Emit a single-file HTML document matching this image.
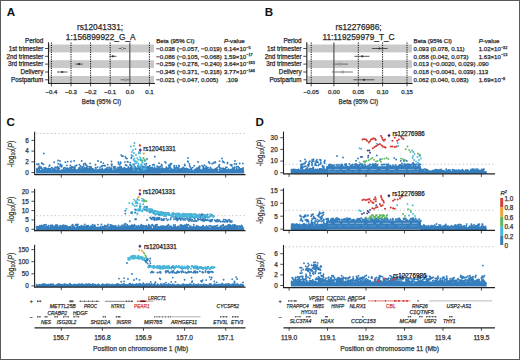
<!DOCTYPE html>
<html><head><meta charset="utf-8"><style>
html,body{margin:0;padding:0;background:#fff;}
body{width:520px;height:360px;overflow:hidden;}
svg{display:block;font-family:"Liberation Sans", sans-serif;}
</style></head><body>
<svg width="520" height="360" viewBox="0 0 520 360">
<rect x="0" y="0" width="520" height="360" fill="#fff"/>
<text x="6.80" y="15.90" font-size="11.6" text-anchor="start" fill="#111" font-weight="bold" font-style="normal" >A</text>
<text x="100.00" y="30.00" font-size="8.3" text-anchor="middle" fill="#2a2a2a" stroke="#2a2a2a" stroke-width="0.25" font-weight="normal" font-style="normal" >rs12041331;</text>
<text x="100.70" y="40.00" font-size="8.3" text-anchor="middle" fill="#2a2a2a" stroke="#2a2a2a" stroke-width="0.25" font-weight="normal" font-style="normal" >1:156899922_G_A</text>
<rect x="49.00" y="44.50" width="105.00" height="7.90" fill="#c9c9c9"/>
<rect x="49.00" y="60.20" width="105.00" height="7.80" fill="#c9c9c9"/>
<rect x="49.00" y="76.00" width="105.00" height="7.00" fill="#c9c9c9"/>
<text x="43.30" y="42.80" font-size="6.3" text-anchor="end" fill="#2a2a2a" stroke="#2a2a2a" stroke-width="0.25" font-weight="normal" font-style="normal" >Period</text>
<text x="43.30" y="50.70" font-size="6.3" text-anchor="end" fill="#2a2a2a" stroke="#2a2a2a" stroke-width="0.25" font-weight="normal" font-style="normal" >1st trimester</text>
<line x1="45.00" y1="48.50" x2="48.50" y2="48.50" stroke="#222" stroke-width="0.8" />
<text x="43.30" y="58.50" font-size="6.3" text-anchor="end" fill="#2a2a2a" stroke="#2a2a2a" stroke-width="0.25" font-weight="normal" font-style="normal" >2nd trimester</text>
<line x1="45.00" y1="56.30" x2="48.50" y2="56.30" stroke="#222" stroke-width="0.8" />
<text x="43.30" y="66.30" font-size="6.3" text-anchor="end" fill="#2a2a2a" stroke="#2a2a2a" stroke-width="0.25" font-weight="normal" font-style="normal" >3rd trimester</text>
<line x1="45.00" y1="64.10" x2="48.50" y2="64.10" stroke="#222" stroke-width="0.8" />
<text x="43.30" y="74.20" font-size="6.3" text-anchor="end" fill="#2a2a2a" stroke="#2a2a2a" stroke-width="0.25" font-weight="normal" font-style="normal" >Delivery</text>
<line x1="45.00" y1="72.00" x2="48.50" y2="72.00" stroke="#222" stroke-width="0.8" />
<text x="43.30" y="82.00" font-size="6.3" text-anchor="end" fill="#2a2a2a" stroke="#2a2a2a" stroke-width="0.25" font-weight="normal" font-style="normal" >Postpartum</text>
<line x1="45.00" y1="79.80" x2="48.50" y2="79.80" stroke="#222" stroke-width="0.8" />
<line x1="51.40" y1="42.50" x2="51.40" y2="83.30" stroke="#111" stroke-width="1.0" stroke-dasharray="1.2,1.1" />
<line x1="51.40" y1="83.30" x2="51.40" y2="86.30" stroke="#222" stroke-width="0.8" />
<text x="51.40" y="93.80" font-size="6.0" text-anchor="middle" fill="#2a2a2a" stroke="#2a2a2a" stroke-width="0.25" font-weight="normal" font-style="normal" >−0.4</text>
<line x1="71.00" y1="42.50" x2="71.00" y2="83.30" stroke="#111" stroke-width="1.0" stroke-dasharray="1.2,1.1" />
<line x1="71.00" y1="83.30" x2="71.00" y2="86.30" stroke="#222" stroke-width="0.8" />
<text x="71.00" y="93.80" font-size="6.0" text-anchor="middle" fill="#2a2a2a" stroke="#2a2a2a" stroke-width="0.25" font-weight="normal" font-style="normal" >−0.3</text>
<line x1="90.60" y1="42.50" x2="90.60" y2="83.30" stroke="#111" stroke-width="1.0" stroke-dasharray="1.2,1.1" />
<line x1="90.60" y1="83.30" x2="90.60" y2="86.30" stroke="#222" stroke-width="0.8" />
<text x="90.60" y="93.80" font-size="6.0" text-anchor="middle" fill="#2a2a2a" stroke="#2a2a2a" stroke-width="0.25" font-weight="normal" font-style="normal" >−0.2</text>
<line x1="110.20" y1="42.50" x2="110.20" y2="83.30" stroke="#111" stroke-width="1.0" stroke-dasharray="1.2,1.1" />
<line x1="110.20" y1="83.30" x2="110.20" y2="86.30" stroke="#222" stroke-width="0.8" />
<text x="110.20" y="93.80" font-size="6.0" text-anchor="middle" fill="#2a2a2a" stroke="#2a2a2a" stroke-width="0.25" font-weight="normal" font-style="normal" >−0.1</text>
<line x1="129.80" y1="42.50" x2="129.80" y2="83.30" stroke="#555" stroke-width="1.2" />
<line x1="129.80" y1="83.30" x2="129.80" y2="86.30" stroke="#222" stroke-width="0.8" />
<text x="129.80" y="93.80" font-size="6.0" text-anchor="middle" fill="#2a2a2a" stroke="#2a2a2a" stroke-width="0.25" font-weight="normal" font-style="normal" >0.0</text>
<line x1="149.40" y1="42.50" x2="149.40" y2="83.30" stroke="#111" stroke-width="1.0" stroke-dasharray="1.2,1.1" />
<line x1="149.40" y1="83.30" x2="149.40" y2="86.30" stroke="#222" stroke-width="0.8" />
<text x="149.40" y="93.80" font-size="6.0" text-anchor="middle" fill="#2a2a2a" stroke="#2a2a2a" stroke-width="0.25" font-weight="normal" font-style="normal" >0.1</text>
<line x1="48.50" y1="42.30" x2="48.50" y2="84.00" stroke="#222" stroke-width="1.1" />
<line x1="48.00" y1="83.50" x2="155.00" y2="83.50" stroke="#222" stroke-width="1.1" />
<text x="101.50" y="103.80" font-size="8.0" text-anchor="middle" fill="#2a2a2a" stroke="#2a2a2a" stroke-width="0.25" font-weight="normal" font-style="normal"  textLength="39.4" lengthAdjust="spacingAndGlyphs">Beta (95% CI)</text>
<line x1="118.63" y1="48.50" x2="126.08" y2="48.50" stroke="#666" stroke-width="0.9" />
<circle cx="122.35" cy="48.50" r="1.1" fill="#f4f4f4" stroke="#555" stroke-width="0.6"/>
<line x1="109.22" y1="56.30" x2="116.47" y2="56.30" stroke="#444" stroke-width="0.9" />
<circle cx="112.94" cy="56.30" r="1.1" fill="#333"/>
<line x1="75.31" y1="64.10" x2="82.76" y2="64.10" stroke="#444" stroke-width="0.9" />
<circle cx="79.04" cy="64.10" r="1.1" fill="#333"/>
<line x1="57.08" y1="72.00" x2="67.47" y2="72.00" stroke="#444" stroke-width="0.9" />
<circle cx="62.18" cy="72.00" r="1.1" fill="#333"/>
<line x1="120.59" y1="79.80" x2="130.78" y2="79.80" stroke="#666" stroke-width="0.9" />
<circle cx="125.68" cy="79.80" r="1.1" fill="#f4f4f4" stroke="#555" stroke-width="0.6"/>
<text x="156.20" y="42.90" font-size="6.1" text-anchor="start" fill="#2a2a2a" stroke="#2a2a2a" stroke-width="0.25" font-weight="normal" font-style="normal" >Beta (95% CI)</text>
<text x="224.00" y="42.90" font-size="6.1" text-anchor="start" fill="#2a2a2a" stroke="#2a2a2a" stroke-width="0.25" font-weight="normal" font-style="normal" ><tspan font-style="italic">P</tspan>-value</text>
<text x="156.20" y="50.70" font-size="6.1" text-anchor="start" fill="#2a2a2a" stroke="#2a2a2a" stroke-width="0.25" font-weight="normal" font-style="normal" >−0.038 (−0.057, −0.019)</text>
<text x="224.00" y="50.70" font-size="6.1" text-anchor="start" fill="#2a2a2a" stroke="#2a2a2a" stroke-width="0.25" font-weight="normal" font-style="normal" >6.14×10<tspan dy="-2.2" font-size="3.8">−5</tspan></text>
<text x="156.20" y="58.50" font-size="6.1" text-anchor="start" fill="#2a2a2a" stroke="#2a2a2a" stroke-width="0.25" font-weight="normal" font-style="normal" >−0.086 (−0.105, −0.068)</text>
<text x="224.00" y="58.50" font-size="6.1" text-anchor="start" fill="#2a2a2a" stroke="#2a2a2a" stroke-width="0.25" font-weight="normal" font-style="normal" >1.59×10<tspan dy="-2.2" font-size="3.8">−17</tspan></text>
<text x="156.20" y="66.30" font-size="6.1" text-anchor="start" fill="#2a2a2a" stroke="#2a2a2a" stroke-width="0.25" font-weight="normal" font-style="normal" >−0.259 (−0.278, −0.240)</text>
<text x="224.00" y="66.30" font-size="6.1" text-anchor="start" fill="#2a2a2a" stroke="#2a2a2a" stroke-width="0.25" font-weight="normal" font-style="normal" >3.64×10<tspan dy="-2.2" font-size="3.8">−163</tspan></text>
<text x="156.20" y="74.20" font-size="6.1" text-anchor="start" fill="#2a2a2a" stroke="#2a2a2a" stroke-width="0.25" font-weight="normal" font-style="normal" >−0.345 (−0.371, −0.318)</text>
<text x="224.00" y="74.20" font-size="6.1" text-anchor="start" fill="#2a2a2a" stroke="#2a2a2a" stroke-width="0.25" font-weight="normal" font-style="normal" >3.77×10<tspan dy="-2.2" font-size="3.8">−148</tspan></text>
<text x="156.20" y="82.00" font-size="6.1" text-anchor="start" fill="#2a2a2a" stroke="#2a2a2a" stroke-width="0.25" font-weight="normal" font-style="normal" >−0.021 (−0.047, 0.005)</text>
<text x="226.00" y="82.00" font-size="6.1" text-anchor="start" fill="#2a2a2a" stroke="#2a2a2a" stroke-width="0.25" font-weight="normal" font-style="normal" >.109</text>
<text x="264.80" y="15.90" font-size="11.6" text-anchor="start" fill="#111" font-weight="bold" font-style="normal" >B</text>
<text x="358.60" y="30.00" font-size="8.3" text-anchor="middle" fill="#2a2a2a" stroke="#2a2a2a" stroke-width="0.25" font-weight="normal" font-style="normal" >rs12276986;</text>
<text x="358.50" y="40.00" font-size="8.3" text-anchor="middle" fill="#2a2a2a" stroke="#2a2a2a" stroke-width="0.25" font-weight="normal" font-style="normal" >11:119259979_T_C</text>
<rect x="307.30" y="44.50" width="104.70" height="7.90" fill="#c9c9c9"/>
<rect x="307.30" y="60.20" width="104.70" height="7.80" fill="#c9c9c9"/>
<rect x="307.30" y="76.00" width="104.70" height="7.00" fill="#c9c9c9"/>
<text x="301.60" y="42.80" font-size="6.3" text-anchor="end" fill="#2a2a2a" stroke="#2a2a2a" stroke-width="0.25" font-weight="normal" font-style="normal" >Period</text>
<text x="301.60" y="50.70" font-size="6.3" text-anchor="end" fill="#2a2a2a" stroke="#2a2a2a" stroke-width="0.25" font-weight="normal" font-style="normal" >1st trimester</text>
<line x1="303.30" y1="48.50" x2="306.80" y2="48.50" stroke="#222" stroke-width="0.8" />
<text x="301.60" y="58.50" font-size="6.3" text-anchor="end" fill="#2a2a2a" stroke="#2a2a2a" stroke-width="0.25" font-weight="normal" font-style="normal" >2nd trimester</text>
<line x1="303.30" y1="56.30" x2="306.80" y2="56.30" stroke="#222" stroke-width="0.8" />
<text x="301.60" y="66.30" font-size="6.3" text-anchor="end" fill="#2a2a2a" stroke="#2a2a2a" stroke-width="0.25" font-weight="normal" font-style="normal" >3rd trimester</text>
<line x1="303.30" y1="64.10" x2="306.80" y2="64.10" stroke="#222" stroke-width="0.8" />
<text x="301.60" y="74.20" font-size="6.3" text-anchor="end" fill="#2a2a2a" stroke="#2a2a2a" stroke-width="0.25" font-weight="normal" font-style="normal" >Delivery</text>
<line x1="303.30" y1="72.00" x2="306.80" y2="72.00" stroke="#222" stroke-width="0.8" />
<text x="301.60" y="82.00" font-size="6.3" text-anchor="end" fill="#2a2a2a" stroke="#2a2a2a" stroke-width="0.25" font-weight="normal" font-style="normal" >Postpartum</text>
<line x1="303.30" y1="79.80" x2="306.80" y2="79.80" stroke="#222" stroke-width="0.8" />
<line x1="311.20" y1="42.50" x2="311.20" y2="83.30" stroke="#111" stroke-width="1.0" stroke-dasharray="1.2,1.1" />
<line x1="311.20" y1="83.30" x2="311.20" y2="86.30" stroke="#222" stroke-width="0.8" />
<text x="311.20" y="93.80" font-size="6.0" text-anchor="middle" fill="#2a2a2a" stroke="#2a2a2a" stroke-width="0.25" font-weight="normal" font-style="normal" >−0.05</text>
<line x1="333.90" y1="42.50" x2="333.90" y2="83.30" stroke="#555" stroke-width="1.2" />
<line x1="333.90" y1="83.30" x2="333.90" y2="86.30" stroke="#222" stroke-width="0.8" />
<text x="333.90" y="93.80" font-size="6.0" text-anchor="middle" fill="#2a2a2a" stroke="#2a2a2a" stroke-width="0.25" font-weight="normal" font-style="normal" >0.00</text>
<line x1="358.30" y1="42.50" x2="358.30" y2="83.30" stroke="#111" stroke-width="1.0" stroke-dasharray="1.2,1.1" />
<line x1="358.30" y1="83.30" x2="358.30" y2="86.30" stroke="#222" stroke-width="0.8" />
<text x="358.30" y="93.80" font-size="6.0" text-anchor="middle" fill="#2a2a2a" stroke="#2a2a2a" stroke-width="0.25" font-weight="normal" font-style="normal" >0.05</text>
<line x1="382.60" y1="42.50" x2="382.60" y2="83.30" stroke="#111" stroke-width="1.0" stroke-dasharray="1.2,1.1" />
<line x1="382.60" y1="83.30" x2="382.60" y2="86.30" stroke="#222" stroke-width="0.8" />
<text x="382.60" y="93.80" font-size="6.0" text-anchor="middle" fill="#2a2a2a" stroke="#2a2a2a" stroke-width="0.25" font-weight="normal" font-style="normal" >0.10</text>
<line x1="407.00" y1="42.50" x2="407.00" y2="83.30" stroke="#111" stroke-width="1.0" stroke-dasharray="1.2,1.1" />
<line x1="407.00" y1="83.30" x2="407.00" y2="86.30" stroke="#222" stroke-width="0.8" />
<text x="407.00" y="93.80" font-size="6.0" text-anchor="middle" fill="#2a2a2a" stroke="#2a2a2a" stroke-width="0.25" font-weight="normal" font-style="normal" >0.15</text>
<line x1="306.80" y1="42.30" x2="306.80" y2="84.00" stroke="#222" stroke-width="1.1" />
<line x1="306.30" y1="83.50" x2="412.70" y2="83.50" stroke="#222" stroke-width="1.1" />
<text x="358.30" y="103.80" font-size="8.0" text-anchor="middle" fill="#2a2a2a" stroke="#2a2a2a" stroke-width="0.25" font-weight="normal" font-style="normal"  textLength="39.4" lengthAdjust="spacingAndGlyphs">Beta (95% CI)</text>
<line x1="371.96" y1="48.50" x2="387.58" y2="48.50" stroke="#444" stroke-width="0.9" />
<circle cx="379.28" cy="48.50" r="1.1" fill="#333"/>
<line x1="354.40" y1="56.30" x2="369.52" y2="56.30" stroke="#444" stroke-width="0.9" />
<circle cx="362.20" cy="56.30" r="1.1" fill="#333"/>
<line x1="332.92" y1="64.10" x2="348.05" y2="64.10" stroke="#666" stroke-width="0.9" />
<circle cx="340.24" cy="64.10" r="1.1" fill="#f4f4f4" stroke="#555" stroke-width="0.6"/>
<line x1="331.90" y1="72.00" x2="352.93" y2="72.00" stroke="#666" stroke-width="0.9" />
<circle cx="342.68" cy="72.00" r="1.1" fill="#f4f4f4" stroke="#555" stroke-width="0.6"/>
<line x1="353.42" y1="79.80" x2="374.40" y2="79.80" stroke="#444" stroke-width="0.9" />
<circle cx="364.16" cy="79.80" r="1.1" fill="#333"/>
<text x="413.60" y="42.90" font-size="6.1" text-anchor="start" fill="#2a2a2a" stroke="#2a2a2a" stroke-width="0.25" font-weight="normal" font-style="normal" >Beta (95% CI)</text>
<text x="478.70" y="42.90" font-size="6.1" text-anchor="start" fill="#2a2a2a" stroke="#2a2a2a" stroke-width="0.25" font-weight="normal" font-style="normal" ><tspan font-style="italic">P</tspan>-value</text>
<text x="413.60" y="50.70" font-size="6.1" text-anchor="start" fill="#2a2a2a" stroke="#2a2a2a" stroke-width="0.25" font-weight="normal" font-style="normal" >0.093 (0.078, 0.11)</text>
<text x="478.70" y="50.70" font-size="6.1" text-anchor="start" fill="#2a2a2a" stroke="#2a2a2a" stroke-width="0.25" font-weight="normal" font-style="normal" >1.02×10<tspan dy="-2.2" font-size="3.8">−32</tspan></text>
<text x="413.60" y="58.50" font-size="6.1" text-anchor="start" fill="#2a2a2a" stroke="#2a2a2a" stroke-width="0.25" font-weight="normal" font-style="normal" >0.058 (0.042, 0.073)</text>
<text x="478.70" y="58.50" font-size="6.1" text-anchor="start" fill="#2a2a2a" stroke="#2a2a2a" stroke-width="0.25" font-weight="normal" font-style="normal" >1.63×10<tspan dy="-2.2" font-size="3.8">−13</tspan></text>
<text x="413.60" y="66.30" font-size="6.1" text-anchor="start" fill="#2a2a2a" stroke="#2a2a2a" stroke-width="0.25" font-weight="normal" font-style="normal" >0.013 (−0.0020, 0.029)</text>
<text x="476.80" y="66.30" font-size="6.1" text-anchor="start" fill="#2a2a2a" stroke="#2a2a2a" stroke-width="0.25" font-weight="normal" font-style="normal" >.090</text>
<text x="413.60" y="74.20" font-size="6.1" text-anchor="start" fill="#2a2a2a" stroke="#2a2a2a" stroke-width="0.25" font-weight="normal" font-style="normal" >0.018 (−0.0041, 0.039)</text>
<text x="476.80" y="74.20" font-size="6.1" text-anchor="start" fill="#2a2a2a" stroke="#2a2a2a" stroke-width="0.25" font-weight="normal" font-style="normal" >.113</text>
<text x="413.60" y="82.00" font-size="6.1" text-anchor="start" fill="#2a2a2a" stroke="#2a2a2a" stroke-width="0.25" font-weight="normal" font-style="normal" >0.062 (0.040, 0.083)</text>
<text x="478.70" y="82.00" font-size="6.1" text-anchor="start" fill="#2a2a2a" stroke="#2a2a2a" stroke-width="0.25" font-weight="normal" font-style="normal" >1.69×10<tspan dy="-2.2" font-size="3.8">−8</tspan></text>
<text x="6.40" y="125.90" font-size="11.6" text-anchor="start" fill="#111" font-weight="bold" font-style="normal" >C</text>
<text x="255.40" y="125.60" font-size="11.6" text-anchor="start" fill="#111" font-weight="bold" font-style="normal" >D</text>
<line x1="34.60" y1="131.80" x2="34.60" y2="175.10" stroke="#222" stroke-width="1.1" />
<line x1="31.40" y1="140.40" x2="34.60" y2="140.40" stroke="#222" stroke-width="0.8" />
<text x="28.80" y="142.70" font-size="6.4" text-anchor="end" fill="#333" stroke="#333" stroke-width="0.25" font-weight="normal" font-style="normal" >6</text>
<line x1="31.40" y1="151.10" x2="34.60" y2="151.10" stroke="#222" stroke-width="0.8" />
<text x="28.80" y="153.40" font-size="6.4" text-anchor="end" fill="#333" stroke="#333" stroke-width="0.25" font-weight="normal" font-style="normal" >4</text>
<line x1="31.40" y1="161.80" x2="34.60" y2="161.80" stroke="#222" stroke-width="0.8" />
<text x="28.80" y="164.10" font-size="6.4" text-anchor="end" fill="#333" stroke="#333" stroke-width="0.25" font-weight="normal" font-style="normal" >2</text>
<line x1="31.40" y1="172.50" x2="34.60" y2="172.50" stroke="#222" stroke-width="0.8" />
<text x="28.80" y="174.80" font-size="6.4" text-anchor="end" fill="#333" stroke="#333" stroke-width="0.25" font-weight="normal" font-style="normal" >0</text>
<text transform="translate(13.60,154.00) rotate(-90)" font-size="8.3" text-anchor="middle" fill="#333" stroke="#333" stroke-width="0.2" textLength="26.6" lengthAdjust="spacingAndGlyphs">-log<tspan font-size="5.6" dy="1.8">10</tspan><tspan dy="-1.8">(</tspan><tspan font-style="italic">P</tspan>)</text>
<line x1="36.00" y1="133.44" x2="247.00" y2="133.44" stroke="#b8b8b8" stroke-width="0.75" stroke-dasharray="1.5,2.2" />
<rect x="35.90" y="170.91" width="208.20" height="2.59" fill="#357ebd"/>
<rect x="119.40" y="168.17" width="41.20" height="5.33" fill="#357ebd"/>
<path d="M48.5 171.2h0M124.4 169.4h0M166.4 167.3h0M100.4 169.5h0M73.9 171.0h0M101.5 170.9h0M200.9 170.4h0M87.0 171.0h0M145.2 168.8h0M123.1 170.0h0M44.6 170.6h0M194.8 171.0h0M180.4 170.9h0M210.4 167.4h0M134.6 170.6h0M49.1 170.4h0M170.5 163.7h0M116.4 170.5h0M48.7 169.9h0M117.4 168.9h0M150.2 168.7h0M206.1 169.0h0M110.8 168.7h0M112.9 171.0h0M233.8 170.4h0M143.2 170.8h0M222.7 169.8h0M217.5 169.7h0M57.9 170.7h0M41.8 168.8h0M212.2 163.7h0M41.3 167.2h0M145.8 165.7h0M215.2 170.4h0M71.1 169.9h0M146.7 169.8h0M204.5 165.1h0M213.0 169.6h0M205.9 170.1h0M83.4 171.2h0M90.1 170.4h0M230.5 164.7h0M165.7 168.4h0M171.7 169.7h0M54.0 170.6h0M224.8 169.8h0M73.5 169.8h0M105.3 169.7h0M119.6 167.3h0M223.8 169.6h0M66.8 169.4h0M239.4 170.6h0M109.0 171.1h0M237.5 170.6h0M145.5 167.7h0M126.3 168.9h0M86.3 170.9h0M63.6 168.2h0M157.3 168.4h0M123.6 168.1h0M140.3 171.2h0M37.3 169.7h0M186.6 171.1h0M104.0 171.2h0M151.5 169.8h0M58.5 171.0h0M196.4 171.2h0M152.8 170.0h0M163.3 171.3h0M142.5 170.4h0M130.1 171.2h0M135.5 167.5h0M181.2 168.8h0M152.3 167.4h0M51.6 170.5h0M198.8 168.5h0M68.5 170.3h0M219.2 166.4h0M82.0 167.1h0M241.4 169.3h0M165.7 171.2h0M49.8 165.1h0M199.7 166.2h0M44.7 169.8h0M123.9 168.2h0M67.4 168.1h0M154.6 170.4h0M51.5 167.6h0M167.8 169.6h0M53.8 169.1h0M50.3 169.0h0M151.0 167.9h0M188.2 171.1h0M139.0 169.3h0M117.9 171.3h0M178.9 165.4h0M107.4 169.3h0M182.8 170.7h0M51.1 170.1h0M54.0 169.3h0M216.7 170.5h0M91.0 166.7h0M237.8 171.1h0M87.1 166.5h0M134.8 171.3h0M78.1 171.3h0M157.7 171.2h0M191.9 170.6h0M184.7 168.8h0M186.4 170.7h0M45.6 169.3h0M221.1 170.8h0M188.4 169.5h0M65.3 171.2h0M140.9 169.3h0M203.1 169.4h0M157.4 168.6h0M177.9 170.4h0M58.2 169.3h0M152.1 170.8h0M166.1 170.5h0M201.6 170.1h0M140.6 171.1h0M189.6 165.9h0M135.7 170.5h0M195.3 170.8h0M175.6 170.4h0M239.0 167.6h0M206.2 166.4h0M79.9 167.4h0M80.1 171.0h0M65.8 171.2h0M206.3 171.2h0M220.1 170.4h0M84.4 168.5h0M37.2 171.3h0M101.9 169.3h0M36.9 170.0h0M228.3 170.3h0M243.3 170.9h0M57.6 169.3h0M95.6 167.7h0M113.8 167.0h0M219.5 169.5h0M167.1 168.2h0M231.2 171.1h0M192.3 170.7h0M98.1 170.1h0M79.5 168.3h0M224.1 162.5h0M154.4 168.6h0M122.2 171.2h0M140.7 170.7h0M234.0 169.2h0M43.2 170.3h0M117.5 167.9h0M207.4 169.1h0M144.6 170.5h0M231.4 170.2h0M170.5 169.9h0M131.2 171.1h0M44.7 169.8h0M84.6 168.0h0M168.2 170.4h0M145.1 171.0h0M235.0 170.7h0M235.3 170.3h0M139.7 170.5h0M174.6 167.9h0M201.5 170.1h0M82.3 170.0h0M97.6 167.1h0M174.2 167.3h0M80.6 166.0h0M222.4 168.7h0M188.2 161.9h0M74.9 167.7h0M110.3 169.5h0M113.7 168.1h0M121.5 169.6h0M191.2 168.5h0M234.7 170.8h0M90.8 170.3h0M37.3 170.0h0M226.2 170.7h0M234.6 167.1h0M125.5 171.3h0M202.6 170.1h0M206.8 169.9h0M77.3 170.0h0M43.5 171.1h0M103.9 165.6h0M219.4 164.7h0M56.5 171.3h0M164.9 170.5h0M191.3 169.2h0M68.2 168.7h0M118.5 163.9h0M203.8 170.6h0M134.8 169.5h0M210.5 168.2h0M237.9 171.0h0M90.3 169.8h0M159.9 170.8h0M89.3 170.9h0M201.1 171.1h0M118.3 171.1h0M70.4 170.4h0M100.2 167.1h0M101.2 171.0h0M215.4 162.5h0M37.7 168.4h0M124.2 169.5h0M120.6 168.7h0M39.6 171.1h0M169.1 168.3h0M54.9 170.8h0M113.3 171.3h0M144.4 167.9h0M203.1 166.5h0M231.7 165.9h0M223.7 170.8h0M120.2 169.2h0M186.6 168.5h0M45.0 171.0h0M160.6 171.1h0M123.5 171.0h0M124.6 170.6h0M41.3 170.8h0M194.6 169.8h0M188.3 169.8h0M213.9 162.7h0M188.0 169.5h0M76.6 165.4h0M138.3 167.0h0M199.7 167.8h0M140.5 168.0h0M69.9 167.6h0M177.2 168.5h0M71.4 169.8h0M60.3 171.2h0M217.2 171.1h0M156.6 168.7h0M58.2 163.8h0M241.5 171.0h0M111.1 169.9h0M168.8 165.2h0M157.8 170.6h0M142.6 168.5h0M82.9 171.0h0M64.4 167.6h0M56.3 170.7h0M216.9 169.8h0M38.9 170.7h0M230.5 170.2h0M87.9 168.4h0M45.6 171.2h0M48.6 169.8h0M39.1 171.1h0M77.8 170.8h0M141.4 170.7h0M46.5 168.6h0M198.6 170.3h0M37.8 169.2h0M106.0 170.1h0M180.4 169.2h0M199.7 171.2h0M91.4 170.7h0M190.5 167.4h0M86.0 168.3h0M167.1 170.4h0M174.2 165.7h0M133.7 169.3h0M180.9 169.1h0M127.0 170.2h0M80.4 170.8h0M52.6 168.2h0M58.6 167.8h0M179.9 170.7h0M180.8 170.1h0M50.1 170.9h0M111.7 169.5h0M206.1 168.6h0M50.2 168.9h0M225.8 167.4h0M212.0 169.5h0M167.8 169.4h0M95.0 170.3h0M236.0 171.3h0M212.7 170.8h0M126.8 169.9h0M108.3 170.3h0M194.3 165.8h0M138.2 169.7h0M74.7 171.3h0M108.4 169.4h0M90.4 167.4h0M181.3 171.3h0M59.3 170.7h0M53.2 169.8h0M180.8 169.8h0M223.1 171.3h0M115.0 168.7h0M146.5 170.0h0M192.4 170.7h0M68.7 169.2h0M173.6 170.1h0M196.6 171.0h0M182.1 169.2h0M238.4 170.2h0M57.6 166.7h0M240.2 169.7h0M77.1 170.7h0M119.1 169.7h0M180.0 171.3h0M65.9 170.9h0M120.3 170.1h0M155.3 170.1h0M186.0 168.8h0M196.7 170.4h0M213.0 170.5h0M101.3 170.8h0M198.5 170.3h0M176.3 167.8h0M74.4 170.6h0M137.9 166.0h0M44.4 171.1h0M69.8 169.8h0M231.2 171.2h0M57.4 171.0h0M148.5 170.3h0M142.5 170.7h0M208.1 171.2h0M121.4 167.3h0M80.0 170.5h0M117.7 170.0h0M61.8 165.1h0M123.6 170.4h0M83.0 170.1h0M231.1 171.2h0M81.8 169.6h0M63.3 169.9h0M204.1 170.7h0M133.6 171.0h0M83.3 166.6h0M109.6 170.7h0M206.0 169.5h0M37.1 170.2h0M125.2 170.7h0M228.7 169.1h0M48.3 169.4h0M224.0 169.8h0M65.6 169.4h0M38.9 167.1h0M84.9 169.9h0M223.6 169.7h0M71.3 168.6h0M162.4 169.8h0M174.9 168.5h0M199.6 169.3h0M77.4 170.4h0M146.4 170.1h0M127.3 168.7h0M138.2 171.3h0M148.2 169.0h0M37.9 169.3h0M133.4 171.0h0M174.2 169.3h0M168.4 170.7h0M42.4 170.8h0M177.8 167.8h0M104.9 165.4h0M185.2 170.8h0M106.6 169.0h0M145.3 169.9h0M123.9 171.1h0M141.3 166.0h0M172.0 169.7h0M98.4 170.9h0M167.9 169.8h0M44.8 170.2h0M219.8 171.1h0M227.2 170.8h0M172.7 169.8h0M224.8 170.8h0M164.2 170.8h0M180.7 170.9h0M196.8 168.2h0M206.8 169.8h0M169.3 167.7h0M47.8 171.0h0M204.2 171.0h0M159.0 167.6h0M37.5 170.5h0M61.7 166.5h0M54.7 168.9h0M46.9 169.9h0M184.2 169.1h0M166.6 170.3h0M131.8 167.7h0M89.1 166.6h0M39.5 170.6h0M100.9 170.2h0M70.9 169.0h0M112.6 171.0h0M127.3 170.5h0M66.5 169.7h0M111.7 170.7h0M116.3 169.8h0M232.1 169.8h0M49.1 166.1h0M182.1 169.4h0M105.2 170.9h0M238.8 169.4h0M125.2 168.6h0M114.5 170.5h0M161.1 168.5h0M124.0 170.9h0M205.4 168.6h0M45.3 169.3h0M204.5 168.9h0M212.7 169.6h0M178.2 168.2h0M151.1 169.7h0M78.0 170.1h0M162.1 170.5h0M89.2 170.0h0M54.7 169.6h0M156.5 168.5h0M219.7 171.2h0M135.2 170.9h0M73.9 170.4h0M111.6 171.0h0M119.8 171.2h0M58.5 170.7h0M43.5 164.3h0M232.4 169.9h0M206.0 166.7h0M151.9 168.9h0M131.4 167.3h0M61.3 166.8h0M89.7 171.0h0M169.1 167.0h0M236.4 164.0h0M223.4 168.4h0M199.3 170.3h0M170.4 165.0h0M192.8 167.6h0M158.9 170.0h0M44.0 167.9h0M82.2 167.7h0M215.9 168.6h0M56.6 167.8h0M210.8 170.8h0M184.2 171.1h0M66.5 168.9h0M71.2 171.3h0M102.3 168.4h0M60.1 165.7h0M48.3 168.5h0M111.9 164.2h0M243.1 167.9h0M208.8 171.2h0M73.8 169.9h0M162.5 171.3h0M163.3 170.3h0M204.5 171.0h0M210.8 169.0h0M75.0 169.4h0M113.3 170.9h0M37.5 171.2h0M128.8 171.2h0M61.5 170.3h0M205.5 169.0h0M102.9 170.3h0M115.4 170.0h0M49.2 168.9h0M234.0 171.3h0M142.8 171.2h0M88.3 169.5h0M40.2 170.9h0M155.8 171.2h0M216.5 170.3h0M138.7 171.3h0M159.0 169.0h0M67.0 171.0h0M207.5 167.6h0M210.3 171.2h0M118.4 167.5h0M126.7 165.5h0M203.0 168.2h0M205.2 169.2h0M47.6 171.2h0M234.8 167.7h0M126.1 171.3h0M237.2 169.9h0M230.4 170.7h0M204.0 168.7h0M148.7 167.9h0M99.7 170.7h0M61.4 170.9h0M234.4 171.2h0M54.7 171.1h0M210.3 170.8h0M154.5 170.6h0M78.1 170.3h0M131.9 171.1h0M82.4 171.2h0M115.8 170.9h0M151.7 171.3h0M95.5 164.8h0M97.7 169.9h0M127.6 170.2h0M235.1 170.1h0M109.5 170.5h0M164.1 169.2h0M206.5 171.2h0M189.4 170.1h0M199.0 170.3h0M195.0 170.9h0M139.6 166.7h0M198.7 168.9h0M117.4 171.1h0M199.4 169.2h0M66.5 171.0h0M211.1 169.3h0M124.8 168.2h0M153.4 171.3h0M227.0 169.9h0M148.0 167.0h0M143.6 170.5h0M232.7 170.5h0M152.7 171.0h0M218.6 166.6h0M165.8 162.7h0M107.6 171.2h0M102.3 165.7h0M207.5 171.2h0M59.4 168.5h0M179.3 169.5h0M241.5 168.6h0M96.5 171.2h0M74.3 170.7h0M242.2 170.7h0M99.5 169.2h0M157.8 170.6h0M77.2 171.3h0M170.4 171.2h0M242.9 171.0h0M69.0 170.0h0M71.8 171.2h0M206.9 170.8h0M39.1 169.9h0M103.3 170.3h0M223.6 171.0h0M220.8 171.0h0M45.6 167.8h0M222.6 169.5h0M99.4 170.9h0M235.2 171.3h0M117.2 170.3h0M75.1 166.2h0M96.7 171.0h0M60.3 171.2h0M43.7 170.6h0M92.3 169.3h0M209.6 169.6h0M233.3 171.3h0M63.6 170.3h0M90.5 168.4h0M87.5 170.8h0M80.5 168.9h0M61.9 171.2h0M172.6 171.0h0M120.0 168.3h0M196.9 168.7h0M177.2 170.6h0M172.9 170.4h0M87.9 169.2h0M109.4 170.8h0M225.4 170.2h0M100.9 170.7h0M73.7 169.3h0M154.5 170.3h0M36.7 169.3h0M45.4 169.1h0M225.8 170.1h0M54.3 170.4h0M118.0 170.1h0M55.1 167.3h0M124.3 167.8h0M179.7 170.1h0M208.3 170.8h0M142.5 167.9h0M62.9 170.0h0M45.5 170.4h0M149.6 166.3h0M168.5 171.1h0M64.8 170.3h0M86.5 171.2h0M128.6 167.7h0M205.3 171.1h0M174.5 170.9h0M132.0 169.9h0M38.7 163.9h0M184.9 165.6h0M75.8 171.1h0M38.2 168.1h0M169.9 170.8h0M230.1 170.6h0M196.8 169.3h0M168.6 169.2h0M198.9 169.4h0M74.7 169.4h0M45.0 171.0h0M166.5 169.5h0M182.6 168.3h0M232.1 171.3h0M98.5 171.0h0M53.1 170.4h0M76.0 170.2h0M37.1 169.3h0M213.6 169.8h0M173.5 171.2h0M127.3 170.6h0M207.5 168.4h0M128.2 171.0h0M131.8 166.2h0M224.6 169.0h0M238.2 166.7h0M164.8 169.6h0M48.9 170.5h0M154.7 167.1h0M136.0 170.7h0M75.6 170.5h0M146.2 171.0h0M73.9 168.6h0M56.2 171.2h0M142.7 170.9h0M215.2 171.1h0M184.4 170.0h0M60.2 164.2h0M71.9 166.8h0M153.0 169.9h0M64.8 169.9h0M98.6 170.3h0M124.7 168.6h0M165.1 168.9h0M153.0 168.1h0M194.6 170.5h0M113.7 170.1h0M232.7 170.2h0M45.5 170.9h0M57.1 171.1h0M228.0 170.5h0M129.0 169.3h0M66.4 168.8h0M148.0 170.4h0M203.8 167.3h0M67.7 171.3h0M217.2 169.7h0M205.9 170.5h0M69.3 169.2h0M117.9 168.9h0M221.6 170.9h0M66.7 170.5h0M154.3 171.2h0M234.6 163.9h0M43.6 171.0h0M196.1 168.9h0M196.8 170.7h0M94.8 169.7h0M217.2 167.6h0M194.5 170.1h0M141.8 170.7h0M109.0 171.1h0M128.7 171.0h0M100.4 170.2h0M150.6 167.6h0M107.0 168.0h0M73.5 171.0h0M136.8 168.5h0M92.0 170.3h0M78.0 170.9h0M215.4 170.7h0M77.2 170.2h0M235.9 170.9h0M52.9 169.6h0M147.6 168.8h0M169.0 168.0h0M191.6 170.7h0M120.4 170.5h0M138.8 170.9h0M39.3 167.9h0M153.3 164.8h0M48.1 170.8h0M66.0 169.9h0M55.1 169.5h0M124.1 171.1h0M158.3 171.1h0M172.6 170.9h0M105.0 170.1h0M89.9 170.3h0M194.5 169.9h0M100.5 169.9h0M94.1 171.2h0M172.2 169.9h0M111.5 164.5h0M83.7 170.0h0M140.4 171.1h0M74.1 167.5h0M73.2 170.1h0M42.5 169.8h0M86.7 165.4h0M139.8 170.7h0M107.8 169.7h0M226.8 167.4h0M78.6 170.0h0M215.2 168.9h0M91.8 170.0h0M177.8 170.9h0M130.3 171.0h0M197.9 169.0h0M74.2 169.0h0M71.4 170.5h0M226.6 170.3h0M219.1 165.6h0M200.5 170.4h0M44.3 171.3h0M189.3 171.3h0M139.2 168.1h0M236.8 168.7h0M38.7 170.4h0M171.7 171.1h0M150.1 170.4h0M239.8 168.8h0M162.3 167.9h0M89.2 170.8h0M211.0 169.8h0M170.3 171.1h0M101.8 166.2h0M36.7 170.1h0M213.2 171.2h0M159.1 163.2h0M85.0 170.7h0M145.4 170.8h0M166.7 171.1h0M82.7 170.8h0M91.3 168.3h0M134.5 170.2h0M228.5 171.2h0M145.0 171.2h0M72.2 169.5h0M131.8 170.7h0M207.8 168.5h0M115.4 169.3h0M202.8 171.2h0M118.4 162.3h0M135.5 169.7h0M78.1 171.0h0M168.2 169.0h0M200.5 170.8h0M120.9 170.7h0M116.3 171.0h0M237.6 170.3h0M113.6 170.6h0M145.3 171.3h0M223.1 170.0h0M41.8 170.9h0M134.5 168.6h0M127.5 171.3h0M142.4 169.4h0M175.3 170.1h0M177.2 171.1h0M195.7 169.9h0M52.5 169.5h0M192.4 171.0h0M47.9 170.5h0M47.8 170.4h0M123.0 171.0h0M243.1 169.5h0M105.7 171.2h0M37.7 164.6h0M214.3 171.1h0M215.9 169.6h0M226.8 171.1h0M93.1 169.7h0M96.8 170.3h0M202.6 170.9h0M130.6 167.7h0M128.6 168.8h0M227.4 171.0h0M202.2 171.3h0M176.0 170.5h0M198.8 167.2h0M122.3 170.6h0M89.8 168.3h0M48.2 170.4h0M45.1 169.3h0M202.0 165.6h0M115.2 170.7h0M82.7 171.1h0M227.6 162.7h0M231.0 171.2h0M191.8 171.3h0M136.8 169.0h0M160.2 171.1h0M92.6 168.6h0M160.5 166.5h0M107.8 167.4h0M87.7 170.1h0M73.5 169.8h0M150.7 169.8h0M43.5 171.2h0M56.6 170.7h0M63.8 171.0h0M71.6 167.5h0M105.1 169.2h0M139.2 171.1h0M70.5 171.1h0M86.2 168.9h0M140.4 168.6h0M39.6 167.4h0M137.6 169.7h0M154.6 170.4h0M84.0 170.1h0M159.7 169.8h0M87.4 170.9h0M164.5 170.4h0M87.2 170.2h0M105.0 165.9h0M242.9 169.7h0M135.8 171.3h0M197.8 168.3h0M192.1 170.7h0M77.7 170.8h0M211.6 169.8h0M55.6 170.3h0M236.4 170.5h0M208.0 167.6h0M223.8 170.1h0M208.8 169.6h0M207.3 169.8h0M235.4 171.2h0M237.0 169.8h0M88.7 169.3h0M138.5 168.3h0M178.4 170.3h0M117.6 169.8h0M200.8 170.5h0M231.4 169.4h0M171.6 169.3h0M106.8 170.9h0M209.6 169.7h0M109.7 169.2h0M173.3 169.6h0M61.5 170.5h0M45.1 169.4h0M82.9 168.6h0M162.8 168.5h0M118.1 171.3h0M234.3 171.3h0M72.8 167.4h0M130.6 169.6h0M57.4 171.1h0M215.0 171.2h0M114.5 167.8h0M221.5 170.6h0M52.2 170.8h0M128.4 166.9h0M111.4 170.6h0M144.6 170.5h0M224.3 171.3h0M111.8 165.9h0M48.3 169.3h0M178.0 171.1h0M129.2 170.0h0M221.0 170.2h0M233.8 168.6h0M66.4 170.9h0M117.7 170.1h0M239.0 170.7h0M203.1 170.5h0M115.3 166.7h0M183.4 170.4h0M155.6 169.4h0M65.5 171.2h0M236.7 166.7h0M78.7 168.3h0M129.7 169.3h0M168.4 169.8h0M152.2 170.5h0M111.6 168.1h0M207.6 171.0h0M109.7 167.5h0M51.0 171.1h0M192.5 170.5h0M121.9 169.6h0M170.0 166.5h0M167.7 170.4h0M231.2 170.1h0M74.9 168.9h0M146.6 171.2h0M175.1 168.4h0M140.4 169.1h0M174.7 171.0h0M120.1 171.0h0M93.2 169.2h0M199.7 169.3h0M67.8 170.5h0M192.6 171.3h0M222.5 168.5h0M190.3 169.5h0M170.8 168.8h0M63.7 170.4h0M182.2 170.8h0M161.4 169.4h0M176.4 166.0h0M37.2 170.7h0M151.4 169.6h0M44.7 169.4h0M105.0 171.0h0M81.6 169.7h0M79.8 169.3h0M203.9 171.1h0M42.8 169.8h0M42.4 171.3h0M166.9 170.2h0M142.5 170.9h0M83.3 168.9h0M242.6 169.6h0M130.5 170.5h0M76.7 170.1h0M77.4 170.4h0M152.5 170.4h0M237.9 170.1h0M232.8 168.0h0M186.1 170.3h0M39.2 169.0h0M186.0 170.7h0M70.4 170.7h0M110.0 168.5h0M68.4 169.8h0M134.1 164.3h0M225.2 169.7h0M135.1 169.5h0M153.1 171.2h0M40.9 168.3h0M183.5 167.4h0M204.6 169.2h0M80.8 170.9h0M208.4 169.8h0M220.5 171.2h0M165.8 168.7h0M136.8 170.7h0M58.0 170.9h0M131.0 170.9h0M168.2 170.3h0M175.8 170.3h0M86.1 170.6h0M65.8 168.3h0M85.9 164.9h0M199.6 169.4h0M167.7 170.1h0M238.6 169.6h0M86.3 167.8h0M82.0 170.5h0M229.1 170.7h0M237.9 170.3h0M75.2 169.6h0M70.2 171.2h0M58.4 169.8h0M220.7 168.1h0M37.0 169.1h0M151.6 169.5h0M140.5 170.8h0M159.6 169.7h0M208.2 169.6h0M238.6 171.1h0M187.6 169.2h0M162.0 165.7h0M179.8 170.9h0M120.8 170.8h0M170.8 168.1h0M188.2 169.7h0M225.5 169.3h0M177.4 169.2h0M125.7 168.8h0M73.7 167.5h0M127.9 170.3h0M239.5 170.6h0M229.5 170.0h0M209.7 163.4h0M220.0 168.0h0M104.5 169.9h0M196.9 168.6h0M201.0 171.2h0M58.2 169.4h0M101.4 170.8h0M112.5 171.1h0M146.4 170.6h0M148.0 167.6h0M120.9 168.2h0M179.3 166.5h0M96.0 168.3h0M184.7 164.4h0M147.5 166.9h0M149.8 165.8h0M121.1 166.8h0M158.6 167.5h0M143.6 167.4h0M143.9 166.8h0M124.5 169.2h0M158.8 166.9h0M130.9 165.4h0M154.2 164.7h0M146.4 168.2h0M146.1 168.4h0M120.6 163.3h0M125.2 156.6h0M134.5 166.3h0M125.5 165.0h0M129.9 164.8h0M146.5 163.8h0M138.4 166.5h0M157.5 168.6h0M149.8 168.5h0M154.8 156.7h0M157.7 168.9h0M215.1 162.0h0M54.1 162.3h0M227.4 163.4h0M187.7 161.2h0M130.3 162.6h0M79.3 164.6h0M111.4 161.5h0M239.7 163.5h0M74.1 160.9h0M171.5 163.7h0M42.0 163.5h0M189.5 163.9h0M85.2 163.6h0M161.6 164.5h0M66.9 165.4h0M231.8 165.0h0M213.6 162.9h0M223.0 161.8h0M83.7 164.2h0M222.7 161.3h0M81.7 161.0h0M127.4 161.6h0M76.5 165.1h0M157.2 166.2h0M119.8 164.7h0M39.6 166.2h0M85.0 163.5h0M142.4 166.2h0M138.4 166.5h0M165.0 162.0h0M208.8 162.0h0M242.9 163.4h0M83.6 166.3h0M103.3 163.1h0M107.7 164.6h0M41.7 162.9h0M70.4 165.5h0M37.0 164.3h0M90.1 163.4h0M152.7 164.9h0M65.4 162.2h0M61.8 166.3h0M67.7 161.6h0M144.6 164.1h0M219.6 161.1h0" stroke="#357ebd" stroke-width="1.90" stroke-linecap="round" fill="none"/>
<path d="M43.8 153.4h0M58.0 160.5h0M60.0 161.0h0M71.0 161.5h0M98.0 161.0h0M101.0 162.0h0M147.0 159.0h0M198.0 162.0h0M188.0 158.0h0M235.0 161.0h0M222.0 158.5h0" stroke="#357ebd" stroke-width="1.90" stroke-linecap="round" fill="none"/>
<path d="M122.8 156.3h0M127.0 158.6h0M124.9 162.1h0M127.9 161.9h0M131.5 157.2h0M131.3 158.3h0M120.6 162.3h0M121.2 155.1h0M122.0 156.0h0M126.0 158.0h0" stroke="#357ebd" stroke-width="1.90" stroke-linecap="round" fill="none"/>
<path d="M134.5 143.0h0M134.0 146.0h0M131.0 146.5h0M133.0 150.0h0M132.0 152.0h0M134.0 153.0h0M133.0 156.0h0M135.5 149.0h0M131.5 155.0h0M134.5 158.5h0M136.0 155.0h0M136.8 161.8h0M145.6 169.3h0M138.5 164.9h0M144.0 168.5h0M141.5 164.7h0M134.5 161.2h0M141.6 165.6h0M143.4 169.7h0M145.5 160.5h0M134.0 169.7h0M140.4 160.4h0M142.0 161.3h0M136.1 162.8h0M139.8 166.8h0M134.0 167.6h0M141.1 164.1h0M141.7 168.4h0M133.1 164.2h0M141.8 167.2h0M141.4 160.3h0M145.5 168.2h0M136.0 163.6h0M145.5 160.7h0M138.3 170.5h0M144.7 161.0h0M142.6 162.7h0M141.6 168.0h0M134.7 160.9h0M135.8 161.5h0M133.5 159.8h0M138.3 163.5h0M134.0 165.6h0M145.3 165.5h0M137.6 167.2h0M138.6 153.4h0M138.9 152.1h0M140.1 153.3h0M138.2 159.7h0M140.6 158.7h0M139.9 157.1h0M140.2 159.7h0M137.2 158.1h0" stroke="#46b8da" stroke-width="1.90" stroke-linecap="round" fill="none"/>
<path d="M143.3 158.0h0M144.5 159.5h0M142.5 160.5h0" stroke="#5cb85c" stroke-width="1.90" stroke-linecap="round" fill="none"/>
<path d="M143.8 153.6h0" stroke="#eea236" stroke-width="2.20" stroke-linecap="round" fill="none"/>
<path d="M139.9 145.5h0" stroke="#d43f3a" stroke-width="2.30" stroke-linecap="round" fill="none"/>
<path d="M140.30 148.30L141.83 150.10L140.30 151.90L138.77 150.10Z" fill="#4e2a84"/>
<text x="143.30" y="151.30" font-size="6.3" text-anchor="start" fill="#222" stroke="#222" stroke-width="0.25" font-weight="normal" font-style="normal"  textLength="32.4" lengthAdjust="spacingAndGlyphs">rs12041331</text>
<line x1="34.50" y1="174.60" x2="245.50" y2="174.60" stroke="#222" stroke-width="1.3" />
<line x1="61.30" y1="174.60" x2="61.30" y2="177.60" stroke="#222" stroke-width="0.8" />
<line x1="102.40" y1="174.60" x2="102.40" y2="177.60" stroke="#222" stroke-width="0.8" />
<line x1="143.50" y1="174.60" x2="143.50" y2="177.60" stroke="#222" stroke-width="0.8" />
<line x1="184.60" y1="174.60" x2="184.60" y2="177.60" stroke="#222" stroke-width="0.8" />
<line x1="225.70" y1="174.60" x2="225.70" y2="177.60" stroke="#222" stroke-width="0.8" />
<line x1="34.60" y1="188.80" x2="34.60" y2="231.20" stroke="#222" stroke-width="1.1" />
<line x1="31.40" y1="191.90" x2="34.60" y2="191.90" stroke="#222" stroke-width="0.8" />
<text x="28.80" y="194.20" font-size="6.4" text-anchor="end" fill="#333" stroke="#333" stroke-width="0.25" font-weight="normal" font-style="normal" >20</text>
<line x1="31.40" y1="201.25" x2="34.60" y2="201.25" stroke="#222" stroke-width="0.8" />
<text x="28.80" y="203.55" font-size="6.4" text-anchor="end" fill="#333" stroke="#333" stroke-width="0.25" font-weight="normal" font-style="normal" >15</text>
<line x1="31.40" y1="210.60" x2="34.60" y2="210.60" stroke="#222" stroke-width="0.8" />
<text x="28.80" y="212.90" font-size="6.4" text-anchor="end" fill="#333" stroke="#333" stroke-width="0.25" font-weight="normal" font-style="normal" >10</text>
<line x1="31.40" y1="219.95" x2="34.60" y2="219.95" stroke="#222" stroke-width="0.8" />
<text x="28.80" y="222.25" font-size="6.4" text-anchor="end" fill="#333" stroke="#333" stroke-width="0.25" font-weight="normal" font-style="normal" >5</text>
<line x1="31.40" y1="229.30" x2="34.60" y2="229.30" stroke="#222" stroke-width="0.8" />
<text x="28.80" y="231.60" font-size="6.4" text-anchor="end" fill="#333" stroke="#333" stroke-width="0.25" font-weight="normal" font-style="normal" >0</text>
<text transform="translate(13.60,210.00) rotate(-90)" font-size="8.3" text-anchor="middle" fill="#333" stroke="#333" stroke-width="0.2" textLength="26.6" lengthAdjust="spacingAndGlyphs">-log<tspan font-size="5.6" dy="1.8">10</tspan><tspan dy="-1.8">(</tspan><tspan font-style="italic">P</tspan>)</text>
<line x1="36.00" y1="215.65" x2="247.00" y2="215.65" stroke="#b8b8b8" stroke-width="0.75" stroke-dasharray="1.5,2.2" />
<rect x="35.90" y="228.12" width="208.20" height="2.18" fill="#357ebd"/>
<path d="M206.6 228.1h0M212.4 226.6h0M39.6 228.3h0M72.4 227.7h0M91.4 227.7h0M60.1 225.7h0M105.9 228.3h0M165.7 227.7h0M90.9 227.2h0M228.8 228.2h0M201.5 227.2h0M56.0 228.1h0M76.1 227.7h0M202.9 227.2h0M173.8 228.2h0M146.9 227.6h0M42.9 227.6h0M168.9 227.8h0M163.7 226.3h0M196.2 227.0h0M184.8 225.1h0M101.8 227.6h0M48.0 228.1h0M229.4 226.6h0M61.3 228.4h0M184.8 228.3h0M184.0 227.4h0M228.5 225.7h0M130.8 228.0h0M239.6 226.2h0M50.7 227.5h0M56.0 225.0h0M70.4 228.3h0M72.5 227.4h0M90.2 227.5h0M221.1 226.2h0M134.4 225.2h0M132.8 227.7h0M76.6 225.1h0M58.6 227.1h0M72.3 227.5h0M123.1 227.0h0M215.2 228.2h0M38.7 227.4h0M162.1 226.3h0M212.1 227.1h0M83.5 226.2h0M121.5 228.0h0M220.2 227.5h0M87.1 226.0h0M203.0 225.8h0M192.8 227.1h0M88.9 227.9h0M115.3 226.9h0M64.2 228.3h0M106.1 227.1h0M108.0 226.9h0M212.0 226.5h0M65.3 225.7h0M190.6 227.8h0M216.6 228.3h0M198.6 227.3h0M41.9 227.2h0M50.5 227.5h0M119.7 227.2h0M167.4 226.4h0M133.9 226.3h0M217.4 228.2h0M58.4 228.1h0M208.1 228.3h0M218.8 227.9h0M111.7 225.1h0M55.6 228.3h0M206.3 227.3h0M190.7 227.2h0M81.8 226.5h0M115.3 227.7h0M149.7 228.4h0M234.5 226.6h0M224.9 228.3h0M193.7 226.6h0M111.4 225.9h0M140.5 226.3h0M222.9 225.2h0M142.2 225.8h0M167.1 227.2h0M124.2 228.1h0M123.5 228.4h0M184.9 227.5h0M161.3 226.2h0M78.3 228.1h0M185.7 227.5h0M183.9 227.7h0M92.9 226.9h0M201.5 227.8h0M168.7 227.7h0M121.4 228.0h0M77.5 228.1h0M51.7 227.7h0M109.4 227.8h0M215.4 228.2h0M37.8 226.8h0M166.9 226.0h0M98.2 228.2h0M173.7 227.6h0M112.2 226.8h0M200.2 228.1h0M232.1 228.3h0M60.4 226.3h0M146.6 225.8h0M162.6 227.3h0M225.5 228.3h0M91.1 227.6h0M185.6 226.1h0M232.5 228.3h0M76.4 227.5h0M55.8 226.6h0M192.5 228.1h0M41.0 227.7h0M162.6 227.8h0M84.7 224.5h0M242.4 227.7h0M146.3 227.8h0M200.2 228.2h0M130.0 226.5h0M118.5 225.5h0M214.4 226.1h0M202.5 227.3h0M175.0 228.2h0M235.2 225.2h0M228.8 228.0h0M92.2 226.2h0M200.5 227.3h0M206.5 226.0h0M102.4 227.4h0M90.8 228.1h0M69.3 226.7h0M229.1 227.4h0M67.4 227.4h0M155.2 226.2h0M187.7 227.9h0M56.7 228.4h0M113.2 226.0h0M231.7 227.2h0M154.9 227.1h0M61.1 227.5h0M66.5 227.8h0M47.6 226.7h0M88.1 227.1h0M54.5 226.8h0M185.3 227.6h0M107.5 225.8h0M75.0 228.4h0M224.1 228.1h0M237.5 227.4h0M167.1 228.3h0M56.9 226.1h0M203.3 227.8h0M132.4 227.0h0M235.6 225.9h0M69.7 227.8h0M133.8 228.4h0M151.2 227.4h0M157.0 224.8h0M116.2 228.3h0M95.3 228.0h0M153.0 225.4h0M233.0 228.0h0M148.9 226.7h0M38.5 228.2h0M79.1 228.4h0M61.0 226.9h0M175.0 227.8h0M228.3 226.0h0M122.6 226.3h0M158.5 227.0h0M73.6 227.0h0M57.5 225.8h0M91.9 226.5h0M173.5 225.3h0M242.2 226.3h0M186.8 228.3h0M110.8 226.3h0M158.3 227.2h0M69.6 228.4h0M155.4 228.2h0M121.9 228.3h0M175.2 226.9h0M130.2 228.4h0M227.7 228.1h0M54.9 227.9h0M142.5 225.7h0M224.9 227.7h0M211.9 227.9h0M68.9 228.0h0M48.6 228.4h0M190.2 227.6h0M178.8 227.7h0M91.6 227.8h0M148.9 224.8h0M57.2 228.4h0M175.2 228.4h0M229.8 227.1h0M178.4 227.7h0M184.6 227.2h0M47.6 228.2h0M186.8 226.7h0M217.0 227.6h0M217.6 227.8h0M224.6 227.3h0M215.6 228.1h0M237.2 227.9h0M232.7 228.2h0M77.2 228.3h0M113.9 228.4h0M93.9 228.4h0M195.9 227.7h0M198.2 228.3h0M88.0 225.9h0M183.2 227.1h0M136.4 227.6h0M110.9 227.5h0M84.9 227.3h0M172.0 227.8h0M168.0 227.8h0M235.6 228.3h0M175.2 224.9h0M201.2 227.6h0M183.9 226.3h0M212.2 226.7h0M101.5 224.5h0M94.7 226.0h0M212.8 226.4h0M61.2 226.2h0M113.5 227.4h0M105.4 227.8h0M40.7 227.8h0M77.9 226.8h0M157.8 228.2h0M103.8 227.9h0M161.1 228.4h0M111.7 226.3h0M60.5 228.1h0M44.4 227.2h0M165.9 227.3h0M210.8 228.3h0M116.7 227.2h0M126.0 228.4h0M96.4 227.7h0M142.2 228.4h0M113.5 226.7h0M79.9 226.6h0M163.8 228.2h0M60.2 227.9h0M104.5 226.9h0M173.6 227.9h0M84.7 227.3h0M131.2 227.0h0M114.1 227.6h0M235.3 227.8h0M176.4 228.4h0M72.3 227.9h0M136.6 228.0h0M177.0 228.3h0M164.2 227.3h0M128.1 227.0h0M153.8 227.5h0M237.2 227.0h0M229.8 224.6h0M207.9 228.3h0M39.8 226.4h0M127.6 227.0h0M179.0 228.3h0M94.2 226.0h0M223.9 226.6h0M228.3 227.1h0M55.4 225.9h0M150.8 228.1h0M77.2 225.2h0M94.7 227.5h0M142.0 228.4h0M42.0 227.5h0M190.7 226.6h0M108.4 227.6h0M141.4 227.3h0M77.5 227.6h0M109.6 227.1h0M114.5 228.2h0M36.9 227.2h0M89.1 227.0h0M150.8 228.1h0M215.1 227.3h0M176.9 227.1h0M126.9 227.8h0M82.3 226.7h0M74.4 228.2h0M140.8 226.9h0M40.0 225.8h0M195.4 228.2h0M155.1 227.9h0M50.0 228.0h0M150.5 227.6h0M57.4 226.9h0M113.4 227.3h0M180.8 227.3h0M44.1 227.4h0M121.7 225.8h0M51.5 225.4h0M127.0 227.4h0M173.3 228.2h0M132.0 228.2h0M87.2 228.2h0M112.9 226.5h0M166.3 228.0h0M184.0 227.6h0M78.8 228.0h0M172.4 227.9h0M103.8 228.1h0M149.5 227.1h0M60.4 227.6h0M50.6 225.7h0M41.7 227.6h0M118.3 228.4h0M170.3 227.0h0M117.9 227.5h0M127.7 227.4h0M230.8 226.3h0M85.8 228.2h0M128.5 226.1h0M99.2 228.1h0M98.9 227.7h0M160.2 226.7h0M180.1 228.1h0M93.4 228.0h0M54.2 227.2h0M60.3 228.4h0M140.8 227.6h0M239.6 226.4h0M241.5 225.5h0M89.7 227.1h0M243.0 227.9h0M204.1 228.2h0M53.0 226.7h0M132.2 227.7h0M56.4 227.9h0M170.9 227.8h0M180.6 227.5h0M154.4 228.4h0M75.4 225.4h0M236.2 227.3h0M190.2 227.7h0M230.8 227.0h0M201.9 226.9h0M211.3 227.9h0M68.5 227.6h0M82.8 226.8h0M104.6 226.8h0M39.1 226.7h0M57.1 227.7h0M157.0 228.4h0M241.3 226.4h0M62.3 226.8h0M40.9 227.7h0M204.1 227.7h0M150.3 227.1h0M68.5 228.3h0M76.1 227.7h0M155.1 227.3h0M166.5 228.1h0M227.3 227.1h0M182.7 225.8h0M170.2 227.9h0M230.5 227.3h0M59.2 228.0h0M178.0 226.4h0M233.0 227.1h0M200.7 228.0h0M72.4 224.6h0M212.4 227.3h0M99.6 228.4h0M118.3 227.9h0M162.1 228.3h0M124.0 226.9h0M180.9 224.9h0M209.7 228.1h0M57.7 227.6h0M202.2 228.1h0M60.5 228.1h0M216.8 225.6h0M46.0 226.5h0M227.0 227.0h0M97.8 227.4h0M148.9 225.8h0M153.8 226.1h0M131.7 228.2h0M187.0 224.8h0M167.8 228.3h0M182.4 225.5h0M170.7 227.2h0M83.4 227.7h0M146.0 228.1h0M103.9 228.1h0M234.1 227.3h0M108.1 227.2h0M72.7 228.2h0M196.7 225.7h0M138.6 225.7h0M70.3 226.9h0M118.7 228.3h0M181.6 228.2h0M61.7 227.2h0M206.3 227.0h0M81.4 225.6h0M36.7 226.7h0M195.2 227.4h0M167.7 227.0h0M209.1 226.0h0M101.4 227.8h0M178.2 226.8h0M88.6 228.3h0M64.5 226.7h0M180.8 227.8h0M61.7 227.3h0M51.7 227.5h0M55.4 227.9h0M173.9 226.6h0M86.6 227.3h0M184.3 227.3h0M146.6 227.7h0M215.4 228.0h0M227.3 225.6h0M129.6 228.2h0M140.4 227.4h0M115.7 226.9h0M62.1 228.0h0M189.8 225.9h0M225.3 226.2h0M227.2 228.0h0M212.0 227.1h0M114.0 227.0h0M80.7 227.5h0M77.2 227.2h0M155.8 226.4h0M232.1 228.0h0M50.7 228.3h0M72.1 225.6h0M158.8 228.3h0M101.8 228.4h0M128.9 226.6h0M198.5 226.4h0M85.4 227.3h0M127.9 228.3h0M50.2 227.9h0M226.7 227.1h0M151.0 227.9h0M189.0 228.0h0M74.1 227.1h0M130.3 227.7h0M108.4 227.1h0M159.8 227.9h0M117.8 228.2h0M76.0 224.5h0M175.6 228.3h0M128.5 226.6h0M198.5 227.6h0M193.9 228.2h0M205.3 227.5h0M79.6 227.3h0M150.4 227.5h0M90.1 227.9h0M194.7 228.0h0M128.2 227.6h0M147.3 228.1h0M187.5 228.2h0M72.3 227.6h0M60.7 227.5h0M88.6 228.4h0M92.4 226.5h0M191.7 227.7h0M233.1 225.2h0M125.6 226.3h0M41.4 226.9h0M99.6 228.3h0M196.7 227.6h0M107.6 226.0h0M200.3 228.2h0M64.3 226.5h0M228.1 226.4h0M43.5 227.7h0M85.8 228.3h0M139.7 227.9h0M76.3 228.0h0M124.5 228.4h0M67.3 228.3h0M72.6 227.2h0M56.4 228.0h0M81.5 227.4h0M133.8 225.8h0M236.5 226.4h0M78.0 228.3h0M212.2 227.4h0M191.6 228.1h0M57.2 225.1h0M57.7 227.3h0M214.4 227.8h0M124.5 224.5h0M232.5 225.2h0M53.6 227.7h0M187.1 228.1h0M39.8 225.9h0M127.3 228.1h0M42.5 225.9h0M64.8 225.7h0M222.3 227.9h0M122.1 225.5h0M233.9 226.9h0M180.4 228.4h0M142.5 227.2h0M63.7 226.6h0M170.5 228.2h0M220.7 228.4h0M142.6 228.3h0M218.4 227.7h0M187.6 227.4h0M98.9 227.6h0M79.2 228.2h0M159.7 227.3h0M207.1 227.2h0M186.3 227.5h0M170.7 227.3h0M143.3 228.2h0M227.2 227.9h0M172.3 228.1h0M138.7 227.4h0M126.0 228.2h0M40.0 227.6h0M217.4 225.6h0M221.3 226.9h0M181.0 227.2h0M84.8 227.2h0M215.3 226.7h0M60.2 228.1h0M240.4 227.7h0M49.0 227.6h0M50.7 227.1h0M221.1 225.8h0M88.2 225.8h0M127.5 227.1h0M74.1 227.6h0M104.9 225.5h0M121.5 228.0h0M99.9 228.0h0M223.0 228.4h0M89.2 228.1h0M93.6 227.3h0M127.3 226.2h0M196.8 226.2h0M124.6 226.0h0M88.4 226.7h0M177.6 228.3h0M37.0 227.7h0M206.8 228.3h0M108.2 227.3h0M199.7 227.7h0M219.7 227.9h0M145.9 227.0h0M86.6 225.6h0M203.3 226.2h0M70.6 228.0h0M172.5 228.4h0M73.7 226.6h0M86.5 228.4h0M135.1 228.2h0M187.0 226.4h0M161.2 227.3h0M212.7 227.8h0M59.0 227.8h0M68.6 227.9h0M150.6 228.2h0M120.1 227.2h0M229.7 226.7h0M227.1 227.4h0M147.4 227.3h0M120.9 228.3h0M57.4 227.7h0M201.2 227.2h0M66.6 227.4h0M103.0 228.4h0M190.8 226.5h0M109.6 227.8h0M120.1 226.7h0M193.8 228.2h0M219.7 227.2h0M76.9 224.9h0M44.6 227.1h0M146.0 228.2h0M65.2 227.8h0M169.1 227.1h0M179.9 225.8h0M85.5 227.3h0M68.1 228.3h0M145.7 226.3h0M235.3 227.3h0M219.0 227.8h0M129.8 228.2h0M203.1 228.3h0M222.2 227.7h0M137.8 226.8h0M184.3 227.0h0M113.7 226.1h0M52.3 228.2h0M224.6 226.9h0M100.3 228.1h0M108.3 224.4h0M234.4 227.6h0M240.6 226.9h0M176.0 228.2h0M188.6 227.8h0M214.5 226.5h0M213.2 227.1h0M92.6 227.5h0M108.8 228.1h0M59.8 226.9h0M106.5 226.2h0M72.9 224.9h0M158.5 227.0h0M49.6 228.3h0M188.2 224.7h0M243.2 228.3h0M41.8 225.5h0M91.1 228.2h0M111.1 228.2h0M229.8 225.5h0M122.7 225.5h0M183.1 227.9h0M56.2 226.0h0M51.3 227.7h0M52.6 225.4h0M131.5 227.2h0M237.2 225.9h0M143.8 225.7h0M175.1 226.9h0M121.1 228.2h0M147.7 228.2h0M66.8 226.0h0M121.7 228.1h0M55.6 227.7h0M203.7 226.7h0M37.6 227.5h0M85.6 228.1h0M52.0 227.7h0M127.4 227.7h0M57.5 228.0h0M130.3 226.0h0M58.3 227.5h0M63.1 228.1h0M134.3 227.8h0M150.3 226.3h0M242.4 228.2h0M167.0 227.5h0M87.8 227.8h0M171.5 226.7h0M190.7 228.0h0M229.0 227.9h0M42.1 228.3h0M164.8 228.3h0M90.9 227.3h0M102.9 226.5h0M98.4 228.1h0M127.2 224.8h0M226.5 227.6h0M43.8 227.0h0M175.8 228.0h0M227.1 228.3h0M239.0 226.2h0M186.7 227.1h0M199.9 227.2h0M55.7 226.9h0M208.1 228.3h0M85.1 226.8h0M36.9 227.3h0M196.1 227.2h0M156.8 225.5h0M228.4 225.0h0M53.5 227.5h0M243.0 228.4h0M181.8 228.3h0M122.1 227.5h0M181.9 226.4h0M100.5 226.8h0M189.1 228.2h0M121.0 228.2h0M46.6 227.6h0M187.9 228.0h0M79.1 227.6h0M207.4 228.0h0M83.6 228.2h0M67.3 226.7h0M167.4 225.8h0M99.1 228.3h0M136.2 226.2h0M156.0 228.0h0M157.6 227.3h0M239.5 227.2h0M82.5 227.9h0M40.5 226.9h0M189.3 228.4h0M79.0 227.1h0M140.2 228.2h0M164.5 227.8h0M166.6 228.0h0M39.8 226.9h0M215.5 226.2h0M52.2 227.4h0M78.0 226.7h0M206.0 227.0h0M115.5 225.7h0M90.3 228.2h0M169.0 228.0h0M145.1 226.8h0M220.0 227.9h0M159.0 228.3h0M153.7 228.1h0M53.1 227.4h0M86.3 228.1h0M124.1 228.3h0M210.3 225.6h0M148.0 227.6h0M168.6 225.1h0M237.4 227.4h0M81.3 228.2h0M124.9 227.7h0M186.5 224.4h0M175.0 228.4h0M133.8 228.3h0M108.6 228.4h0M152.3 224.7h0M102.6 227.5h0M138.6 227.2h0M155.6 225.0h0M169.4 228.1h0M43.9 225.2h0M147.1 228.2h0M50.3 227.5h0M113.9 228.0h0M95.2 226.0h0M80.0 227.2h0M198.6 227.7h0M70.5 226.6h0M155.3 226.7h0M91.0 226.0h0M186.3 228.4h0M162.7 226.7h0M233.9 228.1h0M46.9 226.6h0M64.9 228.4h0M185.1 228.3h0M100.5 227.0h0M230.9 226.0h0M89.6 227.5h0M141.3 224.8h0M143.6 227.3h0M143.3 228.3h0M56.8 228.2h0M208.4 227.8h0M168.3 224.8h0M237.0 226.7h0M62.2 227.2h0M242.6 228.1h0M63.3 228.1h0M165.7 226.7h0M91.2 226.7h0M59.6 227.2h0M222.1 228.2h0M162.1 228.1h0M196.1 228.3h0M201.3 228.3h0M110.4 225.0h0M153.6 226.8h0M156.0 226.2h0M74.0 228.2h0M160.5 227.1h0M133.2 228.0h0M142.1 228.3h0M82.7 227.4h0M89.0 226.9h0M223.2 225.7h0M213.8 227.8h0M112.1 227.3h0M177.4 228.1h0M169.0 228.2h0M227.8 228.2h0M132.6 225.7h0M165.6 228.4h0M135.0 225.9h0M42.8 227.7h0M160.0 227.9h0M130.0 226.9h0M62.3 226.2h0M182.8 225.9h0M215.6 227.9h0M132.4 227.1h0M215.7 227.7h0M151.8 225.3h0M164.4 226.6h0M58.3 228.2h0M46.1 227.9h0M170.3 226.2h0M216.4 228.3h0M230.3 228.4h0M53.3 227.7h0M72.4 226.7h0M223.3 228.4h0M104.1 227.9h0M92.7 224.6h0M91.8 227.4h0M137.2 226.6h0M182.1 228.0h0M136.3 227.9h0M100.6 226.8h0M154.1 228.4h0M183.5 228.4h0M116.0 228.2h0M44.7 224.9h0M203.1 227.9h0M161.7 227.5h0M91.9 226.9h0M148.8 227.4h0M52.4 226.6h0M149.4 226.5h0M178.6 228.3h0M82.7 227.8h0M107.1 225.7h0M223.2 224.7h0M93.8 228.4h0M51.9 228.4h0M234.6 227.4h0M211.4 226.8h0M50.7 225.4h0M124.5 228.1h0M145.6 226.7h0M38.3 227.3h0M170.6 227.9h0M134.4 224.6h0M76.9 228.0h0M49.2 228.2h0M193.8 224.8h0M207.5 227.3h0M232.6 227.6h0M149.8 227.0h0M203.4 228.0h0M214.3 227.3h0M52.5 225.4h0M213.5 228.3h0M131.8 225.2h0M93.9 228.3h0M66.8 228.4h0M48.7 225.7h0M65.0 226.5h0M45.9 227.9h0M123.8 227.5h0M119.8 228.3h0M94.6 225.3h0M131.0 228.2h0M185.2 227.9h0M66.4 227.8h0M204.2 227.8h0M125.2 228.1h0M196.7 226.7h0M178.7 228.4h0M234.4 225.0h0M217.5 225.5h0M63.3 225.1h0M164.0 228.0h0M66.7 228.3h0M216.7 228.2h0M170.6 228.2h0M137.2 228.3h0M53.5 227.7h0M134.4 225.6h0" stroke="#357ebd" stroke-width="1.90" stroke-linecap="round" fill="none"/>
<path d="M46.0 224.8h0M78.0 224.5h0M98.0 224.6h0M125.0 224.4h0" stroke="#357ebd" stroke-width="1.90" stroke-linecap="round" fill="none"/>
<path d="M173.4 215.1h0M147.0 210.8h0M184.6 215.1h0M163.9 213.0h0M170.5 215.3h0M182.7 214.4h0M146.3 209.8h0M186.9 217.6h0M144.9 209.8h0M172.4 213.4h0M184.7 214.6h0M192.3 216.3h0M164.7 215.0h0M171.8 216.5h0M186.0 214.8h0M175.8 214.9h0M181.8 217.0h0M176.5 213.8h0M203.0 214.5h0M205.7 215.0h0M153.4 212.9h0M185.7 215.9h0M181.8 215.4h0M181.7 217.0h0M196.4 217.1h0M175.4 214.5h0M204.7 215.6h0M178.5 213.5h0M158.5 211.6h0M179.8 214.2h0M165.4 215.9h0M175.1 214.2h0M185.8 214.2h0M180.4 216.0h0M150.2 211.0h0M165.7 215.3h0M186.5 214.5h0M197.5 215.1h0M187.3 215.2h0M190.7 214.5h0M165.9 215.8h0M210.6 214.4h0M210.9 215.0h0M169.0 213.2h0M206.6 216.3h0M166.5 213.4h0M160.7 214.4h0M172.4 215.9h0M184.9 214.3h0M165.0 215.3h0M182.2 216.4h0M167.0 214.5h0M177.4 216.3h0M149.1 210.4h0M162.2 212.8h0M160.2 215.1h0M182.8 213.7h0M178.7 216.0h0M164.3 215.8h0M187.6 214.1h0M201.3 217.5h0M204.2 217.5h0M161.4 214.9h0M184.1 216.5h0M190.9 215.4h0M159.1 212.5h0M203.1 217.3h0M192.8 216.6h0M179.7 215.7h0M190.7 213.9h0M149.4 209.5h0M201.7 214.2h0M199.9 217.1h0M175.5 216.9h0M151.7 209.5h0M162.5 212.5h0M201.7 215.1h0M157.4 213.8h0M166.3 214.6h0M199.1 216.3h0M152.9 211.1h0M195.8 216.2h0M153.4 211.0h0M147.1 209.2h0M187.2 215.3h0M212.3 215.2h0M210.9 215.4h0M173.5 214.4h0M189.6 217.2h0M179.4 216.8h0M151.5 211.7h0M199.0 217.0h0M186.6 215.3h0M163.8 213.3h0M156.9 211.4h0M203.5 217.6h0M145.1 207.3h0M167.1 213.0h0M152.6 210.2h0M200.0 217.4h0M203.0 216.6h0M160.2 213.5h0M158.8 214.7h0M187.5 214.1h0M158.6 213.3h0M184.8 215.9h0M192.2 217.3h0M180.1 216.5h0M162.1 213.2h0M168.8 214.7h0M211.1 215.7h0M205.4 217.2h0M166.4 213.1h0M200.4 215.7h0M208.2 217.1h0M144.5 206.7h0M167.8 213.4h0M161.3 214.5h0M205.5 215.3h0M189.7 216.0h0M173.6 216.9h0M154.1 212.5h0M149.4 212.3h0M160.9 212.0h0M182.6 214.0h0M155.2 211.1h0M150.9 212.2h0M182.1 216.7h0M167.6 212.9h0M157.9 212.3h0M193.2 214.5h0M194.8 214.1h0M191.9 214.7h0M173.0 214.4h0M165.8 215.4h0M155.8 214.4h0M183.9 215.2h0M213.7 216.5h0M194.8 216.5h0M207.7 214.5h0M187.8 215.9h0M190.8 217.2h0M149.4 210.5h0M199.7 214.5h0M168.0 213.5h0M210.7 215.9h0M190.0 213.9h0M173.3 213.3h0M152.0 210.7h0" stroke="#357ebd" stroke-width="1.90" stroke-linecap="round" fill="none"/>
<path d="M171.4 215.2h0M173.4 215.1h0M147.0 210.8h0M184.6 215.1h0M209.4 217.4h0M170.5 215.3h0M182.7 214.4h0M190.2 215.9h0M178.2 216.7h0M172.4 213.4h0M193.1 214.6h0M193.8 217.6h0M171.8 216.5h0M201.8 217.0h0M186.0 214.8h0M207.6 217.9h0M210.5 215.5h0M175.8 214.9h0M199.7 216.6h0M146.2 207.0h0M176.5 213.8h0M205.7 215.0h0M185.7 215.9h0M210.4 216.2h0M181.8 215.4h0M172.8 215.8h0M151.8 212.1h0M150.8 209.5h0M181.7 217.0h0M204.6 214.9h0M196.4 217.1h0M177.6 216.7h0M157.1 212.3h0M180.0 216.3h0M177.8 216.1h0M178.5 213.5h0M158.4 211.9h0M203.6 216.1h0M175.1 214.2h0M180.4 216.0h0M187.1 217.3h0M186.5 214.5h0M176.7 216.7h0M183.2 216.5h0M177.2 215.4h0M190.7 214.5h0M165.9 215.8h0M213.0 215.7h0M210.6 214.4h0M155.3 213.5h0M169.0 213.2h0M177.0 214.7h0M184.1 216.9h0M150.1 212.1h0M160.7 214.4h0M172.4 215.9h0M165.0 215.3h0M182.2 216.4h0M167.0 214.5h0M162.2 212.8h0M160.2 215.1h0M182.8 213.7h0M178.7 216.0h0M164.3 215.8h0M187.6 214.1h0M204.2 217.5h0M161.4 214.9h0M207.1 217.2h0M178.9 215.4h0M159.1 212.5h0M203.1 217.3h0M179.7 215.7h0M158.4 213.1h0M182.1 216.2h0M151.7 209.5h0M157.4 213.8h0M166.3 214.6h0M199.1 216.3h0M192.3 215.2h0M152.9 211.1h0M153.4 213.4h0M199.6 215.3h0M210.9 215.4h0M189.6 217.2h0M213.3 217.0h0M199.0 217.0h0M191.1 214.2h0M156.9 211.4h0M152.8 211.2h0M165.3 212.7h0M161.5 213.8h0M145.1 207.3h0M177.1 216.0h0M154.8 210.9h0M152.6 210.2h0M149.7 208.9h0M147.3 207.9h0M189.2 214.4h0M190.6 216.5h0M160.2 213.5h0M187.5 214.1h0M180.0 215.8h0M178.5 216.4h0M181.3 214.7h0M144.3 207.8h0M158.6 213.3h0M184.8 215.9h0M192.2 217.3h0M162.1 213.2h0M168.8 214.7h0M166.4 213.1h0M195.0 217.4h0M167.8 213.4h0M189.7 215.4h0M202.7 217.0h0M162.5 214.7h0M154.2 214.0h0M189.7 216.0h0M147.6 208.8h0M173.6 216.9h0M196.3 217.1h0M196.4 214.7h0M160.9 212.0h0M157.2 211.7h0M164.0 216.0h0M155.2 211.1h0M182.1 216.7h0M167.6 212.9h0M179.5 216.4h0M193.2 214.5h0M194.8 214.1h0M176.7 214.4h0M197.5 216.8h0M191.9 214.7h0M146.3 209.1h0M173.0 214.4h0M165.8 215.4h0M206.0 215.9h0M198.7 215.5h0M155.8 214.4h0M186.6 216.3h0M168.2 213.2h0M183.9 215.2h0M196.9 216.2h0M196.7 214.5h0M213.7 216.5h0M194.8 216.5h0M161.8 213.8h0M197.8 216.5h0M187.8 215.9h0M149.2 210.1h0M190.8 217.2h0M149.4 210.5h0M154.2 211.1h0M173.3 215.9h0M209.6 216.3h0M210.7 215.9h0M173.3 213.3h0M153.3 213.1h0M152.0 210.7h0M146.1 207.3h0" stroke="#46b8da" stroke-width="1.90" stroke-linecap="round" fill="none"/>
<path d="M190.0 218.5h0M206.6 220.3h0M215.7 221.2h0M211.0 219.8h0M170.6 219.5h0M154.0 219.9h0M209.1 220.4h0M179.6 218.3h0M195.5 220.7h0M159.6 217.8h0M206.2 220.2h0M214.9 220.3h0M230.5 222.1h0M176.4 219.5h0M198.1 219.9h0M217.1 221.2h0M217.1 219.9h0M191.4 220.0h0M197.8 218.7h0M216.6 220.5h0M163.0 220.0h0M195.6 220.6h0M210.7 220.8h0M225.0 219.6h0M177.3 218.5h0M202.2 219.4h0M152.3 217.7h0M164.3 219.1h0M187.3 219.6h0M151.0 218.7h0M170.8 218.1h0M154.6 217.8h0M182.9 218.7h0M188.0 218.8h0M210.3 221.5h0M176.5 218.2h0M229.1 219.8h0M203.3 220.9h0M189.6 220.9h0M162.1 219.6h0M224.4 221.9h0M219.6 220.5h0M192.0 220.8h0M181.1 218.8h0M152.6 217.8h0M161.5 220.1h0M175.3 218.9h0M229.9 221.5h0M185.6 218.6h0M180.0 218.9h0M227.8 220.7h0M229.8 220.3h0M153.9 219.8h0M156.2 219.6h0M198.8 219.5h0M218.4 220.5h0M230.7 221.2h0M227.4 222.1h0M180.8 220.1h0M209.7 220.8h0M151.9 219.2h0M212.5 219.6h0M157.8 217.6h0M194.6 218.8h0M219.5 220.4h0M231.6 221.7h0M185.1 218.8h0M185.0 219.9h0M220.6 221.8h0M176.6 218.1h0M204.5 220.8h0M203.1 221.0h0M216.6 220.9h0M217.4 219.6h0M227.6 221.4h0M157.7 217.9h0M202.6 219.6h0M226.8 220.3h0M189.8 219.8h0M227.1 220.4h0M223.2 221.4h0M196.7 221.2h0M222.5 221.5h0M194.7 218.7h0M168.1 219.6h0M159.6 219.3h0M178.5 219.1h0M217.5 221.6h0M211.3 220.3h0M194.0 221.3h0M225.9 221.2h0M156.5 219.9h0M153.7 217.6h0M204.0 219.4h0M211.8 221.0h0M163.6 220.2h0M231.9 221.5h0M230.5 221.9h0M188.8 220.7h0M226.9 221.5h0M156.9 218.4h0M207.7 220.0h0M163.7 218.9h0M161.6 218.9h0M158.1 219.5h0M167.5 220.3h0M158.8 219.2h0M202.8 219.3h0M201.4 220.3h0M200.5 219.2h0M189.1 220.7h0M200.7 219.4h0M177.4 220.5h0M154.4 218.7h0M192.1 219.7h0M150.2 217.5h0M219.1 220.5h0M173.9 219.2h0M154.3 217.6h0M218.0 221.4h0M166.2 218.6h0M156.3 218.3h0M192.7 220.6h0M191.5 220.8h0M231.9 221.2h0M153.6 217.7h0M205.2 219.2h0M223.7 219.6h0M154.5 220.1h0M183.3 219.8h0" stroke="#357ebd" stroke-width="1.90" stroke-linecap="round" fill="none"/>
<path d="M137.3 199.0h0M132.4 203.3h0M140.0 210.3h0M139.2 200.1h0M134.8 212.6h0M129.3 202.9h0M137.7 213.9h0M126.5 208.7h0M134.8 206.0h0M142.0 198.6h0M137.4 202.4h0M140.4 209.1h0M133.9 199.6h0M140.5 208.9h0M136.7 209.7h0M144.0 201.2h0M139.1 210.7h0M131.1 212.4h0M132.0 213.3h0M137.1 213.5h0M142.8 210.3h0M133.0 204.8h0M140.0 209.5h0M138.5 210.7h0M136.8 205.8h0M136.2 201.2h0M137.5 199.6h0M139.8 207.1h0M138.4 209.4h0M139.6 207.9h0M135.7 203.3h0M135.2 201.1h0M142.2 200.8h0M140.1 203.9h0M140.7 210.3h0M142.1 211.5h0M143.2 204.2h0M143.4 208.9h0M137.4 203.3h0M139.5 210.0h0M135.8 210.6h0M140.7 206.7h0" stroke="#46b8da" stroke-width="1.90" stroke-linecap="round" fill="none"/>
<path d="M135.2 212.6h0M135.1 219.3h0M136.1 219.3h0M146.9 206.7h0M125.5 223.8h0M129.8 221.3h0M135.1 209.5h0M125.3 213.6h0M140.0 206.1h0M125.3 210.7h0M147.0 220.0h0M131.4 213.1h0M135.4 219.2h0M132.1 212.1h0" stroke="#357ebd" stroke-width="1.90" stroke-linecap="round" fill="none"/>
<path d="M143.5 199.5h0M145.0 200.5h0M146.5 201.2h0M144.0 201.5h0" stroke="#5cb85c" stroke-width="1.90" stroke-linecap="round" fill="none"/>
<path d="M138.5 197.2h0" stroke="#eea236" stroke-width="2.20" stroke-linecap="round" fill="none"/>
<path d="M139.9 190.3h0" stroke="#d43f3a" stroke-width="2.30" stroke-linecap="round" fill="none"/>
<path d="M139.90 192.20L141.43 194.00L139.90 195.80L138.37 194.00Z" fill="#4e2a84"/>
<text x="143.00" y="193.60" font-size="6.3" text-anchor="start" fill="#222" stroke="#222" stroke-width="0.25" font-weight="normal" font-style="normal"  textLength="32.3" lengthAdjust="spacingAndGlyphs">rs12041331</text>
<line x1="34.50" y1="230.60" x2="245.50" y2="230.60" stroke="#222" stroke-width="1.3" />
<line x1="61.30" y1="230.60" x2="61.30" y2="233.60" stroke="#222" stroke-width="0.8" />
<line x1="102.40" y1="230.60" x2="102.40" y2="233.60" stroke="#222" stroke-width="0.8" />
<line x1="143.50" y1="230.60" x2="143.50" y2="233.60" stroke="#222" stroke-width="0.8" />
<line x1="184.60" y1="230.60" x2="184.60" y2="233.60" stroke="#222" stroke-width="0.8" />
<line x1="225.70" y1="230.60" x2="225.70" y2="233.60" stroke="#222" stroke-width="0.8" />
<line x1="34.60" y1="244.80" x2="34.60" y2="287.80" stroke="#222" stroke-width="1.1" />
<line x1="31.40" y1="249.60" x2="34.60" y2="249.60" stroke="#222" stroke-width="0.8" />
<text x="28.80" y="251.90" font-size="6.4" text-anchor="end" fill="#333" stroke="#333" stroke-width="0.25" font-weight="normal" font-style="normal" >150</text>
<line x1="31.40" y1="261.70" x2="34.60" y2="261.70" stroke="#222" stroke-width="0.8" />
<text x="28.80" y="264.00" font-size="6.4" text-anchor="end" fill="#333" stroke="#333" stroke-width="0.25" font-weight="normal" font-style="normal" >100</text>
<line x1="31.40" y1="273.80" x2="34.60" y2="273.80" stroke="#222" stroke-width="0.8" />
<text x="28.80" y="276.10" font-size="6.4" text-anchor="end" fill="#333" stroke="#333" stroke-width="0.25" font-weight="normal" font-style="normal" >50</text>
<line x1="31.40" y1="285.90" x2="34.60" y2="285.90" stroke="#222" stroke-width="0.8" />
<text x="28.80" y="288.20" font-size="6.4" text-anchor="end" fill="#333" stroke="#333" stroke-width="0.25" font-weight="normal" font-style="normal" >0</text>
<text transform="translate(13.60,266.00) rotate(-90)" font-size="8.3" text-anchor="middle" fill="#333" stroke="#333" stroke-width="0.2" textLength="26.6" lengthAdjust="spacingAndGlyphs">-log<tspan font-size="5.6" dy="1.8">10</tspan><tspan dy="-1.8">(</tspan><tspan font-style="italic">P</tspan>)</text>
<rect x="35.90" y="285.46" width="208.20" height="1.44" fill="#357ebd"/>
<path d="M125.3 285.2h0M108.7 285.5h0M74.3 284.9h0M50.1 284.8h0M56.2 285.5h0M166.1 284.9h0M77.9 284.9h0M160.5 285.2h0M179.4 285.5h0M107.5 285.3h0M186.3 285.3h0M50.0 285.1h0M89.6 285.3h0M219.0 285.1h0M147.0 283.9h0M174.6 285.4h0M53.2 284.2h0M138.0 284.8h0M57.4 285.5h0M220.1 285.2h0M110.6 285.1h0M170.6 285.3h0M107.7 284.6h0M179.9 285.2h0M233.7 285.5h0M107.1 285.5h0M229.2 285.3h0M207.1 285.5h0M208.7 285.4h0M194.4 285.5h0M102.8 284.2h0M177.0 285.0h0M234.3 284.8h0M220.5 285.0h0M162.2 284.8h0M39.2 285.0h0M36.6 284.8h0M134.5 285.5h0M82.5 285.4h0M168.8 283.9h0M190.7 285.1h0M157.9 285.0h0M167.4 285.5h0M124.6 285.1h0M75.2 285.4h0M209.2 285.4h0M141.1 285.3h0M40.0 285.3h0M70.9 285.5h0M145.0 285.3h0M59.7 284.1h0M191.3 284.9h0M74.7 285.3h0M114.8 285.3h0M133.2 285.3h0M67.8 284.8h0M105.3 284.8h0M186.4 285.3h0M46.3 285.5h0M53.4 285.3h0M149.8 284.6h0M205.9 285.4h0M207.8 285.6h0M182.1 285.4h0M167.4 285.6h0M130.7 284.7h0M233.4 285.2h0M222.0 283.8h0M116.7 285.2h0M88.3 284.2h0M87.5 285.1h0M231.3 284.6h0M127.6 285.2h0M149.7 284.3h0M240.9 285.3h0M74.8 285.5h0M222.0 285.4h0M83.9 285.1h0M129.4 284.0h0M100.0 285.5h0M208.5 285.5h0M186.9 285.5h0M195.7 285.5h0M135.9 285.3h0M216.4 285.6h0M236.7 285.0h0M126.3 285.2h0M132.1 285.3h0M241.7 285.2h0M142.8 285.2h0M138.8 285.5h0M123.5 284.6h0M240.8 285.5h0M153.6 284.6h0M86.7 285.2h0M89.2 285.3h0M94.9 285.5h0M210.4 285.5h0M151.3 285.2h0M84.4 285.4h0M119.9 285.2h0M162.6 285.4h0M85.4 285.4h0M65.2 284.2h0M149.9 284.7h0M188.1 285.4h0M114.8 285.3h0M193.9 285.3h0M81.7 284.3h0M228.3 285.1h0M85.6 285.3h0M40.4 285.4h0M120.9 285.3h0M97.6 284.6h0M113.1 285.5h0M217.7 285.1h0M205.8 284.7h0M63.4 285.4h0M65.4 285.2h0M74.7 285.1h0M65.4 285.3h0M113.3 285.5h0M70.2 285.2h0M152.3 285.2h0M42.9 284.6h0M181.9 285.0h0M223.0 285.0h0M124.0 285.0h0M40.8 285.5h0M90.1 285.4h0M72.3 285.2h0M63.5 285.5h0M183.3 285.5h0M186.3 284.7h0M109.3 285.5h0M161.7 285.5h0M149.6 285.5h0M165.9 284.9h0M162.4 285.2h0M60.4 284.9h0M228.9 285.5h0M207.8 285.5h0M136.0 285.3h0M200.9 284.8h0M143.8 284.5h0M124.7 285.5h0M41.7 285.3h0M76.1 285.0h0M144.3 285.2h0M82.8 284.4h0M159.6 285.4h0M161.2 284.7h0M179.8 285.5h0M95.3 284.7h0M76.4 285.3h0M60.9 285.5h0M106.3 285.5h0M46.0 285.1h0M161.1 284.2h0M185.9 284.7h0M109.2 284.4h0M196.2 284.7h0M196.0 285.5h0M93.3 284.9h0M90.6 284.8h0M202.7 285.5h0M60.9 285.0h0M234.9 284.3h0M94.5 284.6h0M224.6 285.1h0M81.1 284.9h0M38.4 285.5h0M42.6 285.5h0M164.6 285.5h0M81.2 285.0h0M237.8 285.1h0M229.4 284.2h0M112.6 285.5h0M122.2 285.2h0M129.9 285.5h0M143.9 285.5h0M162.2 284.4h0M237.8 285.5h0M106.6 285.4h0M187.7 285.3h0M238.3 285.5h0M149.9 285.1h0M144.7 285.6h0M122.5 285.5h0M60.2 285.2h0M130.0 285.4h0M125.6 285.1h0M88.5 284.6h0M126.1 285.3h0M198.5 284.1h0M92.2 285.4h0M92.0 284.8h0M81.5 285.4h0M48.5 285.6h0M162.7 285.3h0M106.5 285.4h0M131.7 284.6h0M146.0 285.5h0M138.4 285.4h0M160.6 285.2h0M138.8 284.1h0M205.1 285.5h0M136.0 285.5h0M57.6 285.4h0M134.1 285.4h0M121.7 285.5h0M47.6 285.6h0M227.9 285.3h0M63.8 285.4h0M182.9 285.2h0M119.4 284.8h0M78.9 284.8h0M227.3 285.5h0M154.7 284.6h0M185.3 285.0h0M217.3 285.4h0M215.7 285.4h0M223.8 285.1h0M109.2 284.4h0M237.2 283.9h0M137.8 285.4h0M226.7 285.1h0M58.6 284.7h0M243.0 285.1h0M140.8 285.2h0M110.4 285.4h0M217.5 285.2h0M229.5 285.2h0M209.1 285.1h0M86.9 285.2h0M154.7 285.5h0M190.1 285.2h0M126.5 285.2h0M207.8 285.3h0M203.8 284.3h0M44.8 284.5h0M130.1 285.2h0M204.1 285.4h0M98.3 285.2h0M74.9 285.1h0M161.6 285.2h0M164.1 283.8h0M158.7 285.5h0M201.9 285.1h0M236.3 285.3h0M182.5 285.4h0M231.8 285.2h0M45.8 285.2h0M47.4 285.6h0M190.4 285.2h0M173.2 285.5h0M88.1 285.4h0M157.5 284.3h0M224.1 285.4h0M107.2 285.4h0M202.6 285.5h0M130.2 283.8h0M237.7 285.3h0M134.3 285.4h0M72.4 285.5h0M107.8 285.4h0M80.3 285.4h0M238.6 284.7h0M112.2 285.5h0M112.3 285.3h0M71.1 285.5h0M181.9 285.5h0M139.8 285.4h0M123.8 284.0h0M154.2 285.3h0M200.4 284.9h0M94.3 285.5h0M188.3 285.5h0M241.6 284.7h0M59.2 285.1h0M58.9 285.3h0M72.8 285.3h0M216.2 285.5h0M129.8 284.2h0M152.5 285.1h0M233.8 284.6h0M208.4 285.4h0M181.0 285.5h0M232.7 285.1h0M209.6 284.0h0M107.5 284.7h0M37.0 285.1h0M54.7 285.6h0M168.3 285.2h0M196.1 285.5h0M220.0 285.1h0M116.2 285.4h0M113.5 285.4h0M156.3 285.4h0M95.7 285.5h0M105.3 285.5h0M59.1 285.4h0M36.6 284.7h0M79.8 285.5h0M91.3 285.4h0M197.8 285.0h0M96.2 285.6h0M185.3 285.6h0M118.8 285.4h0M44.0 284.6h0M79.3 284.3h0M126.3 285.5h0M141.3 285.2h0M199.9 285.3h0M121.2 285.6h0M44.9 285.2h0M57.6 285.5h0M233.7 285.4h0M188.2 285.4h0M153.3 284.9h0M81.8 285.5h0M118.1 284.7h0M226.4 285.3h0M225.7 284.9h0M225.8 285.1h0M96.9 285.1h0M65.9 285.0h0M124.9 285.3h0M145.5 284.4h0M136.5 283.9h0M140.0 283.8h0M112.5 284.8h0M222.8 285.6h0M137.6 285.2h0M151.6 284.0h0M147.1 284.8h0M64.2 285.3h0M160.7 284.9h0M113.4 285.0h0M39.7 285.2h0M210.5 285.1h0M236.4 285.4h0M110.0 285.6h0M53.9 285.6h0M210.5 285.5h0M63.2 285.4h0M38.5 285.5h0M61.4 284.8h0M66.6 285.4h0M206.0 285.3h0M52.6 285.3h0M172.1 285.3h0M129.7 284.7h0M150.8 285.4h0M195.0 285.4h0M232.9 284.4h0M189.4 285.1h0M183.7 285.5h0M215.0 285.2h0M119.5 285.4h0M167.7 285.4h0M49.0 284.8h0M182.4 284.8h0M163.3 285.4h0M220.4 285.2h0M41.5 285.3h0M210.6 285.2h0M79.5 285.2h0M88.4 284.8h0M241.2 285.0h0M123.6 284.9h0M224.5 285.0h0M186.8 285.5h0M142.4 285.3h0M161.0 284.1h0M73.8 284.8h0M117.5 285.5h0M211.9 285.4h0M173.9 284.8h0M219.5 285.3h0M210.3 285.4h0M143.8 284.1h0M106.9 284.2h0M62.4 285.5h0M93.4 285.2h0M50.4 285.4h0M89.8 284.4h0M104.6 285.4h0M42.4 284.5h0M167.7 284.7h0M78.0 284.8h0M51.4 285.4h0M201.9 285.3h0M169.7 285.5h0M65.5 285.0h0M227.5 285.5h0M89.5 284.2h0M199.9 285.2h0M222.8 285.1h0M234.0 285.4h0M43.1 284.0h0M220.8 285.5h0M80.7 285.1h0M50.9 285.5h0M65.0 285.2h0M130.0 285.2h0M225.6 284.2h0M123.9 285.3h0M195.3 285.4h0M184.9 285.1h0M84.9 285.6h0M128.0 285.3h0M82.4 285.4h0M58.3 285.4h0M206.8 285.3h0M215.1 285.4h0M197.7 285.0h0M159.7 285.5h0M153.0 285.0h0M92.2 284.8h0M41.8 285.1h0M215.6 284.9h0M108.0 285.3h0M183.9 284.8h0M137.8 285.6h0M123.2 285.1h0M65.1 285.5h0M204.3 285.5h0M108.3 284.6h0M198.2 285.2h0M210.5 285.4h0M150.4 285.6h0M238.6 285.5h0M120.5 285.2h0M216.3 284.9h0M124.3 285.1h0M89.8 285.2h0M108.8 285.4h0M198.2 285.2h0M182.4 285.4h0M72.6 285.6h0M208.9 285.2h0M158.8 285.4h0M181.4 285.3h0M215.9 284.6h0M57.8 284.3h0M155.5 285.6h0M48.4 284.7h0M87.2 285.2h0M64.9 285.5h0M95.3 285.5h0M63.7 285.5h0M61.9 285.3h0M167.8 285.3h0M168.7 285.6h0M77.2 284.7h0M118.6 285.4h0M120.8 284.9h0M68.6 285.0h0M126.9 285.1h0M221.7 285.4h0M186.0 285.5h0M183.6 284.4h0M189.8 284.2h0M219.3 285.0h0M122.1 284.5h0M107.3 285.6h0M223.9 285.4h0M232.3 284.9h0M48.8 285.5h0M63.7 285.2h0M62.9 285.5h0M155.3 285.3h0M64.8 284.8h0M149.1 284.0h0M148.8 284.4h0M200.5 285.4h0M169.0 284.6h0M87.9 284.7h0M183.8 284.6h0M85.7 285.4h0M37.5 285.4h0M220.5 285.4h0M142.2 285.3h0M139.4 285.2h0M73.8 284.8h0M134.2 285.0h0M83.3 284.8h0M85.5 285.5h0M124.4 284.4h0M215.1 284.6h0M227.6 285.5h0M219.3 284.4h0M85.6 284.2h0M92.8 283.9h0M207.0 285.1h0M84.6 285.6h0M229.8 285.4h0M141.5 284.7h0M154.6 285.1h0M179.2 285.3h0M127.5 285.5h0M204.2 284.9h0M176.5 285.5h0M202.8 285.3h0M65.8 285.5h0M52.9 285.5h0M84.6 285.1h0M115.5 285.3h0M94.4 285.4h0M215.2 284.7h0M116.5 285.3h0M226.1 285.5h0M155.4 285.6h0M222.0 285.4h0M98.4 285.2h0M39.6 285.4h0M234.4 285.4h0M123.9 285.4h0M177.7 284.7h0M178.4 284.9h0M178.7 284.6h0M198.3 284.4h0M88.3 285.4h0M107.2 284.5h0M228.3 284.0h0M233.4 284.2h0M128.0 285.0h0M189.7 285.3h0M182.0 285.1h0M239.3 285.1h0M148.8 285.0h0M51.4 285.5h0M237.1 285.4h0M174.9 285.4h0M78.2 285.3h0M78.2 285.4h0M77.3 285.6h0M78.9 285.6h0M71.0 285.5h0M152.1 285.3h0M214.3 284.3h0M226.2 285.5h0M172.6 284.6h0M125.4 285.5h0M89.4 285.3h0M201.9 285.3h0M243.0 285.5h0M120.1 285.5h0M222.5 284.8h0M82.5 284.4h0M67.9 285.6h0M146.6 285.3h0M39.5 285.6h0M168.4 284.8h0M179.4 285.0h0M204.9 285.2h0M137.3 284.6h0M46.6 284.7h0M110.5 285.5h0M44.0 284.4h0M61.4 284.6h0M141.4 285.0h0M87.6 285.5h0M182.9 285.5h0M71.0 285.4h0M237.9 285.0h0M87.5 284.5h0M131.0 285.5h0M170.5 285.4h0M218.6 284.8h0M101.9 284.8h0M101.9 285.3h0M69.2 285.4h0M98.7 284.5h0M116.7 284.3h0M60.4 285.2h0M168.1 285.5h0M62.4 284.6h0M155.3 285.4h0M78.2 285.6h0M117.3 285.2h0M144.8 285.3h0M115.0 285.1h0M44.5 284.2h0M80.0 285.2h0M219.7 285.3h0M119.2 285.0h0M240.6 285.1h0M121.3 285.2h0M131.1 285.0h0M80.4 285.5h0M141.9 284.8h0M102.9 285.5h0M188.7 285.4h0M145.3 285.5h0M107.8 285.3h0M118.6 285.5h0M83.8 285.4h0M192.7 285.1h0M240.8 284.5h0M91.5 285.3h0M60.7 285.4h0M183.6 285.2h0M220.0 284.6h0M152.9 285.2h0M107.9 285.4h0M161.0 284.7h0M197.2 285.4h0M149.3 284.8h0M161.2 285.3h0M76.2 285.5h0M103.2 284.6h0M59.6 285.6h0M206.2 285.3h0M90.0 285.0h0M42.4 284.4h0M147.4 285.0h0M181.6 285.1h0M116.1 284.8h0M195.2 285.6h0M52.3 285.5h0M99.0 285.4h0M67.8 285.5h0M64.2 284.9h0M80.3 284.6h0M226.6 284.3h0M94.9 285.3h0M51.0 284.2h0M108.5 284.6h0M52.1 284.7h0M172.6 284.5h0M135.1 284.8h0M152.1 285.4h0M47.7 285.2h0M242.6 285.3h0M98.4 285.5h0M186.9 285.1h0M240.0 285.4h0M157.8 285.5h0M226.4 285.5h0M219.5 284.7h0M60.2 285.5h0M98.1 285.5h0M124.5 285.5h0M50.2 285.4h0M153.9 284.6h0M221.0 285.4h0M144.3 285.2h0M130.4 285.3h0M113.7 285.5h0M188.4 285.5h0M109.0 285.4h0M166.1 284.9h0M76.8 285.4h0M146.5 285.4h0M144.4 285.4h0M228.3 285.4h0M130.4 285.3h0M49.7 285.5h0M243.1 285.5h0M64.4 284.1h0M59.0 284.1h0M216.4 285.5h0M203.5 285.3h0M229.7 285.5h0M140.4 285.6h0M69.3 285.3h0M79.4 285.2h0M71.6 284.9h0M118.0 285.2h0M190.4 284.1h0M119.0 285.3h0M88.3 285.1h0M236.0 285.4h0M78.6 285.0h0M52.4 285.5h0M56.2 285.0h0M66.5 285.6h0M53.3 285.5h0M98.5 284.7h0M223.6 285.3h0M142.4 285.4h0M128.5 285.0h0M241.2 285.3h0M140.0 285.2h0M188.4 284.7h0M104.8 284.9h0M224.0 285.5h0M196.7 285.3h0M233.8 285.1h0M154.7 283.8h0M67.3 285.2h0M62.8 285.5h0M222.5 283.8h0M76.7 285.5h0M231.4 285.0h0M233.4 285.6h0M124.8 285.5h0M180.1 285.4h0M183.0 284.2h0M189.5 285.3h0M61.9 285.3h0M39.6 284.9h0M49.9 285.0h0M76.2 285.5h0M183.8 284.5h0M181.2 285.5h0M88.1 285.0h0M58.9 285.3h0M71.2 285.0h0M69.0 284.7h0M67.0 284.6h0M47.4 285.4h0M147.1 285.5h0M242.1 285.5h0M242.9 285.3h0M218.4 285.5h0M241.3 284.9h0M191.5 285.3h0M71.3 285.0h0M81.8 285.2h0M195.4 285.3h0M112.8 284.6h0M188.8 285.0h0M150.1 285.5h0M68.1 285.0h0M204.7 285.2h0M191.6 285.1h0M164.3 284.6h0M115.3 285.2h0M103.4 285.3h0M142.2 284.9h0M170.5 285.0h0M174.1 285.4h0M40.0 285.4h0M170.1 285.4h0M80.7 285.3h0M220.2 284.6h0M232.5 284.3h0M154.3 285.5h0M147.3 284.5h0M78.2 285.5h0M124.1 285.1h0M227.4 285.4h0M53.5 285.5h0M63.1 285.5h0M206.0 285.4h0M229.3 284.9h0M171.1 285.5h0M125.7 285.2h0M92.0 285.5h0M174.4 285.4h0M195.2 285.5h0M166.1 285.0h0M233.3 285.1h0M206.8 285.5h0M136.7 285.5h0M77.9 285.1h0M70.1 283.8h0M70.8 285.1h0M157.9 284.9h0M195.8 285.3h0M45.1 284.5h0M145.1 285.5h0M213.2 285.5h0M56.9 285.6h0M185.4 285.2h0M237.0 285.4h0M74.9 285.4h0M65.6 285.4h0M40.7 285.3h0M76.3 285.1h0M58.1 285.4h0M66.2 285.4h0M129.9 285.4h0M243.3 285.5h0M60.6 285.4h0M178.0 285.5h0M116.2 285.1h0M49.6 285.5h0M149.1 284.7h0M115.8 285.5h0M39.6 284.7h0M65.4 285.5h0M232.1 285.2h0M176.0 285.1h0M121.7 285.5h0M220.7 285.5h0M91.8 285.3h0M38.5 285.5h0M80.0 285.5h0M120.0 285.6h0M112.9 285.2h0M149.6 284.8h0M164.3 285.4h0M124.9 285.0h0M82.9 285.1h0M166.3 285.3h0M132.9 285.4h0M123.4 285.5h0M238.1 285.5h0M107.0 285.4h0M122.7 285.1h0M109.7 285.1h0M111.6 284.7h0M137.2 284.9h0M43.5 285.0h0M132.7 284.2h0M65.0 284.7h0M202.6 285.5h0M187.5 285.0h0M170.8 284.9h0M83.1 285.3h0M174.1 285.6h0M99.7 285.3h0M164.9 285.2h0M242.6 285.0h0M76.1 285.5h0M162.0 285.5h0M85.8 285.4h0M217.3 285.3h0M172.7 284.4h0M89.0 285.5h0M207.7 285.4h0M36.8 285.6h0M118.0 283.9h0M130.5 285.5h0M160.2 285.0h0M130.8 284.8h0M211.0 284.2h0M65.8 285.1h0M69.1 285.5h0M92.8 285.4h0M60.6 285.6h0M209.6 285.4h0M86.6 284.8h0M187.6 285.5h0M74.6 284.5h0" stroke="#357ebd" stroke-width="1.90" stroke-linecap="round" fill="none"/>
<path d="M232.2 279.1h0M124.1 281.4h0M143.2 283.2h0M234.7 282.5h0M216.7 282.4h0M223.6 279.7h0M209.7 277.1h0M206.2 280.1h0M243.0 282.5h0M175.5 281.9h0M192.3 281.3h0M119.0 278.6h0M150.7 281.9h0M234.4 281.4h0M214.3 281.5h0M136.5 278.8h0M191.9 282.3h0M171.2 281.9h0M160.4 279.2h0M139.5 279.9h0M191.6 277.8h0M236.1 277.1h0M210.9 279.4h0M237.1 279.0h0M121.3 281.8h0M166.0 282.7h0M202.7 280.1h0M201.9 281.8h0M159.7 278.4h0M201.0 281.0h0M124.0 278.1h0M172.7 277.6h0M184.6 279.8h0M155.5 282.3h0M211.7 277.5h0M193.8 283.9h0" stroke="#357ebd" stroke-width="1.90" stroke-linecap="round" fill="none"/>
<path d="M139.5 258.9h0M132.4 256.6h0M134.2 256.3h0M131.0 257.1h0M137.5 258.0h0M142.7 257.2h0M142.6 258.9h0M133.1 255.8h0M144.3 258.3h0M132.8 256.8h0M143.1 260.1h0M145.4 261.1h0M144.1 259.2h0M129.1 257.9h0M130.7 256.8h0M130.6 257.5h0M129.0 258.1h0M144.3 258.6h0M137.7 258.2h0M128.3 259.8h0M138.3 255.8h0M144.9 260.7h0M129.9 259.7h0M139.0 257.7h0M132.0 256.1h0M141.4 258.7h0M131.4 256.3h0M138.9 256.7h0M134.5 258.2h0M138.7 256.1h0M141.3 258.6h0M138.8 258.6h0M137.0 257.5h0M129.1 258.1h0M133.7 257.0h0M137.7 255.9h0M141.1 256.6h0M132.8 257.6h0M128.5 258.5h0M143.4 259.6h0M135.1 256.0h0M142.3 259.5h0M129.5 258.2h0M138.4 257.8h0M131.9 258.6h0M139.6 258.3h0M146.0 261.1h0M140.7 257.2h0M133.2 256.9h0M143.4 259.2h0M133.3 258.5h0M137.8 258.6h0M140.4 258.4h0M134.6 258.5h0M137.1 257.6h0M135.7 257.1h0M131.4 257.4h0M135.9 257.7h0M131.0 257.0h0M140.2 257.5h0M144.8 258.2h0M136.4 258.0h0M142.3 258.0h0M137.8 256.8h0M128.1 257.9h0M132.3 258.6h0M131.6 257.0h0M138.6 257.8h0M140.3 257.1h0M134.5 255.6h0" stroke="#46b8da" stroke-width="1.90" stroke-linecap="round" fill="none"/>
<path d="M149.8 261.0h0M146.8 259.7h0M148.0 259.2h0M147.0 258.8h0M146.1 262.2h0M147.0 258.9h0M150.2 258.5h0M147.5 260.3h0M145.3 260.4h0M147.6 263.5h0M146.6 261.0h0M150.4 263.1h0M147.7 259.7h0M149.7 265.4h0" stroke="#357ebd" stroke-width="1.90" stroke-linecap="round" fill="none"/>
<path d="M164.1 268.1h0M173.1 267.2h0M149.7 266.4h0M203.3 268.8h0M168.2 267.5h0M161.0 268.2h0M201.2 267.7h0M180.8 267.9h0M163.0 268.4h0M187.6 266.2h0M182.3 268.7h0M198.0 268.8h0M173.5 267.6h0M193.9 268.3h0M188.0 268.7h0M169.7 267.6h0M205.7 268.4h0M158.4 266.7h0M192.2 266.5h0M161.0 266.6h0M184.8 268.0h0M153.7 268.0h0M212.5 267.5h0M206.6 268.9h0M197.2 267.2h0M154.0 266.2h0M201.3 267.1h0M153.8 267.5h0M188.2 266.5h0M168.0 267.5h0M162.1 268.4h0M201.3 266.9h0M172.7 266.1h0M200.0 267.8h0M157.4 266.9h0M161.5 267.4h0M159.6 266.2h0M162.8 268.3h0M212.2 267.2h0M171.3 268.4h0M157.3 266.2h0M179.7 266.9h0M211.7 267.5h0M150.9 266.7h0M205.1 267.5h0M169.3 267.7h0M196.2 266.4h0M206.7 268.5h0M159.9 267.6h0M204.5 267.6h0M189.3 267.1h0M193.8 266.6h0M178.7 266.3h0M211.6 267.2h0M184.1 267.4h0M160.4 268.4h0M168.1 268.3h0M153.6 266.0h0M195.0 266.4h0M179.1 267.0h0M196.8 266.4h0M162.9 267.1h0M157.8 267.3h0M174.4 268.5h0M202.3 268.5h0M209.7 269.0h0M159.6 267.1h0M175.1 267.6h0M187.8 266.9h0M187.5 268.2h0M163.4 266.0h0M202.5 268.2h0M185.1 267.9h0M195.3 267.8h0M165.6 267.8h0M208.4 267.4h0M150.5 265.7h0M167.2 267.0h0M175.4 267.0h0M186.9 267.2h0M213.8 267.6h0M167.7 268.0h0M176.4 266.3h0M186.5 266.9h0M161.5 268.4h0M168.3 266.3h0M186.9 266.7h0M212.8 267.7h0M149.2 266.9h0M183.0 268.6h0M149.0 265.8h0M194.7 266.6h0M210.2 268.7h0M156.3 267.5h0M171.8 266.9h0M202.3 268.3h0M148.6 267.0h0M159.2 268.3h0M165.6 268.3h0" stroke="#357ebd" stroke-width="1.90" stroke-linecap="round" fill="none"/>
<path d="M164.1 268.1h0M203.3 268.8h0M161.0 268.2h0M182.5 267.6h0M179.8 267.6h0M163.0 268.4h0M187.6 266.2h0M208.5 266.6h0M198.0 268.8h0M193.9 268.3h0M196.0 268.4h0M169.7 267.6h0M194.7 266.6h0M158.4 266.7h0M191.7 266.3h0M192.2 266.5h0M161.0 266.6h0M184.8 268.0h0M211.4 267.1h0M153.7 268.0h0M187.5 268.6h0M195.9 266.6h0M205.7 268.7h0M160.7 268.5h0M212.5 267.5h0M154.0 266.2h0M201.3 267.1h0M195.1 267.4h0M195.6 267.0h0M165.2 266.4h0M179.0 267.4h0M207.7 268.2h0M177.2 267.2h0M162.1 268.4h0M201.3 266.9h0M172.7 266.1h0M199.1 266.9h0M203.4 268.2h0M200.0 267.8h0M164.3 266.0h0M187.8 266.2h0M182.8 268.1h0M184.3 266.5h0M161.5 267.4h0M159.6 266.2h0M150.1 266.4h0M191.6 266.3h0M212.2 267.2h0M171.3 268.4h0M157.3 266.2h0M179.7 266.9h0M169.4 267.5h0M152.1 266.4h0M169.3 267.7h0M196.2 266.4h0M157.8 268.0h0M206.7 268.5h0M153.0 267.5h0M162.8 268.1h0M204.5 267.6h0M196.6 268.7h0M207.8 268.1h0M189.3 267.1h0M178.7 266.3h0M211.6 267.2h0M198.8 268.6h0M168.1 268.3h0M159.9 266.2h0M153.6 266.0h0M195.0 266.4h0M179.1 267.0h0M167.9 267.0h0M157.8 267.3h0M174.4 268.5h0M155.6 266.7h0M209.7 269.0h0M175.1 267.6h0M187.8 266.9h0M213.7 267.8h0M187.5 268.2h0M163.4 266.0h0M161.4 268.1h0M190.9 268.7h0M185.3 268.4h0M185.1 267.9h0M173.9 266.2h0M207.6 267.0h0M195.3 267.8h0M163.8 266.7h0M166.6 267.3h0M166.9 266.2h0M165.6 267.8h0M208.4 267.4h0M214.6 267.3h0M184.4 267.8h0M167.2 267.0h0M175.4 267.0h0M192.6 266.3h0M207.0 267.1h0M179.8 266.6h0M182.0 266.3h0M213.8 267.6h0M170.2 268.2h0M167.7 268.0h0M176.4 266.3h0M210.8 267.7h0M168.3 266.3h0M186.9 266.7h0M198.6 267.9h0M212.8 267.7h0M213.0 267.6h0M149.2 266.9h0M195.6 266.4h0M162.9 267.0h0M148.3 267.5h0M210.2 268.7h0M210.7 268.6h0M184.6 268.0h0M156.3 267.5h0M169.0 266.2h0M202.3 268.3h0M148.6 267.0h0M149.5 267.1h0M159.2 268.3h0M165.6 268.3h0" stroke="#46b8da" stroke-width="1.90" stroke-linecap="round" fill="none"/>
<path d="M202.4 271.6h0M212.0 271.7h0M159.4 272.3h0M165.8 272.6h0M181.1 271.5h0M188.4 271.4h0M167.2 271.2h0M165.5 271.4h0M160.3 271.8h0M179.2 272.2h0M185.8 272.4h0M189.9 271.9h0M205.5 271.3h0M167.9 271.0h0M209.1 272.8h0M176.5 272.7h0M186.5 272.9h0M208.6 271.7h0M168.1 271.8h0M212.1 271.9h0M173.5 271.0h0M175.0 272.9h0M177.2 272.6h0M208.3 272.9h0M197.6 272.0h0M169.5 272.9h0M202.3 272.5h0M153.6 272.3h0M194.8 271.3h0M171.2 271.9h0M166.5 271.2h0M159.9 271.9h0M150.9 272.6h0M177.1 271.6h0M166.3 271.6h0M188.9 272.4h0M178.0 272.4h0M187.2 272.6h0M197.4 272.5h0M151.6 271.7h0M157.5 272.7h0M160.7 272.8h0M172.3 271.3h0M195.3 271.4h0M173.6 271.9h0M191.2 272.0h0M193.1 272.6h0M212.9 272.2h0M177.7 272.0h0M172.6 272.7h0M185.5 272.4h0M203.2 272.4h0M207.6 271.9h0M195.3 272.8h0M181.7 272.6h0M168.2 271.3h0M205.4 272.1h0M212.5 272.2h0M166.8 271.2h0M208.4 271.5h0M160.7 272.1h0M196.6 272.1h0M153.1 272.6h0M193.9 271.6h0M210.0 272.0h0M199.9 271.2h0M170.0 272.5h0M194.5 272.4h0M195.1 271.1h0M205.6 271.1h0M165.8 271.6h0M182.5 271.2h0M177.8 271.3h0M171.8 271.7h0M157.4 272.6h0M152.0 271.4h0M208.0 271.8h0M211.5 271.6h0M183.7 272.1h0M176.3 273.0h0" stroke="#357ebd" stroke-width="1.90" stroke-linecap="round" fill="none"/>
<path d="M127.0 263.0h0M132.0 274.0h0M128.0 279.0h0M134.0 280.0h0" stroke="#357ebd" stroke-width="1.90" stroke-linecap="round" fill="none"/>
<path d="M144.3 253.5h0M145.5 255.5h0M146.2 257.0h0" stroke="#5cb85c" stroke-width="1.90" stroke-linecap="round" fill="none"/>
<path d="M139.2 250.2h0M141.8 250.5h0M143.3 252.0h0" stroke="#eea236" stroke-width="1.90" stroke-linecap="round" fill="none"/>
<path d="M139.90 244.50L141.43 246.30L139.90 248.10L138.37 246.30Z" fill="#4e2a84"/>
<text x="144.00" y="248.60" font-size="6.3" text-anchor="start" fill="#222" stroke="#222" stroke-width="0.25" font-weight="normal" font-style="normal"  textLength="32.7" lengthAdjust="spacingAndGlyphs">rs12041331</text>
<line x1="34.50" y1="287.20" x2="245.50" y2="287.20" stroke="#222" stroke-width="1.3" />
<line x1="61.30" y1="287.20" x2="61.30" y2="290.20" stroke="#222" stroke-width="0.8" />
<line x1="102.40" y1="287.20" x2="102.40" y2="290.20" stroke="#222" stroke-width="0.8" />
<line x1="143.50" y1="287.20" x2="143.50" y2="290.20" stroke="#222" stroke-width="0.8" />
<line x1="184.60" y1="287.20" x2="184.60" y2="290.20" stroke="#222" stroke-width="0.8" />
<line x1="225.70" y1="287.20" x2="225.70" y2="290.20" stroke="#222" stroke-width="0.8" />
<line x1="283.50" y1="131.60" x2="283.50" y2="174.30" stroke="#222" stroke-width="1.1" />
<line x1="280.30" y1="137.70" x2="283.50" y2="137.70" stroke="#222" stroke-width="0.8" />
<text x="277.70" y="140.00" font-size="6.4" text-anchor="end" fill="#333" stroke="#333" stroke-width="0.25" font-weight="normal" font-style="normal" >30</text>
<line x1="280.30" y1="149.40" x2="283.50" y2="149.40" stroke="#222" stroke-width="0.8" />
<text x="277.70" y="151.70" font-size="6.4" text-anchor="end" fill="#333" stroke="#333" stroke-width="0.25" font-weight="normal" font-style="normal" >20</text>
<line x1="280.30" y1="161.10" x2="283.50" y2="161.10" stroke="#222" stroke-width="0.8" />
<text x="277.70" y="163.40" font-size="6.4" text-anchor="end" fill="#333" stroke="#333" stroke-width="0.25" font-weight="normal" font-style="normal" >10</text>
<line x1="280.30" y1="172.80" x2="283.50" y2="172.80" stroke="#222" stroke-width="0.8" />
<text x="277.70" y="175.10" font-size="6.4" text-anchor="end" fill="#333" stroke="#333" stroke-width="0.25" font-weight="normal" font-style="normal" >0</text>
<text transform="translate(262.50,153.00) rotate(-90)" font-size="8.3" text-anchor="middle" fill="#333" stroke="#333" stroke-width="0.2" textLength="26.6" lengthAdjust="spacingAndGlyphs">-log<tspan font-size="5.6" dy="1.8">10</tspan><tspan dy="-1.8">(</tspan><tspan font-style="italic">P</tspan>)</text>
<line x1="285.00" y1="164.26" x2="495.00" y2="164.26" stroke="#b8b8b8" stroke-width="0.75" stroke-dasharray="1.5,2.2" />
<rect x="290.90" y="171.75" width="9.70" height="2.05" fill="#357ebd"/>
<rect x="299.40" y="171.43" width="27.20" height="2.37" fill="#357ebd"/>
<rect x="326.00" y="166.20" width="95.00" height="7.40" fill="#357ebd"/>
<rect x="420.40" y="171.90" width="66.20" height="1.90" fill="#357ebd"/>
<path d="M294.9 170.9h0M298.7 169.8h0M291.6 171.7h0M297.9 172.0h0M294.9 171.3h0M293.2 170.5h0M298.2 171.9h0M298.1 171.6h0M294.9 171.0h0M293.7 171.1h0M298.1 171.6h0M294.8 171.5h0M298.9 171.9h0M296.9 170.5h0M294.8 171.9h0M295.3 172.0h0M295.3 171.7h0M298.4 169.6h0M295.1 171.9h0M299.7 171.5h0M297.0 169.9h0M296.5 171.2h0M295.5 170.9h0M292.7 170.6h0M293.6 170.1h0M294.8 171.8h0M295.3 171.1h0M294.5 172.0h0M293.9 171.4h0M299.8 171.6h0M292.2 170.5h0M298.0 171.7h0M299.7 171.9h0M296.2 170.7h0M299.5 171.0h0M291.9 171.8h0M294.4 171.8h0M296.3 171.3h0M299.5 171.7h0M296.1 171.4h0M298.8 171.1h0M299.4 170.4h0M292.2 171.6h0M291.9 171.9h0M296.4 170.5h0M296.9 170.8h0M293.1 169.8h0M294.2 169.8h0M295.8 171.8h0M296.2 170.5h0M291.8 171.4h0M298.7 171.9h0M293.5 170.9h0M298.1 171.1h0M298.5 172.0h0M295.9 170.6h0M293.9 171.8h0M294.6 171.7h0M292.1 170.0h0M298.1 171.2h0M297.3 170.5h0M293.2 169.8h0M295.5 170.7h0M293.6 171.7h0M299.9 171.4h0M293.3 170.6h0M298.3 171.6h0M296.2 170.1h0M297.2 171.6h0M298.9 172.0h0M293.2 171.8h0M297.3 171.1h0M298.6 171.9h0M297.9 170.9h0M296.4 170.8h0M291.6 171.7h0M299.6 171.2h0M297.0 170.9h0M293.1 171.9h0M293.4 171.0h0M299.0 171.9h0M295.7 171.6h0M294.1 171.8h0M292.1 171.8h0M299.7 171.3h0M298.0 170.6h0M295.2 171.8h0M291.7 170.6h0M293.4 172.0h0M296.1 170.9h0M293.5 171.6h0M297.7 171.8h0M294.5 172.0h0M297.8 171.2h0M294.0 171.8h0M292.8 171.9h0M293.2 170.8h0M297.8 170.7h0M294.8 169.9h0M293.1 171.4h0M292.0 171.6h0M298.1 171.7h0M292.6 171.7h0M291.8 171.6h0M297.4 170.7h0M292.3 171.4h0M295.1 169.6h0M292.1 170.7h0M298.2 171.8h0M295.0 171.8h0M295.8 171.8h0M294.2 170.8h0M296.5 171.0h0M296.1 171.4h0M293.1 170.3h0M295.9 171.1h0M299.1 171.7h0M293.9 171.6h0M295.2 171.4h0M295.3 170.8h0M295.2 171.9h0M298.0 170.4h0M296.5 171.9h0M293.1 171.1h0M296.4 170.4h0M294.6 171.9h0M295.1 170.0h0M293.7 171.7h0M298.5 170.9h0M292.7 170.9h0M297.2 170.2h0M297.8 171.7h0M294.3 171.4h0M292.6 171.5h0M297.3 171.7h0M298.5 171.2h0M293.1 170.8h0M298.2 171.4h0M291.5 170.4h0M294.3 170.8h0M298.8 170.5h0M297.7 171.3h0M298.5 169.8h0M293.1 170.4h0M296.1 171.7h0M299.0 170.9h0M295.1 171.6h0M291.8 169.6h0M295.6 171.3h0M293.1 170.9h0M299.1 171.2h0M297.7 171.0h0M295.9 170.6h0M293.0 171.4h0M295.5 170.5h0M293.3 171.6h0M296.3 171.2h0M297.9 171.1h0M296.7 171.9h0M296.2 171.5h0M299.9 171.8h0M296.7 171.8h0M297.1 171.8h0M291.7 171.6h0M291.5 171.9h0M293.9 171.2h0M297.0 171.4h0M298.6 171.0h0M291.9 171.5h0M294.5 171.7h0M293.6 171.5h0M295.8 171.6h0M293.8 171.6h0M294.1 172.0h0M296.8 171.9h0M299.1 170.5h0M293.5 171.0h0M298.2 170.5h0M298.5 171.1h0M296.0 171.9h0M294.0 171.8h0M291.9 171.3h0M295.4 171.8h0M294.7 169.7h0M297.4 171.2h0M299.0 170.8h0M295.8 170.2h0M298.1 171.5h0M297.2 171.4h0M294.6 170.5h0M296.1 171.2h0M297.6 171.4h0M292.3 169.9h0M292.0 170.8h0M296.3 171.7h0M293.4 171.0h0M292.8 171.9h0M299.3 171.6h0M295.0 170.0h0M295.1 172.0h0M299.0 170.2h0M298.2 172.0h0M292.4 171.9h0M299.1 171.3h0M291.5 169.7h0M297.6 171.7h0M297.3 171.1h0M293.5 171.7h0M296.9 171.5h0M293.5 169.8h0M298.6 170.1h0M294.4 171.6h0M292.6 171.6h0M295.2 170.6h0M296.5 171.5h0M299.1 171.8h0M298.9 171.5h0M294.4 171.4h0M293.8 172.0h0M296.8 171.0h0M293.6 171.2h0M296.1 171.6h0M292.3 171.9h0M292.3 171.6h0M295.2 171.7h0M296.3 170.0h0M292.0 171.5h0M293.4 171.4h0M297.0 170.5h0M293.7 170.7h0M295.4 171.9h0M292.5 171.8h0M297.9 170.1h0M293.6 169.9h0M297.0 172.0h0M295.4 170.9h0M292.5 171.5h0M293.5 170.3h0M295.4 171.9h0M294.2 170.8h0M292.9 171.5h0M291.5 170.4h0M299.2 171.1h0M298.2 171.8h0M293.2 171.6h0M292.0 171.9h0M299.0 170.2h0M294.1 171.3h0M321.5 170.8h0M306.0 171.2h0M313.3 171.5h0M310.8 171.5h0M316.4 170.2h0M305.9 171.4h0M307.3 171.7h0M305.1 171.5h0M317.6 171.2h0M320.2 171.3h0M307.2 170.9h0M303.3 170.7h0M304.3 170.7h0M320.2 168.9h0M313.5 170.7h0M320.6 170.2h0M315.7 169.4h0M309.6 170.0h0M324.0 170.4h0M304.4 171.6h0M305.3 169.8h0M314.4 171.8h0M314.7 170.5h0M322.0 169.1h0M325.9 170.2h0M312.3 169.9h0M321.9 169.4h0M315.2 170.6h0M319.9 169.0h0M303.4 170.6h0M325.8 170.7h0M325.0 169.6h0M309.0 171.6h0M307.1 170.5h0M324.2 169.6h0M310.0 171.1h0M321.1 170.1h0M303.1 171.1h0M301.4 171.7h0M303.3 171.2h0M310.6 170.3h0M302.1 171.7h0M313.1 170.0h0M321.3 171.1h0M319.9 171.6h0M308.8 169.8h0M311.3 168.7h0M303.4 171.6h0M321.0 171.4h0M310.1 171.7h0M314.7 171.8h0M300.6 170.6h0M302.7 169.3h0M300.2 171.5h0M306.6 171.0h0M316.3 170.7h0M305.4 171.7h0M301.0 169.1h0M325.5 171.4h0M308.5 170.0h0M314.5 171.5h0M301.8 170.6h0M318.9 170.2h0M309.7 170.2h0M302.6 170.9h0M318.0 171.5h0M315.8 169.9h0M308.7 171.6h0M304.4 170.7h0M312.7 168.7h0M302.5 170.8h0M320.9 170.4h0M310.3 171.1h0M324.5 169.9h0M324.6 171.6h0M310.3 168.8h0M310.7 169.0h0M324.1 170.2h0M310.6 171.1h0M317.6 169.5h0M306.6 170.0h0M320.6 171.1h0M307.2 170.6h0M305.4 170.6h0M324.4 171.7h0M303.2 171.6h0M306.0 171.2h0M316.3 170.1h0M323.9 169.8h0M317.5 170.8h0M322.6 170.0h0M312.9 168.9h0M316.0 171.6h0M311.0 171.8h0M315.4 170.7h0M307.9 169.9h0M305.1 170.0h0M312.2 171.6h0M315.2 170.7h0M325.6 171.6h0M305.7 169.1h0M320.5 170.8h0M316.5 169.9h0M319.2 170.9h0M307.6 171.6h0M317.4 171.4h0M305.8 171.8h0M325.0 171.1h0M323.3 169.5h0M319.6 169.0h0M305.0 171.3h0M307.1 171.2h0M322.0 170.2h0M300.1 171.6h0M318.9 171.4h0M325.4 170.5h0M321.1 170.5h0M309.9 168.8h0M316.4 171.7h0M309.0 169.9h0M306.5 170.0h0M322.8 171.1h0M302.9 169.7h0M316.9 169.9h0M311.9 171.2h0M311.5 171.7h0M309.1 169.9h0M306.1 170.8h0M325.2 169.5h0M314.3 171.1h0M316.1 170.3h0M309.6 171.2h0M307.7 171.4h0M315.7 170.4h0M324.0 171.1h0M321.9 170.6h0M303.5 171.5h0M323.6 170.9h0M309.1 169.3h0M314.3 171.2h0M316.4 170.5h0M321.6 168.9h0M308.9 171.8h0M303.0 171.2h0M301.2 169.6h0M325.4 170.3h0M306.7 171.7h0M316.7 171.8h0M323.5 170.5h0M310.8 171.5h0M301.5 171.8h0M302.2 169.0h0M305.5 171.1h0M315.4 169.9h0M321.3 171.6h0M319.8 171.3h0M303.4 171.0h0M304.0 171.7h0M322.6 170.6h0M305.2 170.4h0M320.6 171.2h0M309.1 171.5h0M311.3 171.4h0M317.8 170.5h0M308.6 170.7h0M309.3 170.5h0M313.2 171.5h0M301.6 170.5h0M303.5 170.5h0M307.5 171.5h0M318.2 171.3h0M312.1 171.3h0M318.1 171.5h0M320.5 171.8h0M314.1 170.6h0M312.3 170.5h0M314.6 171.5h0M305.8 171.6h0M300.5 170.7h0M325.1 171.4h0M324.3 170.6h0M313.7 169.2h0M301.9 169.9h0M300.3 171.7h0M325.6 171.5h0M319.5 171.1h0M310.4 171.5h0M318.1 171.4h0M307.5 170.8h0M318.3 169.8h0M320.3 169.2h0M388.4 164.2h0M408.3 165.3h0M395.2 166.6h0M346.2 163.9h0M415.0 166.5h0M334.1 165.2h0M407.5 165.6h0M375.6 166.8h0M328.8 164.9h0M340.9 166.7h0M381.5 164.6h0M408.5 166.5h0M371.8 166.7h0M346.5 165.9h0M420.4 164.5h0M392.8 166.3h0M408.1 164.6h0M362.5 164.1h0M374.1 166.4h0M354.2 166.4h0M351.2 165.2h0M388.9 166.2h0M415.5 164.9h0M363.2 166.1h0M401.6 166.2h0M351.4 166.4h0M398.6 165.6h0M357.8 166.0h0M332.6 166.0h0M365.7 166.1h0M381.9 164.9h0M356.1 165.3h0M338.9 164.6h0M386.6 164.4h0M413.3 165.4h0M356.5 164.3h0M352.3 165.0h0M338.9 164.7h0M417.5 166.6h0M412.7 166.6h0M392.7 166.7h0M386.8 165.0h0M342.0 165.8h0M417.6 166.6h0M418.5 165.1h0M391.0 166.8h0M394.6 166.4h0M408.6 165.5h0M409.0 164.9h0M404.4 165.1h0M346.4 166.3h0M401.3 165.7h0M370.7 164.6h0M406.0 165.8h0M389.6 166.3h0M328.5 166.2h0M407.1 164.2h0M330.5 166.4h0M350.9 165.4h0M414.3 164.4h0M373.0 164.0h0M408.9 166.4h0M367.5 166.2h0M340.3 166.2h0M402.8 166.0h0M329.2 164.7h0M388.9 166.3h0M372.8 165.9h0M369.3 165.5h0M353.0 164.4h0M408.7 165.5h0M356.5 164.7h0M358.0 165.4h0M341.0 165.2h0M359.3 165.0h0M360.8 163.9h0M410.1 164.7h0M397.0 166.6h0M362.2 164.8h0M390.3 166.6h0M376.7 165.7h0M336.3 164.7h0M369.2 165.8h0M362.2 166.0h0M405.6 164.5h0M376.0 164.1h0M356.5 165.5h0M404.7 164.4h0M402.0 165.8h0M404.2 164.0h0M375.1 164.2h0M399.6 165.8h0M347.9 166.8h0M411.2 165.0h0M346.6 166.1h0M358.2 166.4h0M352.4 166.4h0M359.6 165.6h0M355.9 165.7h0M331.6 164.9h0M359.6 165.6h0M402.2 165.3h0M416.4 164.3h0M395.6 165.0h0M346.2 164.8h0M361.6 165.3h0M372.5 166.2h0M401.3 165.0h0M399.1 165.6h0M329.3 166.3h0M410.0 165.7h0M374.1 166.5h0M419.1 165.5h0M331.2 165.3h0M345.3 165.2h0M383.2 164.5h0M332.2 165.3h0M390.6 165.4h0M403.5 166.8h0M418.4 164.8h0M368.7 165.5h0M346.7 166.6h0M399.0 166.7h0M362.7 165.3h0M375.5 164.1h0M350.5 165.8h0M414.0 164.0h0M357.9 165.3h0M364.9 164.6h0M342.3 164.7h0M331.4 164.6h0M332.0 166.4h0M387.3 165.3h0M356.6 165.8h0M358.5 166.3h0M406.4 164.5h0M375.1 164.9h0M419.4 164.5h0M329.7 164.5h0M415.5 165.7h0M395.7 165.3h0M393.0 165.1h0M375.9 165.8h0M401.4 166.6h0M386.7 166.3h0M341.4 164.4h0M412.7 164.0h0M369.6 164.5h0M377.8 164.7h0M412.0 164.1h0M404.4 166.7h0M364.5 166.2h0M384.6 164.5h0M375.4 164.2h0M355.4 164.0h0M343.1 166.5h0M374.4 166.4h0M369.7 164.7h0M372.4 164.9h0M418.6 163.9h0M344.8 164.5h0M374.3 165.0h0M337.5 165.6h0M409.8 165.4h0M358.1 165.3h0M349.4 163.9h0M354.9 164.9h0M399.7 165.0h0M409.0 164.2h0M355.8 164.3h0M457.6 172.1h0M468.7 172.1h0M439.7 169.9h0M456.4 172.1h0M453.3 171.5h0M444.4 171.8h0M437.8 171.5h0M472.7 172.0h0M445.5 171.4h0M449.9 171.9h0M424.5 172.1h0M426.1 172.1h0M448.1 170.1h0M480.0 171.8h0M472.7 169.1h0M421.8 171.0h0M477.6 171.7h0M469.0 171.8h0M446.2 169.2h0M450.3 170.1h0M440.7 171.2h0M464.8 171.7h0M473.0 172.0h0M422.6 171.7h0M436.7 170.9h0M459.0 171.6h0M465.6 170.9h0M474.1 170.3h0M469.9 172.0h0M427.4 170.8h0M450.6 172.0h0M428.4 171.5h0M442.4 171.8h0M454.7 171.1h0M447.3 171.4h0M459.3 170.7h0M434.0 170.6h0M484.9 171.9h0M468.1 170.5h0M475.0 171.9h0M467.9 172.1h0M481.1 170.7h0M429.4 171.7h0M482.8 171.1h0M471.6 172.1h0M444.9 171.6h0M441.7 170.4h0M435.3 169.7h0M435.8 171.9h0M435.6 172.1h0M479.6 170.6h0M437.7 170.2h0M425.0 171.1h0M481.5 170.6h0M454.1 169.9h0M468.2 170.5h0M425.9 171.0h0M478.7 170.4h0M441.5 171.4h0M471.6 171.7h0M479.1 170.8h0M463.5 170.6h0M446.5 171.4h0M439.9 171.5h0M422.8 171.1h0M439.6 171.1h0M440.5 171.2h0M443.7 172.1h0M463.5 170.8h0M465.9 172.0h0M455.3 171.9h0M463.5 171.2h0M465.2 171.5h0M475.5 170.3h0M455.5 171.5h0M426.3 172.1h0M463.1 171.3h0M433.6 171.8h0M458.7 170.2h0M473.9 171.1h0M433.1 171.2h0M438.9 171.7h0M432.6 171.1h0M468.4 171.3h0M448.9 171.2h0M470.6 170.8h0M421.5 171.6h0M465.6 171.7h0M435.1 171.1h0M467.2 171.3h0M465.9 170.0h0M483.1 172.0h0M457.7 171.9h0M453.7 171.3h0M447.0 171.1h0M436.0 171.2h0M425.9 171.9h0M482.1 171.9h0M427.5 171.5h0M469.0 171.7h0M452.9 170.4h0M443.8 171.8h0M452.4 172.0h0M444.8 171.7h0M436.2 169.8h0M468.2 171.7h0M473.4 170.4h0M430.8 171.7h0M436.2 172.0h0M479.2 171.8h0M439.5 172.0h0M444.4 172.1h0M438.8 170.9h0M442.3 172.1h0M439.3 171.5h0M426.5 171.3h0M425.6 172.0h0M463.0 170.9h0M438.0 171.2h0M477.6 171.4h0M431.5 171.8h0M448.9 169.9h0M438.7 172.1h0M447.4 171.2h0M433.5 170.8h0M471.1 169.5h0M479.0 171.1h0M471.3 171.0h0M480.8 171.3h0M440.8 171.3h0M421.7 172.0h0M460.9 171.7h0M423.9 172.0h0M433.7 170.4h0M481.6 169.5h0M466.3 170.5h0M473.4 172.0h0M459.5 171.6h0M454.9 171.1h0M457.2 171.5h0M466.0 172.0h0M477.6 169.1h0M437.0 171.9h0M423.6 169.4h0M427.0 170.8h0M447.0 171.8h0M435.2 171.4h0M456.1 171.7h0M468.4 172.0h0M471.6 171.1h0M429.4 171.2h0M458.9 171.6h0M474.5 171.6h0M458.4 171.6h0M423.9 171.8h0M423.8 171.4h0M461.2 170.8h0M463.9 171.4h0M439.3 170.0h0M459.1 172.0h0M446.0 171.0h0M462.1 172.0h0M460.8 171.3h0M449.3 171.5h0M441.0 172.0h0M480.4 171.8h0M427.8 171.4h0M454.5 171.7h0M459.3 172.1h0M424.5 172.0h0M475.9 171.9h0M475.0 171.3h0M466.6 170.3h0M440.8 171.3h0M432.4 171.6h0M435.7 171.8h0M435.2 171.8h0M472.2 170.0h0M440.5 171.3h0M441.0 170.5h0M483.1 171.6h0M433.0 170.7h0M481.6 171.6h0M485.9 171.9h0M475.4 171.8h0M483.4 170.3h0M460.8 171.6h0M442.1 171.8h0M447.3 171.5h0M436.7 169.9h0M473.3 171.1h0M458.9 171.8h0M482.9 171.4h0M432.4 170.6h0M423.6 171.5h0M483.5 171.4h0M480.7 171.6h0M468.4 170.4h0M427.8 170.5h0M450.7 171.9h0M445.1 171.6h0M478.7 172.0h0M442.2 171.3h0M453.1 170.9h0M461.7 170.1h0M436.9 171.7h0M421.1 169.2h0M475.8 171.8h0M484.0 169.3h0M463.1 171.7h0M453.1 172.0h0M442.1 171.9h0M458.9 170.2h0M478.1 170.8h0M456.0 172.1h0M481.3 171.9h0M468.2 171.1h0M442.2 170.6h0M473.0 169.9h0M478.4 171.8h0M467.6 172.0h0M435.0 172.0h0M426.2 169.9h0M476.0 171.5h0M452.5 169.7h0M479.7 171.8h0M428.2 172.1h0M456.9 172.0h0M457.2 171.7h0M477.4 170.3h0M421.9 171.2h0M435.3 171.9h0M456.2 170.1h0M447.6 171.8h0M428.0 171.6h0M422.4 170.2h0M452.3 172.0h0M430.3 172.0h0M449.6 171.7h0M456.2 171.3h0M462.4 169.7h0M454.0 172.1h0M429.7 171.9h0M461.1 172.0h0M434.8 170.9h0M429.9 171.3h0M425.8 170.6h0M438.7 171.6h0M464.2 171.7h0M449.6 171.9h0M444.0 171.8h0M427.0 172.0h0M447.0 171.7h0M482.7 172.1h0M424.0 172.0h0M454.0 171.9h0M477.3 172.1h0M476.2 169.1h0M470.5 171.4h0M445.7 171.5h0M464.7 171.9h0M421.1 172.1h0M462.8 170.9h0M471.5 172.0h0M424.7 169.1h0M453.1 170.9h0M480.7 171.9h0M449.5 171.7h0M421.1 171.4h0M480.6 171.6h0M455.6 171.0h0M472.0 170.7h0M457.3 172.1h0M459.2 171.2h0M443.9 171.6h0M468.6 171.6h0M460.2 170.7h0M433.5 171.2h0M431.2 172.0h0M440.7 171.6h0M455.5 170.6h0M477.1 172.0h0M467.5 170.2h0M467.1 171.8h0M439.6 172.1h0M473.9 169.1h0M461.4 171.1h0M441.0 171.7h0M435.1 171.6h0M454.7 170.6h0M469.1 171.7h0M456.3 171.1h0M473.7 171.7h0M427.5 170.0h0M473.5 171.6h0M458.1 172.0h0M444.1 171.3h0M438.2 171.3h0M465.8 171.3h0M453.5 171.4h0M426.9 170.0h0M427.1 171.6h0M449.0 171.0h0M435.3 172.1h0M437.2 171.5h0M476.7 171.7h0M461.0 170.9h0M434.3 171.0h0M464.2 172.0h0M482.8 170.6h0M462.8 172.0h0M445.4 172.1h0M443.5 172.0h0M461.6 171.5h0M444.1 171.8h0M467.3 170.4h0M468.5 171.9h0M483.2 169.4h0M440.9 172.1h0M425.4 171.0h0M438.4 170.9h0M436.2 172.1h0M465.9 171.9h0M479.9 171.5h0M440.7 171.6h0M428.1 171.2h0M443.9 170.7h0M436.4 171.3h0M457.7 171.3h0M482.2 172.0h0M479.1 170.6h0M450.7 171.9h0M458.4 170.3h0M441.0 170.4h0M439.5 172.0h0M431.7 172.1h0M452.4 171.7h0M457.4 172.1h0M461.2 171.7h0M425.9 169.3h0M432.0 171.2h0M426.5 171.8h0M441.1 169.5h0M429.7 172.1h0M467.6 171.3h0M437.5 171.9h0M421.8 171.2h0M474.0 169.7h0M481.6 171.9h0M307.2 167.9h0M307.5 169.7h0M301.8 164.3h0M304.7 166.5h0M305.0 163.3h0M303.2 167.1h0M300.8 168.4h0M300.9 164.8h0M308.7 162.7h0M305.2 162.9h0M301.1 166.5h0M309.0 164.7h0M309.2 163.9h0M306.8 168.8h0M301.8 167.6h0M302.8 164.6h0M301.4 169.1h0M302.9 164.6h0M308.5 164.7h0M305.8 166.3h0M307.9 165.0h0M308.8 163.1h0M309.9 161.1h0M308.1 165.7h0M308.8 162.4h0M300.9 167.9h0M304.1 163.5h0M308.5 166.4h0M302.1 166.2h0M306.0 161.4h0M318.3 165.6h0M313.6 168.9h0M316.3 165.2h0M315.4 163.8h0M324.7 163.2h0M317.5 161.8h0M316.7 162.1h0M324.5 169.3h0M313.0 167.5h0M323.5 166.4h0M324.2 162.0h0M323.8 167.6h0M320.5 164.1h0M321.1 169.4h0M313.5 159.3h0M319.9 159.7h0M323.6 168.4h0M324.9 160.5h0M317.0 159.7h0M320.8 160.3h0M312.5 161.3h0M313.3 168.6h0M323.9 166.7h0M320.8 163.8h0M313.8 161.1h0M312.1 160.0h0M315.0 165.1h0M312.0 165.2h0M318.0 162.4h0M312.1 163.4h0M322.9 167.1h0M320.9 162.3h0M313.4 167.5h0M312.2 164.1h0M316.0 161.1h0M311.7 162.3h0M319.0 164.5h0M322.4 166.0h0M324.5 161.5h0M315.3 162.9h0" stroke="#357ebd" stroke-width="1.90" stroke-linecap="round" fill="none"/>
<rect x="328.0" y="169.0" width="3.9" height="0.9" fill="#fff" fill-opacity="0.4"/>
<rect x="333.7" y="169.0" width="6.0" height="0.9" fill="#fff" fill-opacity="0.4"/>
<rect x="341.9" y="169.0" width="4.8" height="0.9" fill="#fff" fill-opacity="0.4"/>
<rect x="350.0" y="169.0" width="7.4" height="0.9" fill="#fff" fill-opacity="0.4"/>
<rect x="361.1" y="169.0" width="6.3" height="0.9" fill="#fff" fill-opacity="0.4"/>
<rect x="370.1" y="169.0" width="6.6" height="0.9" fill="#fff" fill-opacity="0.4"/>
<rect x="380.5" y="169.0" width="5.0" height="0.9" fill="#fff" fill-opacity="0.4"/>
<rect x="389.0" y="169.0" width="6.0" height="0.9" fill="#fff" fill-opacity="0.4"/>
<rect x="398.3" y="169.0" width="7.7" height="0.9" fill="#fff" fill-opacity="0.4"/>
<rect x="407.9" y="169.0" width="6.6" height="0.9" fill="#fff" fill-opacity="0.4"/>
<rect x="416.8" y="169.0" width="2.2" height="0.9" fill="#fff" fill-opacity="0.4"/>
<rect x="328.0" y="171.3" width="8.7" height="0.9" fill="#fff" fill-opacity="0.2"/>
<rect x="338.7" y="171.3" width="3.8" height="0.9" fill="#fff" fill-opacity="0.2"/>
<rect x="345.6" y="171.3" width="5.8" height="0.9" fill="#fff" fill-opacity="0.2"/>
<rect x="354.2" y="171.3" width="3.8" height="0.9" fill="#fff" fill-opacity="0.2"/>
<rect x="360.6" y="171.3" width="5.7" height="0.9" fill="#fff" fill-opacity="0.2"/>
<rect x="369.0" y="171.3" width="5.8" height="0.9" fill="#fff" fill-opacity="0.2"/>
<rect x="377.5" y="171.3" width="8.9" height="0.9" fill="#fff" fill-opacity="0.2"/>
<rect x="387.8" y="171.3" width="3.3" height="0.9" fill="#fff" fill-opacity="0.2"/>
<rect x="393.1" y="171.3" width="3.7" height="0.9" fill="#fff" fill-opacity="0.2"/>
<rect x="398.0" y="171.3" width="7.5" height="0.9" fill="#fff" fill-opacity="0.2"/>
<rect x="409.0" y="171.3" width="3.0" height="0.9" fill="#fff" fill-opacity="0.2"/>
<rect x="413.6" y="171.3" width="4.3" height="0.9" fill="#fff" fill-opacity="0.2"/>
<path d="M419.4 154.8h0M380.3 159.3h0M368.1 157.4h0M400.8 160.8h0M406.7 161.0h0M376.8 155.4h0M356.1 160.7h0M406.8 161.0h0M394.2 158.1h0M358.1 158.5h0M362.3 156.9h0M404.8 159.9h0M413.1 162.6h0M401.9 163.4h0M364.9 161.4h0M396.1 159.5h0M300.5 161.0h0M305.0 159.5h0M337.0 156.0h0M343.0 157.5h0" stroke="#357ebd" stroke-width="1.90" stroke-linecap="round" fill="none"/>
<path d="M367.7 150.5h0M369.4 150.5h0M370.0 152.8h0M368.3 155.7h0M361.0 157.0h0M404.0 161.0h0" stroke="#3a4a8a" stroke-width="1.90" stroke-linecap="round" fill="none"/>
<path d="M359.6 162.6h0M363.7 161.4h0M366.5 160.9h0M368.8 160.3h0M370.6 159.1h0M372.3 158.0h0M374.0 159.7h0M377.5 160.9h0M379.8 160.3h0M382.1 159.1h0M384.4 158.6h0M386.7 158.0h0M388.4 159.1h0M376.0 161.5h0M381.0 161.8h0M365.0 162.5h0M405.7 149.3h0M407.5 146.5h0M409.2 149.9h0M401.1 158.6h0M402.9 159.1h0M404.5 160.5h0M410.5 152.0h0M418.0 153.5h0M420.0 155.0h0" stroke="#5cb85c" stroke-width="1.90" stroke-linecap="round" fill="none"/>
<path d="M359.6 148.2h0M361.3 148.8h0M376.9 143.6h0M397.7 143.0h0M398.3 145.9h0M412.0 150.5h0M413.5 152.0h0M414.5 154.0h0M413.0 156.0h0M412.5 158.0h0M414.0 160.0h0M416.0 161.5h0M418.0 162.5h0M419.0 160.0h0M417.5 157.0h0M420.0 156.0h0M421.0 158.5h0" stroke="#46b8da" stroke-width="1.90" stroke-linecap="round" fill="none"/>
<path d="M362.5 139.5h0M364.2 139.0h0M366.0 139.5h0M367.1 140.7h0M368.8 142.4h0M370.0 141.3h0M371.1 139.5h0M372.3 139.0h0M373.5 138.4h0M375.2 139.0h0M375.8 140.1h0M381.0 136.0h0M382.1 137.8h0M382.7 139.5h0M383.8 140.7h0M385.0 139.5h0M372.9 148.2h0M374.6 147.0h0M376.3 145.9h0M378.0 144.7h0M379.8 144.1h0M381.5 145.3h0M382.7 146.5h0M384.4 147.0h0M385.6 147.6h0M390.8 146.5h0M392.5 146.5h0M394.8 147.0h0M396.5 146.5h0M392.5 140.7h0M394.8 137.8h0M397.1 140.7h0M398.8 139.5h0M401.1 136.7h0M402.3 138.4h0M403.4 139.0h0" stroke="#d43f3a" stroke-width="2.10" stroke-linecap="round" fill="none"/>
<path d="M389.00 133.70L390.53 135.50L389.00 137.30L387.47 135.50Z" fill="#2e2860"/>
<text x="392.40" y="135.80" font-size="6.3" text-anchor="start" fill="#222" stroke="#222" stroke-width="0.25" font-weight="normal" font-style="normal"  textLength="32.3" lengthAdjust="spacingAndGlyphs">rs12276986</text>
<line x1="283.50" y1="173.90" x2="495.00" y2="173.90" stroke="#222" stroke-width="1.3" />
<line x1="289.10" y1="173.90" x2="289.10" y2="176.90" stroke="#222" stroke-width="0.8" />
<line x1="327.56" y1="173.90" x2="327.56" y2="176.90" stroke="#222" stroke-width="0.8" />
<line x1="366.02" y1="173.90" x2="366.02" y2="176.90" stroke="#222" stroke-width="0.8" />
<line x1="404.48" y1="173.90" x2="404.48" y2="176.90" stroke="#222" stroke-width="0.8" />
<line x1="442.94" y1="173.90" x2="442.94" y2="176.90" stroke="#222" stroke-width="0.8" />
<line x1="481.40" y1="173.90" x2="481.40" y2="176.90" stroke="#222" stroke-width="0.8" />
<line x1="283.50" y1="188.30" x2="283.50" y2="230.90" stroke="#222" stroke-width="1.1" />
<line x1="280.30" y1="190.20" x2="283.50" y2="190.20" stroke="#222" stroke-width="0.8" />
<text x="277.70" y="192.50" font-size="6.4" text-anchor="end" fill="#333" stroke="#333" stroke-width="0.25" font-weight="normal" font-style="normal" >15</text>
<line x1="280.30" y1="203.20" x2="283.50" y2="203.20" stroke="#222" stroke-width="0.8" />
<text x="277.70" y="205.50" font-size="6.4" text-anchor="end" fill="#333" stroke="#333" stroke-width="0.25" font-weight="normal" font-style="normal" >10</text>
<line x1="280.30" y1="216.20" x2="283.50" y2="216.20" stroke="#222" stroke-width="0.8" />
<text x="277.70" y="218.50" font-size="6.4" text-anchor="end" fill="#333" stroke="#333" stroke-width="0.25" font-weight="normal" font-style="normal" >5</text>
<line x1="280.30" y1="229.20" x2="283.50" y2="229.20" stroke="#222" stroke-width="0.8" />
<text x="277.70" y="231.50" font-size="6.4" text-anchor="end" fill="#333" stroke="#333" stroke-width="0.25" font-weight="normal" font-style="normal" >0</text>
<text transform="translate(262.50,210.80) rotate(-90)" font-size="8.3" text-anchor="middle" fill="#333" stroke="#333" stroke-width="0.2" textLength="26.6" lengthAdjust="spacingAndGlyphs">-log<tspan font-size="5.6" dy="1.8">10</tspan><tspan dy="-1.8">(</tspan><tspan font-style="italic">P</tspan>)</text>
<line x1="285.00" y1="210.22" x2="495.00" y2="210.22" stroke="#b8b8b8" stroke-width="0.75" stroke-dasharray="1.5,2.2" />
<rect x="290.90" y="227.80" width="9.70" height="2.40" fill="#357ebd"/>
<rect x="299.40" y="227.56" width="27.20" height="2.64" fill="#357ebd"/>
<rect x="326.00" y="220.40" width="95.00" height="9.20" fill="#357ebd"/>
<rect x="420.40" y="228.15" width="66.20" height="2.05" fill="#357ebd"/>
<path d="M292.5 228.1h0M299.2 227.2h0M299.4 226.8h0M298.7 227.2h0M292.9 227.6h0M296.7 226.9h0M299.2 225.0h0M297.7 224.9h0M295.8 227.7h0M292.6 227.2h0M293.8 227.9h0M293.5 228.1h0M294.9 225.9h0M295.9 226.9h0M293.7 228.1h0M297.3 227.8h0M293.4 225.1h0M298.9 226.2h0M295.6 227.0h0M298.4 225.1h0M291.6 227.3h0M297.4 226.8h0M291.8 227.6h0M295.4 227.4h0M297.4 227.6h0M292.7 227.4h0M298.1 227.0h0M296.9 227.8h0M293.6 224.1h0M293.7 227.5h0M292.8 226.7h0M295.9 228.1h0M299.8 227.6h0M292.1 228.1h0M292.5 227.6h0M293.5 225.2h0M298.8 227.4h0M297.2 225.7h0M294.9 226.6h0M299.5 224.4h0M296.8 226.5h0M292.1 227.3h0M296.2 227.7h0M296.9 224.1h0M299.1 227.3h0M295.9 227.9h0M295.5 225.5h0M291.8 227.3h0M292.1 228.0h0M298.6 226.7h0M295.4 227.4h0M297.9 226.5h0M296.7 227.1h0M292.1 228.0h0M298.5 227.5h0M294.7 226.5h0M293.6 226.5h0M299.9 226.1h0M293.4 226.1h0M292.4 225.0h0M299.2 227.0h0M297.3 227.4h0M293.8 227.9h0M294.2 226.8h0M296.9 227.5h0M297.7 227.0h0M292.1 226.6h0M297.4 225.0h0M293.7 227.3h0M294.3 226.3h0M293.9 225.7h0M299.4 228.0h0M291.8 226.8h0M292.8 227.6h0M299.9 228.1h0M294.5 226.0h0M293.2 227.7h0M295.7 227.4h0M298.4 227.4h0M293.0 227.2h0M298.6 226.6h0M296.6 227.5h0M292.2 225.5h0M299.7 225.2h0M296.5 226.0h0M294.4 226.4h0M298.9 227.9h0M296.7 227.6h0M291.5 227.8h0M295.9 226.8h0M299.9 226.0h0M299.8 227.0h0M292.8 227.6h0M292.2 228.1h0M295.3 226.7h0M298.7 228.0h0M296.4 228.0h0M297.2 225.8h0M295.7 227.5h0M298.4 227.8h0M298.2 227.3h0M297.4 226.9h0M293.2 226.4h0M293.8 226.6h0M299.9 226.3h0M294.3 226.1h0M299.2 227.7h0M299.5 227.9h0M296.8 227.1h0M292.0 227.8h0M299.4 228.1h0M291.6 227.1h0M293.8 228.1h0M294.0 227.3h0M295.0 226.9h0M292.3 227.3h0M294.4 227.2h0M297.6 227.9h0M297.3 226.0h0M298.4 226.2h0M292.2 226.6h0M296.4 226.4h0M295.5 227.9h0M291.7 225.0h0M294.2 227.6h0M294.4 227.0h0M298.3 225.4h0M295.8 227.8h0M297.2 226.4h0M298.1 226.9h0M294.9 226.2h0M291.8 227.3h0M295.4 227.1h0M297.2 227.7h0M294.5 225.0h0M296.4 224.8h0M291.6 227.4h0M291.8 224.1h0M299.6 227.1h0M296.8 227.9h0M297.6 226.8h0M294.8 224.4h0M297.6 228.1h0M295.5 227.3h0M299.7 226.2h0M293.4 225.7h0M294.8 227.4h0M299.2 227.4h0M299.7 224.7h0M291.9 227.8h0M297.3 227.2h0M295.6 226.9h0M298.4 224.9h0M296.5 227.8h0M292.3 227.9h0M293.2 226.1h0M296.0 225.9h0M293.0 225.6h0M295.1 225.8h0M295.6 225.2h0M296.1 228.1h0M298.9 228.0h0M297.2 227.5h0M299.7 227.4h0M292.5 226.3h0M297.3 226.8h0M292.5 227.0h0M299.5 227.9h0M294.2 227.8h0M294.4 226.8h0M296.6 224.2h0M292.7 227.3h0M292.2 226.1h0M294.3 227.6h0M297.2 227.5h0M293.4 226.1h0M298.9 227.7h0M292.5 224.6h0M293.8 224.4h0M294.2 226.1h0M298.8 227.7h0M294.4 224.8h0M294.2 224.7h0M292.4 224.6h0M293.3 227.2h0M293.3 228.0h0M292.7 227.3h0M293.0 227.8h0M297.3 228.1h0M293.4 225.5h0M296.1 226.8h0M295.8 227.1h0M291.6 226.7h0M299.4 227.8h0M294.8 225.1h0M299.7 224.4h0M300.0 226.6h0M298.8 226.9h0M297.3 226.9h0M294.3 226.6h0M299.3 227.6h0M294.9 227.3h0M296.5 228.0h0M295.6 226.5h0M298.3 227.9h0M292.6 225.5h0M292.0 227.7h0M299.6 227.6h0M296.4 227.3h0M294.4 227.6h0M299.5 228.0h0M299.1 226.2h0M296.9 228.1h0M292.4 224.3h0M295.3 225.7h0M291.7 227.8h0M299.4 227.5h0M299.7 227.9h0M296.2 227.9h0M295.5 228.0h0M299.1 227.3h0M294.4 226.0h0M292.1 228.1h0M296.7 226.3h0M297.6 224.6h0M296.5 225.9h0M299.4 225.2h0M299.4 226.3h0M291.8 226.1h0M298.2 226.9h0M296.0 224.4h0M299.6 226.8h0M298.3 226.8h0M294.7 225.9h0M295.1 227.5h0M296.3 226.6h0M297.1 227.1h0M295.8 225.3h0M292.7 227.5h0M292.2 227.8h0M319.0 227.7h0M313.7 227.9h0M311.2 227.3h0M321.7 225.3h0M308.7 227.0h0M317.1 226.0h0M320.3 225.0h0M324.1 227.8h0M300.5 226.9h0M322.9 224.8h0M321.9 224.5h0M315.3 225.3h0M305.0 226.1h0M322.4 227.6h0M301.0 227.4h0M302.5 227.9h0M306.4 226.5h0M319.7 224.9h0M310.8 227.0h0M304.0 223.7h0M302.0 227.3h0M303.9 227.8h0M325.8 226.6h0M307.4 227.4h0M313.2 225.4h0M300.7 226.5h0M316.6 227.1h0M303.4 227.8h0M301.6 225.6h0M324.5 227.4h0M306.3 227.0h0M302.6 225.4h0M321.1 225.3h0M311.2 224.7h0M322.5 227.8h0M320.7 226.5h0M304.9 227.7h0M310.8 227.7h0M301.7 225.0h0M325.5 224.0h0M324.1 223.6h0M309.0 226.3h0M323.4 226.4h0M322.5 227.9h0M323.4 225.5h0M324.2 224.5h0M317.8 227.6h0M318.9 226.5h0M308.7 226.3h0M325.3 225.2h0M320.3 227.4h0M302.4 227.9h0M316.0 224.8h0M312.3 224.7h0M318.7 227.6h0M304.6 227.2h0M313.0 227.1h0M313.2 226.4h0M312.6 227.7h0M301.3 227.6h0M314.6 227.3h0M317.5 226.6h0M307.1 227.4h0M306.5 227.8h0M323.3 226.8h0M323.2 227.7h0M318.3 227.1h0M325.1 227.6h0M301.3 226.0h0M321.0 227.0h0M308.7 227.1h0M320.5 227.9h0M320.7 224.6h0M302.8 224.7h0M314.1 227.6h0M324.3 227.7h0M314.8 223.7h0M318.2 226.9h0M312.8 226.6h0M313.2 226.1h0M308.0 227.7h0M319.0 224.6h0M300.9 227.7h0M318.1 226.7h0M302.8 227.3h0M303.9 227.5h0M312.4 226.4h0M308.4 227.8h0M323.7 226.2h0M302.6 227.9h0M318.9 227.7h0M311.0 225.4h0M305.4 227.8h0M301.8 226.4h0M305.2 227.7h0M302.3 227.9h0M308.8 224.0h0M320.8 227.9h0M319.0 226.6h0M304.2 224.1h0M323.2 224.1h0M311.6 226.7h0M317.4 227.5h0M312.5 227.5h0M324.4 224.7h0M320.3 227.8h0M308.8 225.0h0M311.0 225.3h0M312.7 226.8h0M313.2 224.9h0M326.0 225.7h0M320.7 227.1h0M316.3 225.4h0M309.9 227.0h0M315.5 225.0h0M302.2 227.6h0M322.8 225.9h0M313.0 225.7h0M315.3 225.4h0M314.9 226.7h0M311.7 227.9h0M300.9 227.8h0M302.2 224.6h0M307.3 225.4h0M309.0 227.9h0M320.8 225.4h0M302.4 227.9h0M323.8 228.0h0M304.9 224.6h0M302.9 227.6h0M312.4 225.5h0M305.5 224.7h0M306.0 225.8h0M309.5 225.7h0M324.9 227.1h0M322.2 227.9h0M309.2 227.4h0M312.1 225.6h0M321.0 225.6h0M312.2 223.6h0M301.5 225.8h0M316.9 227.2h0M320.7 224.7h0M308.5 227.7h0M322.0 226.2h0M310.1 225.5h0M306.6 224.5h0M311.0 224.1h0M325.0 225.1h0M324.6 227.8h0M304.0 227.2h0M321.2 226.2h0M303.8 226.6h0M321.5 226.9h0M310.0 225.7h0M314.7 227.1h0M317.7 227.9h0M317.4 224.0h0M308.3 226.6h0M301.5 226.4h0M305.8 226.0h0M315.6 226.1h0M319.1 226.2h0M311.3 226.4h0M309.5 224.5h0M322.3 226.7h0M320.0 226.3h0M319.6 227.2h0M321.2 227.5h0M315.8 227.4h0M322.4 226.1h0M319.9 227.6h0M301.3 225.1h0M316.9 227.5h0M302.9 224.9h0M312.9 227.5h0M319.6 226.9h0M303.2 227.6h0M322.0 224.6h0M313.3 227.7h0M307.1 227.6h0M325.6 227.6h0M306.6 225.8h0M324.7 227.3h0M303.6 225.4h0M317.1 225.2h0M308.9 227.5h0M314.8 227.3h0M312.1 227.4h0M301.2 225.3h0M314.4 227.4h0M319.2 227.9h0M331.0 219.3h0M332.0 220.7h0M333.3 219.4h0M395.7 219.4h0M328.2 218.8h0M365.2 218.9h0M404.6 218.8h0M416.3 220.1h0M347.9 219.4h0M381.3 218.7h0M411.9 218.6h0M390.7 219.6h0M405.8 218.4h0M339.2 219.8h0M350.1 218.9h0M356.1 220.3h0M376.6 218.6h0M387.2 218.7h0M326.1 219.0h0M362.8 219.6h0M348.7 218.6h0M404.2 218.5h0M375.8 220.5h0M359.4 220.1h0M352.0 220.0h0M333.0 220.9h0M415.6 220.9h0M390.3 219.5h0M384.8 220.5h0M410.4 219.6h0M357.6 218.7h0M353.7 220.2h0M334.1 219.9h0M330.6 220.4h0M347.1 219.5h0M407.5 220.3h0M337.1 220.1h0M362.5 221.0h0M347.9 219.9h0M370.7 219.6h0M386.4 219.4h0M400.3 219.9h0M350.2 218.8h0M387.8 219.7h0M341.3 219.4h0M413.5 219.4h0M354.1 219.9h0M331.5 219.2h0M413.2 218.3h0M338.9 219.2h0M347.0 218.3h0M374.7 219.9h0M328.2 220.2h0M378.1 220.0h0M348.7 220.0h0M420.9 220.7h0M361.3 218.3h0M360.3 220.3h0M365.1 219.9h0M390.7 219.4h0M346.7 220.3h0M370.6 219.7h0M358.4 219.7h0M383.9 220.5h0M392.7 219.7h0M406.4 220.3h0M399.5 218.5h0M414.1 219.5h0M351.4 220.3h0M342.5 219.9h0M331.2 220.1h0M400.2 220.2h0M376.7 220.4h0M345.8 219.5h0M378.9 219.0h0M413.9 220.8h0M379.3 218.3h0M356.4 220.2h0M375.9 220.2h0M379.1 220.4h0M407.6 220.9h0M373.2 220.3h0M404.7 218.9h0M415.7 218.5h0M369.0 218.4h0M409.9 220.3h0M331.1 219.1h0M392.8 218.8h0M343.7 219.1h0M363.3 219.6h0M349.1 219.0h0M412.9 218.3h0M345.0 218.8h0M373.1 220.0h0M372.1 220.8h0M371.9 218.5h0M337.3 219.9h0M334.7 220.3h0M393.1 218.9h0M417.4 220.9h0M360.0 218.6h0M370.3 219.0h0M403.4 218.6h0M372.7 219.3h0M403.8 219.3h0M337.3 218.2h0M366.6 219.3h0M364.6 220.2h0M358.9 219.7h0M336.3 218.2h0M365.7 220.1h0M356.8 220.8h0M333.1 218.5h0M349.1 218.8h0M337.0 218.7h0M419.0 219.1h0M410.0 220.7h0M368.3 220.4h0M397.0 220.0h0M381.1 219.9h0M333.2 220.0h0M383.4 220.7h0M399.0 219.6h0M384.4 219.0h0M348.4 218.6h0M382.5 219.0h0M347.2 220.2h0M411.0 218.6h0M419.3 219.2h0M366.7 220.1h0M412.4 220.6h0M406.1 219.9h0M385.7 218.2h0M377.0 218.4h0M412.0 219.0h0M386.7 218.4h0M403.8 218.7h0M331.8 219.0h0M390.4 219.9h0M353.6 219.4h0M326.8 218.7h0M335.8 220.9h0M344.2 220.0h0M387.4 218.4h0M399.2 220.4h0M398.4 218.5h0M332.0 220.0h0M417.1 220.2h0M327.7 220.1h0M336.0 218.8h0M364.1 220.1h0M358.9 218.9h0M396.6 219.2h0M361.6 218.4h0M352.4 220.3h0M327.4 219.7h0M353.5 220.0h0M349.1 219.5h0M387.9 220.8h0M339.1 219.6h0M384.7 218.3h0M338.8 218.8h0M365.2 218.2h0M346.4 219.4h0M401.5 220.9h0M411.2 218.5h0M334.9 219.8h0M375.3 218.6h0M374.2 220.8h0M371.6 219.4h0M442.7 228.1h0M483.5 228.2h0M443.5 227.8h0M455.9 228.1h0M435.1 227.7h0M422.5 227.1h0M459.3 224.4h0M464.2 228.4h0M469.6 227.6h0M471.5 227.6h0M461.8 226.5h0M423.4 227.2h0M445.7 224.4h0M472.4 225.7h0M423.5 227.6h0M474.3 226.6h0M472.1 228.3h0M445.7 228.4h0M430.7 228.3h0M460.0 228.3h0M422.2 228.3h0M438.5 227.1h0M475.7 227.3h0M428.6 228.0h0M430.8 227.9h0M463.1 228.0h0M441.3 228.2h0M479.3 227.5h0M422.8 227.9h0M464.4 226.0h0M446.7 228.4h0M439.4 226.7h0M442.2 227.6h0M469.3 226.9h0M421.2 228.3h0M479.8 228.0h0M481.8 227.8h0M437.1 227.0h0M425.8 227.9h0M457.8 228.3h0M448.2 226.4h0M456.5 226.8h0M429.9 228.4h0M444.5 227.9h0M439.1 225.0h0M457.5 227.6h0M433.4 227.1h0M450.5 226.4h0M459.2 227.3h0M428.3 228.0h0M425.6 226.2h0M425.2 227.0h0M471.7 227.6h0M466.7 228.2h0M421.0 228.3h0M440.9 228.4h0M481.0 227.0h0M429.3 228.1h0M443.8 226.2h0M460.7 227.8h0M476.1 228.4h0M447.3 228.0h0M427.5 227.5h0M471.7 228.1h0M485.7 227.6h0M472.0 227.7h0M469.4 228.3h0M483.2 227.6h0M454.3 228.1h0M464.4 227.1h0M448.2 228.2h0M423.7 225.7h0M450.2 227.7h0M436.0 228.3h0M469.1 227.3h0M475.6 225.6h0M426.7 227.2h0M431.4 227.9h0M473.9 224.6h0M431.9 225.8h0M477.2 227.9h0M458.4 225.5h0M468.6 228.2h0M451.7 225.8h0M469.2 228.2h0M460.1 227.4h0M440.0 226.5h0M438.7 227.4h0M422.3 226.6h0M472.3 227.6h0M473.3 228.3h0M481.2 227.5h0M456.4 228.0h0M469.5 226.2h0M454.3 225.9h0M479.1 227.3h0M431.2 227.6h0M447.8 228.4h0M442.8 228.4h0M438.6 228.3h0M446.0 227.9h0M474.8 226.4h0M472.4 228.0h0M458.7 227.1h0M460.6 227.9h0M441.1 227.0h0M461.0 228.1h0M439.4 228.2h0M435.8 227.8h0M434.8 227.8h0M458.8 224.8h0M462.2 226.4h0M428.4 228.3h0M455.9 228.1h0M481.9 225.9h0M484.7 228.2h0M483.2 227.4h0M458.4 228.1h0M421.1 226.0h0M434.7 225.2h0M448.2 226.3h0M435.3 227.1h0M446.4 228.4h0M441.8 228.1h0M470.2 226.7h0M448.2 228.2h0M430.6 228.3h0M485.0 228.2h0M437.0 228.3h0M421.3 227.8h0M441.7 227.7h0M454.4 227.0h0M434.2 225.9h0M471.6 227.6h0M466.8 224.1h0M460.8 226.4h0M441.7 227.4h0M466.4 227.6h0M464.2 227.0h0M424.8 227.1h0M424.4 228.2h0M444.3 228.3h0M453.7 227.6h0M455.8 228.2h0M460.8 224.9h0M432.6 227.5h0M465.6 227.7h0M469.6 227.6h0M485.4 227.0h0M442.7 226.4h0M484.0 227.9h0M480.3 227.6h0M422.0 227.2h0M440.7 225.3h0M480.1 228.2h0M459.8 227.7h0M425.0 226.1h0M457.4 227.8h0M459.0 227.2h0M456.5 228.1h0M466.0 228.2h0M425.2 227.8h0M471.8 227.6h0M444.7 227.1h0M435.2 227.9h0M443.8 226.5h0M421.9 228.1h0M439.7 227.7h0M463.1 228.0h0M441.5 228.2h0M482.5 224.3h0M448.9 228.1h0M438.7 228.2h0M473.7 228.2h0M475.0 226.1h0M423.9 227.4h0M454.6 226.8h0M456.0 226.8h0M479.8 228.3h0M477.1 227.9h0M470.9 227.4h0M422.2 227.5h0M460.8 227.3h0M424.3 227.2h0M443.7 227.0h0M426.9 228.1h0M446.6 228.1h0M422.9 227.7h0M472.6 226.8h0M461.3 228.2h0M460.8 224.7h0M428.6 225.7h0M442.7 228.4h0M450.0 228.0h0M481.7 227.8h0M434.5 226.6h0M423.6 227.8h0M483.2 227.5h0M430.0 227.2h0M466.6 228.1h0M423.9 225.0h0M431.5 228.0h0M442.0 227.9h0M476.4 227.2h0M462.1 228.3h0M481.4 227.5h0M477.3 225.7h0M472.6 227.7h0M435.8 227.8h0M437.2 227.4h0M425.0 226.7h0M448.2 226.6h0M471.0 227.7h0M456.7 228.2h0M456.2 227.8h0M483.2 226.2h0M454.9 226.8h0M478.4 226.9h0M421.9 226.8h0M469.4 227.9h0M456.0 227.8h0M444.8 227.2h0M478.0 224.4h0M453.4 227.2h0M426.1 228.3h0M432.2 228.4h0M478.8 225.2h0M466.5 227.8h0M448.4 228.0h0M421.7 227.6h0M468.5 227.6h0M452.0 228.3h0M471.0 226.8h0M426.7 226.1h0M461.1 227.7h0M435.1 227.5h0M474.9 227.7h0M468.0 227.9h0M442.9 228.2h0M435.5 226.4h0M446.1 228.1h0M468.7 227.7h0M439.6 228.3h0M428.1 227.2h0M460.3 226.5h0M439.5 228.3h0M452.8 227.1h0M447.5 228.0h0M426.1 227.8h0M438.3 228.0h0M485.6 226.5h0M439.1 228.4h0M438.1 228.2h0M435.5 227.4h0M479.3 227.1h0M425.7 228.4h0M431.0 226.9h0M433.9 227.7h0M457.9 228.2h0M432.0 225.9h0M482.3 226.6h0M478.8 228.0h0M430.7 226.3h0M447.5 226.8h0M421.6 226.0h0M437.4 226.8h0M480.8 227.8h0M485.5 227.7h0M459.9 227.0h0M469.1 228.2h0M473.1 227.6h0M480.5 227.7h0M434.7 228.3h0M429.0 227.7h0M423.8 225.5h0M446.0 228.4h0M460.1 227.3h0M454.8 227.4h0M435.0 226.2h0M457.4 227.5h0M482.2 224.3h0M436.5 224.0h0M424.2 228.4h0M455.9 227.0h0M456.2 226.1h0M436.5 227.7h0M431.9 228.4h0M444.9 226.8h0M485.6 228.4h0M424.8 227.9h0M461.4 227.8h0M455.7 228.3h0M472.1 228.4h0M445.1 227.7h0M472.2 228.1h0M485.0 227.8h0M482.6 228.3h0M455.7 228.4h0M460.2 227.9h0M471.3 227.8h0M434.9 228.2h0M421.2 228.0h0M483.6 227.9h0M423.4 227.9h0M478.3 227.0h0M446.5 226.1h0M431.9 227.8h0M469.6 227.4h0M471.3 224.3h0M443.9 227.2h0M465.5 228.2h0M478.5 227.5h0M471.0 226.5h0M481.9 228.1h0M461.9 228.0h0M434.1 226.2h0M460.4 228.2h0M447.8 227.0h0M484.4 227.2h0M477.9 228.3h0M459.8 226.7h0M458.2 225.3h0M483.4 228.3h0M436.0 226.8h0M475.1 225.9h0M456.6 227.5h0M454.3 226.8h0M444.6 228.4h0M451.9 227.1h0M445.0 225.5h0M479.4 224.3h0M436.7 228.4h0M467.1 228.2h0M448.8 227.0h0M476.7 228.4h0M426.3 227.9h0M425.2 227.3h0M448.7 228.2h0M470.7 228.0h0M434.7 227.5h0M482.9 228.1h0M430.8 228.2h0M484.3 228.0h0M448.0 226.6h0M463.6 226.4h0M471.3 226.3h0M457.2 225.2h0M455.2 224.9h0M471.1 228.2h0M442.4 228.0h0M476.8 228.0h0M477.4 228.1h0M442.2 228.4h0M431.8 225.7h0M476.6 226.4h0M433.0 226.7h0M479.4 228.3h0M463.7 228.3h0M479.4 227.9h0M477.9 227.8h0M466.3 225.7h0M446.9 226.2h0M437.3 227.1h0M470.7 227.6h0M429.6 228.3h0M480.4 228.0h0M448.0 227.8h0M434.0 227.5h0M429.4 228.2h0M308.7 221.9h0M305.7 215.6h0M302.1 220.5h0M303.3 217.1h0M304.7 216.7h0M301.1 216.5h0M303.4 216.7h0M300.4 220.4h0M308.0 215.2h0M306.6 219.6h0M306.9 220.5h0M303.4 216.7h0M307.4 219.9h0M304.0 217.6h0M305.5 215.1h0M301.2 218.7h0M305.4 219.9h0M300.7 220.3h0M300.5 216.3h0M300.2 215.4h0M305.9 220.0h0M307.9 221.0h0M308.0 215.7h0M304.8 215.4h0M306.0 216.0h0M308.2 220.4h0M307.0 221.5h0M302.5 221.3h0M318.5 221.1h0M320.2 217.7h0M311.6 221.8h0M319.3 213.4h0M317.5 215.6h0M323.3 214.7h0M311.3 222.9h0M322.2 213.0h0M319.6 212.3h0M322.0 215.9h0M314.0 218.3h0M321.9 218.5h0M312.2 218.8h0M315.8 221.8h0M322.8 220.8h0M319.0 220.7h0M315.5 218.7h0M323.6 212.5h0M321.1 218.1h0M311.7 220.4h0M320.4 213.6h0M323.9 219.5h0M321.1 217.0h0M313.0 214.3h0M321.4 221.6h0M315.1 220.9h0M312.6 214.9h0M321.1 219.5h0M313.2 222.6h0M319.6 220.7h0M323.8 221.1h0M318.7 214.8h0M316.0 221.2h0M323.8 222.6h0M319.1 214.8h0M317.4 219.6h0M313.1 218.5h0M311.7 214.8h0M317.8 222.0h0M321.9 217.4h0M313.7 216.8h0M314.4 222.9h0M311.2 216.3h0M314.6 217.6h0M318.8 216.5h0" stroke="#357ebd" stroke-width="1.90" stroke-linecap="round" fill="none"/>
<rect x="328.0" y="222.8" width="3.1" height="0.9" fill="#fff" fill-opacity="0.45"/>
<rect x="335.0" y="222.8" width="4.9" height="0.9" fill="#fff" fill-opacity="0.45"/>
<rect x="342.2" y="222.8" width="5.7" height="0.9" fill="#fff" fill-opacity="0.45"/>
<rect x="349.7" y="222.8" width="4.6" height="0.9" fill="#fff" fill-opacity="0.45"/>
<rect x="355.7" y="222.8" width="8.5" height="0.9" fill="#fff" fill-opacity="0.45"/>
<rect x="367.5" y="222.8" width="5.4" height="0.9" fill="#fff" fill-opacity="0.45"/>
<rect x="376.5" y="222.8" width="3.3" height="0.9" fill="#fff" fill-opacity="0.45"/>
<rect x="382.8" y="222.8" width="7.7" height="0.9" fill="#fff" fill-opacity="0.45"/>
<rect x="394.2" y="222.8" width="7.2" height="0.9" fill="#fff" fill-opacity="0.45"/>
<rect x="402.7" y="222.8" width="7.0" height="0.9" fill="#fff" fill-opacity="0.45"/>
<rect x="412.1" y="222.8" width="5.5" height="0.9" fill="#fff" fill-opacity="0.45"/>
<rect x="328.0" y="225.5" width="7.0" height="0.9" fill="#fff" fill-opacity="0.2"/>
<rect x="337.4" y="225.5" width="4.1" height="0.9" fill="#fff" fill-opacity="0.2"/>
<rect x="345.2" y="225.5" width="6.1" height="0.9" fill="#fff" fill-opacity="0.2"/>
<rect x="353.2" y="225.5" width="5.6" height="0.9" fill="#fff" fill-opacity="0.2"/>
<rect x="361.8" y="225.5" width="4.7" height="0.9" fill="#fff" fill-opacity="0.2"/>
<rect x="368.9" y="225.5" width="7.3" height="0.9" fill="#fff" fill-opacity="0.2"/>
<rect x="379.2" y="225.5" width="6.2" height="0.9" fill="#fff" fill-opacity="0.2"/>
<rect x="388.3" y="225.5" width="5.0" height="0.9" fill="#fff" fill-opacity="0.2"/>
<rect x="397.3" y="225.5" width="8.9" height="0.9" fill="#fff" fill-opacity="0.2"/>
<rect x="409.7" y="225.5" width="7.1" height="0.9" fill="#fff" fill-opacity="0.2"/>
<rect x="418.0" y="225.5" width="1.0" height="0.9" fill="#fff" fill-opacity="0.2"/>
<path d="M367.7 211.0h0M368.8 212.2h0M367.1 213.4h0M370.0 209.9h0M376.3 205.3h0M364.0 213.0h0M362.0 214.0h0" stroke="#3a4a8a" stroke-width="1.90" stroke-linecap="round" fill="none"/>
<path d="M370.0 216.5h0M370.8 218.0h0M371.5 217.3h0M372.2 215.4h0M373.0 215.1h0M373.8 216.8h0M374.5 218.1h0M375.2 217.0h0M376.0 215.2h0M376.8 215.3h0M377.5 217.2h0M378.2 218.1h0M379.0 216.7h0M379.8 215.0h0M380.5 215.5h0M381.2 217.5h0M382.0 218.0h0M382.8 216.3h0M383.5 214.9h0M384.2 215.8h0M385.0 217.7h0M385.8 217.8h0M386.5 216.0h0M387.2 214.9h0M371.7 215.1h0M382.1 215.1h0M366.0 217.5h0M368.0 218.5h0M408.0 209.3h0M410.4 210.5h0M403.0 214.0h0M405.0 216.0h0" stroke="#5cb85c" stroke-width="1.90" stroke-linecap="round" fill="none"/>
<path d="M359.0 210.5h0M360.8 211.0h0M397.1 205.3h0M407.5 204.1h0M412.7 205.3h0M411.0 212.0h0M413.0 214.0h0M415.0 216.0h0M409.0 215.5h0" stroke="#46b8da" stroke-width="1.90" stroke-linecap="round" fill="none"/>
<path d="M362.5 200.1h0M364.2 199.5h0M366.0 200.1h0M367.7 199.5h0M369.4 199.0h0M368.8 202.4h0M370.6 200.7h0M372.3 202.4h0M373.5 203.0h0M374.0 199.5h0M375.2 197.2h0M375.8 199.0h0M375.8 201.3h0M381.0 196.1h0M381.5 197.8h0M382.1 199.5h0M383.3 200.7h0M383.8 202.4h0M372.3 208.2h0M374.0 208.8h0M375.8 207.6h0M377.5 207.0h0M379.8 204.1h0M381.0 205.9h0M382.7 205.3h0M385.0 208.8h0M390.8 207.6h0M393.1 208.2h0M394.8 208.8h0M393.1 200.7h0M394.8 199.5h0M397.7 199.5h0M400.0 198.4h0M401.7 196.7h0M402.3 194.9h0" stroke="#d43f3a" stroke-width="2.10" stroke-linecap="round" fill="none"/>
<path d="M388.90 194.00L390.43 195.80L388.90 197.60L387.37 195.80Z" fill="#2e2860"/>
<text x="392.30" y="195.70" font-size="6.3" text-anchor="start" fill="#222" stroke="#222" stroke-width="0.25" font-weight="normal" font-style="normal"  textLength="32.4" lengthAdjust="spacingAndGlyphs">rs12276986</text>
<line x1="283.50" y1="230.40" x2="495.00" y2="230.40" stroke="#222" stroke-width="1.3" />
<line x1="289.10" y1="230.40" x2="289.10" y2="233.40" stroke="#222" stroke-width="0.8" />
<line x1="327.56" y1="230.40" x2="327.56" y2="233.40" stroke="#222" stroke-width="0.8" />
<line x1="366.02" y1="230.40" x2="366.02" y2="233.40" stroke="#222" stroke-width="0.8" />
<line x1="404.48" y1="230.40" x2="404.48" y2="233.40" stroke="#222" stroke-width="0.8" />
<line x1="442.94" y1="230.40" x2="442.94" y2="233.40" stroke="#222" stroke-width="0.8" />
<line x1="481.40" y1="230.40" x2="481.40" y2="233.40" stroke="#222" stroke-width="0.8" />
<line x1="283.50" y1="245.00" x2="283.50" y2="288.10" stroke="#222" stroke-width="1.1" />
<line x1="280.30" y1="253.70" x2="283.50" y2="253.70" stroke="#222" stroke-width="0.8" />
<text x="277.70" y="256.00" font-size="6.4" text-anchor="end" fill="#333" stroke="#333" stroke-width="0.25" font-weight="normal" font-style="normal" >6</text>
<line x1="280.30" y1="264.30" x2="283.50" y2="264.30" stroke="#222" stroke-width="0.8" />
<text x="277.70" y="266.60" font-size="6.4" text-anchor="end" fill="#333" stroke="#333" stroke-width="0.25" font-weight="normal" font-style="normal" >4</text>
<line x1="280.30" y1="274.90" x2="283.50" y2="274.90" stroke="#222" stroke-width="0.8" />
<text x="277.70" y="277.20" font-size="6.4" text-anchor="end" fill="#333" stroke="#333" stroke-width="0.25" font-weight="normal" font-style="normal" >2</text>
<line x1="280.30" y1="285.50" x2="283.50" y2="285.50" stroke="#222" stroke-width="0.8" />
<text x="277.70" y="287.80" font-size="6.4" text-anchor="end" fill="#333" stroke="#333" stroke-width="0.25" font-weight="normal" font-style="normal" >0</text>
<text transform="translate(262.50,266.00) rotate(-90)" font-size="8.3" text-anchor="middle" fill="#333" stroke="#333" stroke-width="0.2" textLength="26.6" lengthAdjust="spacingAndGlyphs">-log<tspan font-size="5.6" dy="1.8">10</tspan><tspan dy="-1.8">(</tspan><tspan font-style="italic">P</tspan>)</text>
<line x1="285.00" y1="246.81" x2="495.00" y2="246.81" stroke="#b8b8b8" stroke-width="0.75" stroke-dasharray="1.5,2.2" />
<rect x="290.90" y="283.02" width="195.70" height="3.48" fill="#357ebd"/>
<path d="M472.3 282.7h0M420.7 282.9h0M485.8 283.5h0M336.8 282.8h0M416.7 283.3h0M477.4 281.5h0M484.0 281.3h0M416.9 279.3h0M397.9 281.6h0M431.0 282.3h0M358.0 278.1h0M448.8 282.0h0M380.2 283.2h0M414.0 279.0h0M342.0 280.3h0M367.6 283.4h0M457.7 279.4h0M473.5 282.4h0M293.8 280.3h0M295.6 279.7h0M365.1 281.5h0M452.1 278.5h0M349.3 281.7h0M398.1 283.1h0M322.2 283.4h0M298.0 283.0h0M304.6 282.0h0M417.3 282.0h0M354.1 280.4h0M465.2 282.4h0M340.7 279.5h0M383.4 280.3h0M335.3 283.6h0M348.7 280.5h0M313.4 283.6h0M475.2 283.5h0M323.1 281.0h0M436.5 282.0h0M306.2 283.6h0M399.5 283.5h0M292.8 279.1h0M349.7 281.5h0M439.8 280.4h0M428.9 279.8h0M346.6 282.3h0M323.2 275.9h0M373.6 283.1h0M339.2 282.9h0M305.5 279.2h0M349.1 281.4h0M343.0 279.8h0M328.6 281.1h0M343.3 277.2h0M334.2 280.2h0M338.5 278.0h0M454.8 281.3h0M318.5 283.3h0M318.6 283.3h0M468.9 283.1h0M414.9 282.4h0M348.4 282.1h0M322.1 275.8h0M447.0 281.1h0M364.5 282.9h0M468.9 282.1h0M360.9 283.3h0M361.0 282.7h0M351.8 282.5h0M333.9 283.6h0M330.0 282.5h0M405.4 282.8h0M419.4 283.3h0M321.2 275.8h0M449.9 282.9h0M452.1 282.3h0M383.5 281.5h0M352.9 280.0h0M427.4 281.7h0M312.6 283.5h0M376.2 283.5h0M472.1 281.5h0M357.8 282.8h0M393.3 281.3h0M362.8 282.6h0M341.6 279.6h0M467.4 282.2h0M370.2 280.7h0M309.0 283.1h0M390.5 283.1h0M296.5 283.6h0M400.4 283.5h0M353.2 276.9h0M440.2 282.7h0M451.5 281.1h0M442.9 278.5h0M478.3 282.0h0M478.3 283.3h0M427.5 282.3h0M485.4 283.0h0M455.1 280.6h0M400.8 281.4h0M322.3 282.3h0M327.8 282.7h0M451.1 283.4h0M291.6 283.3h0M317.5 282.8h0M348.0 283.6h0M358.6 281.5h0M448.9 281.0h0M356.5 276.4h0M394.4 282.7h0M428.4 279.9h0M362.4 281.3h0M338.3 283.0h0M436.6 283.3h0M295.6 277.5h0M366.2 278.7h0M377.1 281.2h0M420.1 283.2h0M333.5 281.1h0M386.0 280.0h0M417.9 283.4h0M332.8 283.2h0M367.6 281.0h0M333.4 276.6h0M302.9 282.4h0M384.4 280.2h0M307.1 281.2h0M435.7 283.4h0M438.6 282.5h0M402.6 283.0h0M437.2 279.7h0M406.9 280.6h0M426.0 277.0h0M381.1 281.1h0M402.5 279.2h0M436.9 278.3h0M446.2 281.9h0M480.9 282.0h0M472.9 278.5h0M331.4 282.2h0M410.8 282.9h0M464.6 282.6h0M342.2 279.5h0M302.4 282.0h0M412.6 280.8h0M301.5 283.4h0M469.7 279.4h0M418.7 280.7h0M447.4 283.3h0M347.5 283.5h0M465.7 282.6h0M434.4 282.4h0M358.3 281.2h0M440.1 280.0h0M332.5 283.6h0M457.0 280.3h0M321.2 281.0h0M424.2 282.9h0M466.8 283.5h0M345.2 283.0h0M339.5 282.5h0M438.5 278.2h0M387.4 281.6h0M362.9 277.1h0M468.6 282.6h0M298.3 278.4h0M385.8 280.4h0M334.9 279.6h0M437.9 276.4h0M388.8 283.6h0M365.8 282.4h0M370.6 283.6h0M369.1 282.6h0M466.5 283.2h0M324.5 280.7h0M459.3 280.3h0M305.2 282.9h0M399.5 276.8h0M376.8 283.2h0M292.9 278.3h0M441.8 283.1h0M364.0 278.0h0M332.7 281.0h0M477.0 279.9h0M418.6 279.2h0M475.2 283.3h0M364.6 280.2h0M393.8 277.6h0M442.2 282.2h0M393.8 280.4h0M301.0 283.2h0M307.6 283.1h0M344.6 281.9h0M365.1 281.1h0M313.0 280.9h0M378.1 279.4h0M327.4 283.3h0M384.0 278.6h0M397.0 278.8h0M351.8 280.0h0M366.0 280.5h0M379.4 280.9h0M465.4 282.6h0M391.2 283.1h0M452.3 279.5h0M415.0 279.3h0M413.1 279.8h0M435.3 278.4h0M331.2 282.8h0M388.9 283.5h0M309.0 282.2h0M403.9 282.5h0M396.6 279.6h0M336.1 282.5h0M471.2 283.1h0M307.1 282.7h0M304.0 279.2h0M333.3 275.8h0M451.7 283.2h0M358.5 275.7h0M481.7 280.3h0M483.7 276.9h0M351.4 281.1h0M355.3 280.4h0M477.7 282.7h0M452.3 283.2h0M296.2 283.6h0M330.5 283.1h0M296.1 282.0h0M327.0 282.4h0M333.7 282.0h0M354.6 283.2h0M308.0 277.2h0M380.4 281.0h0M334.5 277.7h0M336.7 282.3h0M466.0 282.7h0M312.7 279.9h0M443.8 282.4h0M336.9 281.0h0M300.4 281.4h0M323.4 282.9h0M298.8 281.2h0M376.8 282.1h0M402.0 275.9h0M374.8 279.6h0M408.5 280.3h0M462.0 278.6h0M455.4 283.2h0M395.8 283.0h0M437.2 283.3h0M358.7 282.9h0M312.0 280.8h0M449.3 282.0h0M401.3 281.5h0M463.5 281.7h0M355.3 281.9h0M476.2 282.6h0M307.7 283.4h0M348.0 280.2h0M383.4 278.5h0M426.9 282.1h0M471.0 279.3h0M377.9 282.1h0M370.3 281.7h0M358.6 279.5h0M368.7 281.7h0M406.4 281.3h0M383.7 282.5h0M346.9 282.4h0M473.0 282.2h0M334.0 282.7h0M357.8 282.7h0M462.3 282.6h0M315.8 281.5h0M397.6 278.2h0M359.0 281.8h0M472.7 283.1h0M380.9 281.1h0M410.9 282.9h0M340.7 283.3h0M406.0 283.0h0M402.5 282.2h0M472.0 277.4h0M473.6 280.6h0M322.6 282.0h0M431.1 283.4h0M330.8 280.9h0M405.2 275.8h0M391.3 276.4h0M394.5 282.8h0M324.2 279.9h0M299.5 283.3h0M478.8 280.6h0M372.6 283.6h0M483.5 282.8h0M482.4 277.4h0M338.7 282.9h0M426.8 278.9h0M446.2 283.5h0M446.9 279.8h0M374.5 281.5h0M342.6 282.3h0M424.4 282.2h0M450.4 280.7h0M424.5 283.5h0M356.9 277.2h0M464.1 277.9h0M424.5 278.0h0M337.4 283.3h0M357.0 283.3h0M361.5 280.9h0M321.6 281.7h0M372.1 278.0h0M395.7 280.2h0M319.6 277.7h0M436.4 283.6h0M360.8 283.1h0M383.0 282.3h0M433.4 280.4h0M331.9 275.7h0M417.3 282.2h0M355.6 283.2h0M294.9 280.1h0M365.0 282.6h0M400.2 283.1h0M343.5 282.1h0M331.7 279.4h0M383.7 278.7h0M304.0 283.6h0M308.9 283.4h0M413.3 278.8h0M396.1 277.9h0M331.2 278.4h0M455.2 281.4h0M304.2 279.4h0M459.9 283.4h0M382.2 282.5h0M343.6 283.1h0M408.8 283.3h0M378.4 281.9h0M304.9 283.5h0M439.4 281.8h0M394.0 283.2h0M310.9 282.5h0M296.9 283.5h0M456.2 282.1h0M423.4 282.6h0M323.6 277.9h0M376.8 283.2h0M399.2 282.3h0M461.8 281.8h0M331.4 279.9h0M403.9 283.3h0M408.4 282.4h0M352.9 279.0h0M415.6 282.8h0M341.5 280.8h0M297.9 276.7h0M372.7 283.2h0M441.2 280.7h0M429.2 278.6h0M472.9 279.9h0M417.7 282.0h0M438.0 283.0h0M430.3 277.4h0M422.9 281.6h0M346.2 281.9h0M460.8 282.3h0M347.9 278.2h0M366.6 283.1h0M454.8 283.0h0M465.6 280.2h0M305.9 279.1h0M447.2 282.4h0M328.8 277.3h0M348.6 277.8h0M330.4 281.9h0M377.6 282.5h0M292.7 282.9h0M466.1 283.3h0M423.5 281.6h0M446.5 282.9h0M328.6 280.8h0M444.1 283.6h0M344.0 283.3h0M379.4 279.6h0M442.3 282.5h0M463.0 276.6h0M432.1 277.6h0M457.0 281.5h0M406.7 282.4h0M408.3 282.4h0M327.0 282.6h0M473.2 279.6h0M399.5 282.9h0M445.6 279.4h0M459.2 282.8h0M337.9 278.0h0M316.1 281.7h0M299.8 280.0h0M445.4 282.8h0M474.7 281.1h0M469.7 283.2h0M373.1 282.8h0M309.0 283.5h0M368.5 283.4h0M419.6 283.1h0M309.2 283.5h0M405.5 283.6h0M350.7 281.9h0M340.3 283.0h0M454.3 282.3h0M477.4 279.8h0M399.6 281.1h0M399.4 281.9h0M296.2 280.1h0M473.0 282.1h0M452.6 283.0h0M368.7 283.1h0M414.4 283.6h0M361.1 282.9h0M408.8 282.2h0M426.7 276.2h0M445.6 279.9h0M301.2 281.9h0M343.0 279.8h0M424.8 278.8h0M412.3 281.2h0M347.8 282.6h0M340.0 282.3h0M429.6 276.2h0M297.3 281.1h0M323.2 280.1h0M454.4 281.2h0M475.4 277.4h0M407.5 280.6h0M354.3 280.7h0M292.2 282.6h0M298.3 278.7h0M367.9 279.8h0M318.0 283.4h0M384.1 283.4h0M314.1 283.3h0M434.8 283.3h0M297.2 282.7h0M453.4 280.4h0M300.4 281.7h0M295.8 282.0h0M348.2 281.7h0M311.5 282.2h0M360.8 280.8h0M334.1 279.5h0M364.3 281.5h0M319.6 281.1h0M377.0 282.7h0M402.2 283.1h0M410.5 282.2h0M452.7 283.3h0M376.2 282.7h0M464.2 280.7h0M470.8 283.5h0M432.1 283.1h0M313.4 283.5h0M411.0 282.8h0M418.2 283.1h0M296.4 283.5h0M351.6 283.5h0M405.4 283.3h0M477.1 282.2h0M415.5 283.2h0M470.6 279.5h0M480.6 282.2h0M453.9 281.2h0M376.6 283.6h0M332.7 283.0h0M472.5 278.8h0M401.2 281.2h0M406.5 282.4h0M470.1 278.7h0M345.4 281.6h0M316.5 278.1h0M432.0 278.0h0M422.5 280.0h0M451.9 282.8h0M327.1 281.1h0M353.9 280.6h0M319.6 282.9h0M412.5 282.0h0M300.0 282.2h0M362.1 283.2h0M365.0 281.7h0M430.1 279.3h0M409.1 281.1h0M297.7 283.4h0M316.9 283.5h0M365.9 282.9h0M462.4 282.9h0M339.0 280.1h0M444.8 282.3h0M339.8 278.1h0M296.0 283.6h0M296.7 282.8h0M320.6 279.0h0M351.1 283.2h0M456.8 280.6h0M454.9 283.5h0M303.2 281.7h0M465.8 280.4h0M417.3 283.5h0M468.6 278.5h0M347.8 283.4h0M459.1 283.5h0M302.2 283.1h0M322.4 281.2h0M321.5 283.3h0M348.1 282.6h0M479.4 281.8h0M360.6 283.5h0M389.5 283.6h0M319.1 282.2h0M326.0 282.6h0M470.5 283.1h0M463.1 283.1h0M449.8 281.2h0M394.1 283.1h0M360.8 278.5h0M379.9 283.6h0M459.0 282.0h0M367.8 283.2h0M456.9 282.7h0M475.5 283.2h0M326.3 283.2h0M410.8 281.4h0M436.7 282.3h0M325.6 282.5h0M448.5 283.3h0M447.2 283.4h0M461.4 276.8h0M467.6 281.1h0M394.2 280.6h0M408.2 283.4h0M342.7 280.0h0M330.1 283.2h0M388.8 280.4h0M304.2 281.8h0M352.5 282.8h0M300.1 276.8h0M362.6 283.6h0M445.8 283.1h0M482.8 281.6h0M352.4 281.3h0M455.5 281.3h0M340.5 282.1h0M316.1 281.7h0M407.0 279.3h0M472.1 281.5h0M387.7 279.6h0M348.0 283.2h0M336.5 279.4h0M417.4 279.3h0M302.8 276.5h0M306.6 283.4h0M325.2 281.5h0M427.7 283.6h0M427.7 283.0h0M460.3 281.0h0M309.6 280.4h0M472.3 281.8h0M479.1 281.5h0M475.6 281.8h0M359.5 281.5h0M405.4 282.1h0M341.3 281.2h0M315.2 283.3h0M414.8 279.1h0M324.4 281.1h0M416.4 283.1h0M293.2 281.6h0M342.2 278.9h0M364.8 282.6h0M395.1 283.3h0M293.8 280.5h0M376.6 282.5h0M339.5 283.1h0M295.1 283.1h0M336.1 283.0h0M436.7 282.4h0M388.0 283.5h0M475.0 282.5h0M482.7 282.7h0M302.6 278.1h0M318.3 283.2h0M474.0 283.2h0M484.0 282.3h0M315.6 283.3h0M321.8 279.3h0M330.4 280.2h0M340.9 279.3h0M466.6 282.4h0M331.1 280.9h0M428.8 283.4h0M322.2 275.9h0M339.8 281.3h0M380.6 283.4h0M299.1 278.8h0M469.0 279.7h0M444.0 281.8h0M342.4 283.5h0M421.4 282.2h0M467.3 282.1h0M401.9 279.3h0M417.7 276.3h0M387.2 279.0h0M397.6 282.2h0M349.8 281.9h0M336.0 283.6h0M393.4 281.2h0M408.5 282.9h0M313.6 281.1h0M319.2 280.7h0M446.6 276.2h0M369.6 281.4h0M454.0 280.2h0M447.4 282.9h0M465.9 283.1h0M311.4 283.6h0M296.7 283.5h0M362.7 277.4h0M409.5 281.9h0M475.8 275.5h0M309.8 278.2h0M419.8 281.8h0M306.9 282.9h0M408.9 278.5h0M291.6 281.5h0M402.4 276.9h0M298.2 280.2h0M364.9 283.2h0M334.6 282.9h0M394.4 277.8h0M345.0 278.0h0M332.5 280.5h0M338.2 277.7h0M446.9 278.0h0M331.7 282.1h0M349.3 280.7h0M298.8 282.5h0M343.2 278.5h0M428.8 281.5h0M380.2 283.2h0M380.7 282.8h0M364.5 281.4h0M388.0 281.7h0M428.2 281.2h0M406.7 282.4h0M459.4 282.9h0M363.8 278.3h0M361.5 282.3h0M320.5 281.2h0M307.1 283.4h0M389.5 281.0h0M460.8 281.9h0M350.4 283.4h0M423.6 278.7h0M468.0 276.1h0M433.2 277.4h0M338.3 282.0h0M372.5 282.6h0M390.9 280.3h0M362.6 279.2h0M410.7 277.9h0M420.4 277.1h0M438.7 283.1h0M302.2 282.7h0M420.6 278.8h0M310.4 280.9h0M321.2 281.1h0M401.0 278.1h0M469.9 281.1h0M482.1 276.3h0M361.8 283.1h0M366.8 283.5h0M405.9 283.4h0M378.3 283.1h0M315.5 281.9h0M355.5 282.6h0M332.7 282.7h0M325.3 283.1h0M359.0 281.4h0M386.3 283.6h0M332.3 283.3h0M348.2 283.1h0M352.6 283.4h0M312.6 282.6h0M379.6 277.5h0M361.6 282.9h0M448.5 281.5h0M432.3 283.2h0M407.2 282.5h0M370.9 282.6h0M439.8 282.9h0M302.3 283.6h0M447.0 278.8h0M353.5 278.7h0M356.0 280.8h0M415.3 283.6h0M431.3 277.8h0M295.1 283.3h0M390.7 283.4h0M459.7 282.2h0M453.5 278.2h0M460.1 283.6h0M302.6 279.0h0M358.2 282.7h0M376.6 277.5h0M460.9 280.3h0M292.1 277.6h0M385.6 278.7h0M371.5 283.2h0M348.6 282.2h0M325.5 281.5h0M407.5 280.6h0M450.8 283.4h0M436.6 282.0h0M406.0 283.1h0M393.9 281.1h0M295.1 279.4h0M447.1 283.2h0M430.6 277.1h0M349.3 277.8h0M326.0 282.9h0M419.4 277.0h0M375.8 281.9h0M302.6 282.8h0M385.4 282.7h0M365.1 283.0h0M470.4 283.2h0M345.8 281.2h0M481.4 278.2h0M377.4 280.1h0M358.2 281.7h0M297.8 279.5h0M478.3 282.0h0M434.0 283.4h0M360.5 281.8h0M381.4 282.5h0M415.8 282.1h0M437.6 283.5h0M339.4 283.2h0M340.1 283.4h0M371.7 276.9h0M427.7 282.5h0M321.5 280.5h0M341.6 275.8h0M406.0 280.5h0M349.9 276.9h0M391.8 278.3h0M392.5 283.4h0M395.8 279.8h0M429.3 283.4h0M454.9 282.7h0M389.3 283.0h0M389.7 281.6h0M463.0 282.7h0M448.9 282.9h0M450.5 282.3h0M407.8 281.3h0M329.7 283.0h0M320.5 281.7h0M417.4 282.3h0M354.9 283.0h0M473.2 276.6h0M391.8 282.9h0M455.5 282.4h0M371.6 283.0h0M367.7 281.0h0M468.3 283.2h0M450.0 278.8h0M387.4 282.4h0M320.9 280.7h0M340.3 280.4h0M303.5 279.8h0M379.6 277.4h0M479.0 280.7h0M440.7 280.8h0M323.4 276.5h0M294.9 280.6h0M312.7 282.9h0M411.3 278.9h0M304.7 282.8h0M430.8 283.4h0M328.1 278.0h0M328.2 282.1h0M418.2 283.5h0M355.0 283.6h0M379.2 281.4h0M321.3 283.6h0M382.4 276.6h0M299.1 283.5h0M335.0 283.2h0M393.0 279.1h0M338.9 282.6h0M427.6 283.0h0M386.5 283.1h0M338.0 279.6h0M340.1 279.5h0M433.6 283.0h0M295.6 278.0h0M403.4 283.0h0M380.5 281.9h0M485.4 283.4h0M396.1 282.6h0M455.6 280.5h0M318.4 283.0h0M406.6 280.5h0M359.8 279.1h0M460.5 276.8h0M343.1 282.9h0M434.7 282.8h0M414.3 281.4h0M471.0 283.3h0M393.6 283.6h0M379.3 282.6h0M475.9 283.6h0M452.8 280.8h0M325.5 280.0h0M438.3 281.6h0M304.5 283.6h0M391.6 282.4h0M325.9 278.2h0M484.9 283.4h0M436.5 282.2h0M297.9 280.7h0M412.7 281.8h0M328.3 280.2h0M396.9 281.8h0M454.9 280.6h0M348.0 283.4h0M473.4 281.5h0M345.3 278.3h0M357.5 281.4h0M301.5 276.4h0M472.7 279.8h0M378.8 277.8h0M373.8 283.6h0M320.1 282.9h0M407.1 281.6h0M462.5 280.8h0M421.3 282.7h0M418.4 283.4h0M462.1 280.7h0M405.5 283.6h0M390.0 275.6h0M398.9 282.0h0M413.0 280.9h0M306.9 282.8h0M353.4 283.5h0M325.7 280.1h0M337.0 282.0h0M314.7 281.6h0M393.9 283.2h0M361.6 277.7h0M325.4 283.4h0M460.7 277.0h0M318.7 281.2h0M452.0 282.0h0M385.1 282.9h0M422.7 279.9h0M387.1 282.4h0M421.7 282.6h0M320.1 282.4h0M296.6 283.3h0M350.5 283.2h0M402.9 282.7h0M426.1 275.6h0M438.5 283.4h0M395.4 280.8h0M351.5 283.3h0M469.9 275.7h0M312.9 283.4h0M427.0 282.8h0M319.1 281.1h0M442.6 282.2h0M464.9 282.3h0M297.8 281.7h0M353.4 283.6h0M390.1 282.9h0M405.3 282.9h0M347.5 283.3h0M325.9 282.0h0M443.1 277.2h0M483.2 279.6h0M333.5 280.1h0M476.3 281.6h0M302.9 281.2h0M352.4 282.3h0M319.3 279.8h0M377.5 283.3h0M385.8 283.4h0M309.8 282.8h0M384.4 280.8h0M336.0 283.2h0M444.2 281.6h0M467.3 281.1h0M304.9 282.4h0M478.1 280.5h0M360.7 280.2h0M442.4 282.7h0M418.7 281.4h0M391.8 280.9h0M420.1 281.8h0M435.4 281.6h0M470.5 280.8h0M394.5 279.6h0M464.6 277.4h0M432.8 277.4h0M410.3 282.4h0M398.0 279.8h0M343.0 281.3h0M462.6 282.1h0M456.4 283.3h0M467.0 279.9h0M445.9 283.6h0M352.0 283.0h0M429.5 282.8h0M310.4 281.6h0M468.4 281.1h0M337.4 278.9h0M456.7 283.3h0M419.7 277.9h0M412.1 281.1h0M483.7 280.5h0M310.1 282.7h0M440.0 283.5h0M337.6 283.3h0M299.7 279.8h0M471.1 279.4h0M446.0 283.2h0M361.3 283.4h0M380.9 276.2h0M417.0 282.8h0M347.0 281.8h0M297.0 283.0h0M362.8 278.1h0M306.2 278.0h0M390.5 283.2h0M355.5 283.3h0M464.6 280.5h0M386.1 283.5h0M372.9 282.2h0M379.4 278.8h0M484.6 281.7h0M408.7 279.7h0M327.0 281.6h0M427.0 281.7h0M478.6 282.5h0M434.2 282.9h0M482.4 277.8h0M480.9 282.2h0M395.8 283.1h0M434.0 283.5h0M336.5 281.6h0M419.4 282.8h0M364.8 276.2h0M477.2 281.8h0M383.4 282.6h0M394.2 281.3h0M470.0 276.8h0M459.6 280.2h0M422.7 282.8h0M313.8 282.5h0M465.3 279.9h0M345.9 279.1h0M320.1 282.8h0M399.2 283.1h0M317.2 279.2h0M416.9 282.5h0M388.7 278.3h0M383.7 282.0h0M426.5 283.1h0M291.6 282.0h0M342.8 280.3h0M418.2 282.5h0M445.0 283.0h0M434.9 281.3h0M305.1 282.4h0M365.3 280.0h0M365.9 280.2h0M337.8 280.1h0M485.8 283.0h0M344.5 283.1h0M319.8 282.6h0M346.7 282.9h0M306.8 281.5h0M294.0 282.7h0M341.8 278.4h0M312.6 281.5h0M426.8 283.2h0M356.9 278.5h0M297.2 282.4h0M452.9 283.3h0M442.0 283.3h0M363.5 283.2h0M451.1 280.5h0M368.3 280.7h0M351.2 283.1h0M424.8 282.2h0M432.6 282.1h0M340.7 280.2h0M435.6 280.5h0M357.4 280.4h0M393.3 282.7h0M352.0 283.5h0M330.3 282.4h0M455.7 282.3h0M305.1 282.5h0M319.0 280.5h0M461.8 282.1h0M420.4 280.9h0M470.7 277.7h0M425.1 277.1h0M457.6 282.6h0M432.9 280.6h0M398.8 283.5h0M437.1 280.0h0M318.4 282.6h0M406.9 283.0h0M474.8 281.5h0M315.6 279.3h0M463.5 283.4h0M305.6 279.2h0M437.2 281.7h0M413.8 278.4h0M367.1 282.6h0M392.8 282.6h0M403.5 278.5h0M437.9 282.3h0M341.2 282.3h0M400.9 283.3h0M392.3 280.8h0M427.6 279.2h0M323.9 280.0h0M374.6 279.7h0M346.1 278.0h0M303.3 280.8h0M482.8 282.9h0M389.8 283.4h0M484.5 275.6h0M345.0 281.7h0M397.6 281.5h0M329.9 280.6h0M383.2 282.9h0M391.3 282.0h0M383.1 283.2h0M323.3 281.1h0M442.3 282.6h0M430.5 279.4h0M427.6 281.1h0M331.4 277.6h0M450.4 282.2h0M318.9 279.7h0M306.8 282.3h0M388.3 283.5h0M353.1 282.4h0M382.4 283.5h0M300.2 281.4h0M462.5 277.9h0M375.3 282.2h0M323.4 280.5h0M296.4 283.5h0M390.7 278.7h0M365.2 282.5h0M391.3 281.0h0M393.2 277.3h0M418.9 282.8h0M308.6 282.8h0M427.9 282.2h0M416.9 283.4h0M327.6 283.1h0M322.1 278.7h0M312.8 282.6h0M450.0 278.7h0M454.1 277.6h0M466.7 277.1h0M429.5 283.5h0M299.8 279.5h0M395.0 280.1h0M423.2 283.3h0M365.8 281.7h0M475.2 283.4h0M349.0 280.5h0M356.9 283.3h0M469.8 282.5h0M425.0 282.6h0M433.3 283.0h0M455.7 280.7h0M379.5 275.7h0M338.5 282.4h0M299.8 282.9h0M293.9 281.8h0M444.0 277.2h0M363.4 282.9h0M451.2 283.0h0M428.2 281.9h0M321.7 282.9h0M475.5 276.4h0M356.2 279.5h0M471.7 280.9h0M423.5 282.1h0M385.9 283.5h0M483.8 280.4h0M331.3 280.9h0M430.3 283.4h0M315.5 283.2h0M417.2 283.3h0M444.4 280.3h0M327.6 282.6h0M479.1 282.3h0M398.0 283.5h0M366.2 283.6h0M296.9 283.2h0M441.0 278.5h0M348.6 283.0h0M375.7 283.4h0M354.3 283.5h0M323.9 283.5h0M411.4 283.2h0M352.1 282.7h0M375.3 278.2h0M452.1 281.8h0M440.2 282.6h0M465.8 277.6h0M332.2 280.7h0M363.0 281.9h0M387.4 282.3h0M297.4 277.0h0M384.2 283.6h0M300.9 279.7h0M360.1 278.0h0M458.0 278.8h0M442.4 280.4h0M461.4 282.0h0M326.5 283.6h0M403.7 282.7h0M455.3 283.6h0M385.8 281.9h0M350.5 282.3h0M305.9 280.3h0M440.0 283.2h0M369.9 281.5h0M476.1 280.8h0M484.0 280.9h0M447.4 281.3h0M475.6 281.7h0M303.4 280.4h0M432.5 283.2h0M476.3 281.4h0M372.7 282.6h0M322.1 276.2h0M340.1 282.7h0M371.6 282.4h0M472.2 281.4h0M318.3 278.7h0M429.4 283.1h0M318.9 277.7h0M350.6 280.2h0M396.9 283.5h0M400.0 279.2h0M442.4 282.5h0M368.7 277.1h0M436.8 283.5h0M436.9 282.0h0M465.9 283.0h0M330.7 282.6h0M339.4 282.9h0M329.3 281.4h0M320.0 281.8h0M383.9 282.9h0M405.0 282.9h0M460.9 275.5h0M479.0 279.5h0M417.5 283.1h0M417.5 282.8h0M454.5 282.9h0M367.6 282.8h0M371.4 278.1h0M427.8 279.7h0M366.7 281.0h0M349.2 280.7h0M441.2 282.9h0M426.7 281.5h0M323.3 280.5h0M365.6 280.6h0M347.9 283.5h0M381.0 283.5h0M426.7 280.0h0M378.7 281.5h0M310.5 281.8h0M406.0 279.2h0M310.9 275.9h0M473.9 283.1h0M360.2 283.6h0M391.8 280.4h0M349.9 281.2h0M426.5 282.9h0M426.5 280.0h0M447.1 282.9h0M375.4 283.4h0M395.1 282.3h0M363.6 281.4h0M327.2 282.8h0M366.3 275.5h0M322.2 282.0h0M421.8 280.6h0M440.1 283.5h0M299.7 277.1h0M377.4 279.5h0M426.3 281.1h0M317.8 279.5h0M365.7 283.1h0M377.8 282.6h0M411.7 283.6h0M330.6 278.3h0M475.7 281.4h0M462.1 276.7h0M408.4 282.4h0M407.7 280.0h0M403.6 282.7h0M438.3 281.4h0M450.2 280.8h0M483.0 280.1h0M454.2 282.0h0M406.3 281.6h0M379.5 278.6h0M339.1 283.0h0M319.0 279.3h0M417.4 282.8h0M440.8 281.8h0M411.8 282.4h0M460.3 283.3h0M305.8 276.2h0M337.9 282.0h0M426.7 283.3h0M338.6 280.7h0M311.7 280.9h0M335.7 279.6h0M329.1 279.7h0M444.7 279.3h0M303.9 281.3h0M360.0 281.7h0M467.0 283.2h0M306.3 276.0h0M305.7 269.9h0M315.3 262.1h0M318.4 276.8h0M301.9 272.9h0M307.9 266.6h0M300.1 267.7h0M314.9 265.5h0M316.6 265.6h0M307.6 268.6h0M315.4 272.0h0M301.6 267.7h0M317.5 265.3h0M310.0 275.3h0M315.8 269.5h0M320.5 272.6h0M313.5 272.1h0M303.1 269.5h0M307.7 269.5h0M304.0 263.3h0M315.6 265.1h0M315.0 264.5h0M300.3 273.3h0M318.7 273.3h0M313.8 262.4h0M317.8 267.4h0M313.0 273.4h0M308.1 263.4h0M313.9 264.7h0M315.9 271.0h0M319.7 268.8h0M301.4 270.8h0M311.6 265.2h0M323.6 274.3h0M317.5 262.9h0M312.9 273.3h0M308.5 271.2h0M315.6 265.7h0M320.1 270.1h0M312.2 270.8h0M315.5 267.3h0M318.9 268.7h0M320.4 273.5h0M317.3 268.5h0M316.9 265.6h0M320.4 266.8h0M308.0 271.2h0M310.8 270.4h0M311.4 269.6h0M306.9 268.1h0M314.2 269.0h0M316.5 267.2h0M313.7 267.6h0M318.3 267.9h0M318.7 269.1h0M313.2 274.0h0M306.1 274.5h0M305.7 266.2h0M307.0 270.0h0M315.2 273.4h0M313.7 266.4h0M308.9 265.1h0M311.3 270.9h0M312.5 268.3h0M313.4 265.6h0M314.1 268.2h0M314.0 268.7h0M318.2 269.4h0M306.3 268.8h0M315.7 266.9h0M315.8 267.8h0M320.6 269.9h0M321.2 266.7h0M310.2 269.5h0M308.8 268.7h0M310.0 272.8h0M310.0 273.3h0M319.0 268.4h0M308.7 270.8h0M320.9 265.9h0M482.9 265.6h0" stroke="#357ebd" stroke-width="1.90" stroke-linecap="round" fill="none"/>
<path d="M392.3 280.0h0M384.1 278.4h0M394.7 278.3h0M379.5 282.0h0M378.0 281.0h0M375.2 280.0h0" stroke="#d43f3a" stroke-width="1.90" stroke-linecap="round" fill="none"/>
<text x="393.00" y="278.20" font-size="6.3" text-anchor="start" fill="#222" stroke="#222" stroke-width="0.25" font-weight="normal" font-style="normal"  textLength="33.5" lengthAdjust="spacingAndGlyphs">rs12276986</text>
<line x1="283.50" y1="287.60" x2="495.00" y2="287.60" stroke="#222" stroke-width="1.3" />
<line x1="289.10" y1="287.60" x2="289.10" y2="290.60" stroke="#222" stroke-width="0.8" />
<line x1="327.56" y1="287.60" x2="327.56" y2="290.60" stroke="#222" stroke-width="0.8" />
<line x1="366.02" y1="287.60" x2="366.02" y2="290.60" stroke="#222" stroke-width="0.8" />
<line x1="404.48" y1="287.60" x2="404.48" y2="290.60" stroke="#222" stroke-width="0.8" />
<line x1="442.94" y1="287.60" x2="442.94" y2="290.60" stroke="#222" stroke-width="0.8" />
<line x1="481.40" y1="287.60" x2="481.40" y2="290.60" stroke="#222" stroke-width="0.8" />
<rect x="500.20" y="198.00" width="3.00" height="9.40" fill="#d43f3a"/>
<rect x="500.20" y="207.40" width="3.00" height="9.40" fill="#eea236"/>
<rect x="500.20" y="216.80" width="3.00" height="9.40" fill="#5cb85c"/>
<rect x="500.20" y="226.20" width="3.00" height="9.40" fill="#46b8da"/>
<rect x="500.20" y="235.60" width="3.00" height="9.40" fill="#357ebd"/>
<text x="500.40" y="194.60" font-size="6.0" text-anchor="start" fill="#333" stroke="#333" stroke-width="0.25" font-weight="normal" font-style="italic" >R<tspan dy="-2" font-size="3.8">2</tspan></text>
<text x="504.40" y="200.80" font-size="6.4" text-anchor="start" fill="#333" stroke="#333" stroke-width="0.25" font-weight="normal" font-style="normal" >1.0</text>
<text x="504.40" y="210.20" font-size="6.4" text-anchor="start" fill="#333" stroke="#333" stroke-width="0.25" font-weight="normal" font-style="normal" >0.8</text>
<text x="504.40" y="219.70" font-size="6.4" text-anchor="start" fill="#333" stroke="#333" stroke-width="0.25" font-weight="normal" font-style="normal" >0.6</text>
<text x="504.40" y="229.10" font-size="6.4" text-anchor="start" fill="#333" stroke="#333" stroke-width="0.25" font-weight="normal" font-style="normal" >0.4</text>
<text x="504.40" y="238.60" font-size="6.4" text-anchor="start" fill="#333" stroke="#333" stroke-width="0.25" font-weight="normal" font-style="normal" >0.2</text>
<text x="504.40" y="247.90" font-size="6.4" text-anchor="start" fill="#333" stroke="#333" stroke-width="0.25" font-weight="normal" font-style="normal" >0</text>
<text x="31.30" y="303.30" font-size="5.5" text-anchor="middle" fill="#444" stroke="#444" stroke-width="0.25" font-weight="normal" font-style="normal" >+</text>
<text x="31.00" y="318.70" font-size="5.5" text-anchor="middle" fill="#444" stroke="#444" stroke-width="0.25" font-weight="normal" font-style="normal" >−</text>
<line x1="37.10" y1="301.30" x2="41.10" y2="301.30" stroke="#555" stroke-width="0.7" />
<rect x="37.10" y="300.40" width="1.30" height="1.80" fill="#555"/>
<rect x="39.60" y="300.40" width="1.50" height="1.80" fill="#555"/>
<line x1="69.40" y1="301.30" x2="73.40" y2="301.30" stroke="#555" stroke-width="0.7" />
<rect x="69.40" y="300.40" width="4.00" height="1.80" fill="#555"/>
<line x1="79.20" y1="301.30" x2="99.60" y2="301.30" stroke="#555" stroke-width="0.7" />
<rect x="80.00" y="300.65" width="1.00" height="1.30" fill="#555"/>
<rect x="84.00" y="300.65" width="1.00" height="1.30" fill="#555"/>
<rect x="88.00" y="300.65" width="1.00" height="1.30" fill="#555"/>
<rect x="92.00" y="300.65" width="1.00" height="1.30" fill="#555"/>
<rect x="96.00" y="300.65" width="1.50" height="1.30" fill="#555"/>
<line x1="105.00" y1="301.30" x2="132.70" y2="301.30" stroke="#555" stroke-width="0.7" />
<rect x="126.00" y="300.55" width="1.00" height="1.50" fill="#555"/>
<rect x="128.50" y="300.55" width="1.00" height="1.50" fill="#555"/>
<rect x="131.00" y="300.55" width="1.70" height="1.50" fill="#555"/>
<line x1="137.30" y1="301.30" x2="146.50" y2="301.30" stroke="#d43f3a" stroke-width="0.7" />
<rect x="137.30" y="300.55" width="0.90" height="1.50" fill="#d43f3a"/>
<rect x="139.50" y="300.55" width="7.00" height="1.50" fill="#d43f3a"/>
<rect x="140.50" y="300.60" width="4.50" height="1.40" fill="#6a1010"/>
<line x1="146.50" y1="301.30" x2="153.50" y2="301.30" stroke="#777" stroke-width="0.6" />
<text x="62.75" y="308.10" font-size="5.3" text-anchor="middle" fill="#333" stroke="#333" stroke-width="0.25" font-weight="normal" font-style="italic"  textLength="25.9" lengthAdjust="spacingAndGlyphs">METTL25B</text>
<text x="90.50" y="308.10" font-size="5.3" text-anchor="middle" fill="#333" stroke="#333" stroke-width="0.25" font-weight="normal" font-style="italic"  textLength="13.0" lengthAdjust="spacingAndGlyphs">PROC</text>
<text x="117.90" y="308.10" font-size="5.3" text-anchor="middle" fill="#333" stroke="#333" stroke-width="0.25" font-weight="normal" font-style="italic"  textLength="13.8" lengthAdjust="spacingAndGlyphs">NTRK1</text>
<text x="141.80" y="308.10" font-size="5.3" text-anchor="middle" fill="#d43f3a" stroke="#d43f3a" stroke-width="0.25" font-weight="normal" font-style="italic"  textLength="15.6" lengthAdjust="spacingAndGlyphs">PEAR1</text>
<text x="156.90" y="299.70" font-size="5.3" text-anchor="middle" fill="#333" stroke="#333" stroke-width="0.25" font-weight="normal" font-style="italic"  textLength="17.8" lengthAdjust="spacingAndGlyphs">LRRC71</text>
<text x="227.80" y="308.20" font-size="5.3" text-anchor="middle" fill="#333" stroke="#333" stroke-width="0.25" font-weight="normal" font-style="italic"  textLength="22.4" lengthAdjust="spacingAndGlyphs">CYCSP52</text>
<text x="57.30" y="315.40" font-size="5.3" text-anchor="middle" fill="#333" stroke="#333" stroke-width="0.25" font-weight="normal" font-style="italic"  textLength="19.6" lengthAdjust="spacingAndGlyphs">CRABP2</text>
<text x="80.10" y="315.40" font-size="5.3" text-anchor="middle" fill="#333" stroke="#333" stroke-width="0.25" font-weight="normal" font-style="italic"  textLength="14.4" lengthAdjust="spacingAndGlyphs">HDGF</text>
<line x1="37.10" y1="316.80" x2="40.60" y2="316.80" stroke="#555" stroke-width="0.7" />
<rect x="37.10" y="316.15" width="1.20" height="1.30" fill="#555"/>
<rect x="39.40" y="316.15" width="1.20" height="1.30" fill="#555"/>
<line x1="44.60" y1="316.80" x2="47.50" y2="316.80" stroke="#555" stroke-width="0.7" />
<rect x="44.60" y="316.15" width="1.20" height="1.30" fill="#555"/>
<rect x="46.30" y="316.15" width="1.20" height="1.30" fill="#555"/>
<line x1="54.40" y1="316.80" x2="58.00" y2="316.80" stroke="#555" stroke-width="0.7" />
<rect x="54.40" y="316.15" width="1.20" height="1.30" fill="#555"/>
<rect x="56.80" y="316.15" width="1.20" height="1.30" fill="#555"/>
<line x1="63.00" y1="316.80" x2="68.80" y2="316.80" stroke="#555" stroke-width="0.7" />
<rect x="63.00" y="316.15" width="1.20" height="1.30" fill="#555"/>
<rect x="67.60" y="316.15" width="1.20" height="1.30" fill="#555"/>
<line x1="73.40" y1="316.80" x2="79.20" y2="316.80" stroke="#555" stroke-width="0.7" />
<rect x="73.40" y="316.15" width="1.20" height="1.30" fill="#555"/>
<rect x="78.00" y="316.15" width="1.20" height="1.30" fill="#555"/>
<line x1="102.70" y1="316.80" x2="106.00" y2="316.80" stroke="#555" stroke-width="0.7" />
<rect x="102.70" y="316.15" width="1.10" height="1.30" fill="#555"/>
<rect x="105.00" y="316.15" width="1.00" height="1.30" fill="#555"/>
<line x1="115.80" y1="316.80" x2="120.40" y2="316.80" stroke="#555" stroke-width="0.7" />
<rect x="115.80" y="316.15" width="1.20" height="1.30" fill="#555"/>
<rect x="118.00" y="316.15" width="2.40" height="1.30" fill="#555"/>
<line x1="154.00" y1="316.80" x2="200.50" y2="316.80" stroke="#777" stroke-width="0.6" />
<rect x="154.00" y="316.15" width="1.00" height="1.30" fill="#777"/>
<rect x="156.50" y="316.15" width="1.00" height="1.30" fill="#777"/>
<rect x="159.00" y="316.15" width="1.00" height="1.30" fill="#777"/>
<rect x="162.00" y="316.15" width="1.00" height="1.30" fill="#777"/>
<rect x="165.00" y="316.15" width="1.00" height="1.30" fill="#777"/>
<rect x="168.00" y="316.15" width="1.00" height="1.30" fill="#777"/>
<rect x="170.00" y="316.15" width="1.00" height="1.30" fill="#777"/>
<line x1="220.00" y1="316.80" x2="227.30" y2="316.80" stroke="#555" stroke-width="0.7" />
<rect x="220.00" y="316.15" width="1.00" height="1.30" fill="#555"/>
<rect x="223.00" y="316.15" width="1.20" height="1.30" fill="#555"/>
<rect x="226.00" y="316.15" width="1.30" height="1.30" fill="#555"/>
<line x1="232.00" y1="316.80" x2="238.50" y2="316.80" stroke="#555" stroke-width="0.7" />
<rect x="232.00" y="316.15" width="1.20" height="1.30" fill="#555"/>
<rect x="235.00" y="316.15" width="1.00" height="1.30" fill="#555"/>
<rect x="237.30" y="316.15" width="1.20" height="1.30" fill="#555"/>
<text x="46.05" y="324.00" font-size="5.3" text-anchor="middle" fill="#333" stroke="#333" stroke-width="0.25" font-weight="normal" font-style="italic"  textLength="9.9" lengthAdjust="spacingAndGlyphs">NES</text>
<text x="66.50" y="324.00" font-size="5.3" text-anchor="middle" fill="#333" stroke="#333" stroke-width="0.25" font-weight="normal" font-style="italic"  textLength="19.6" lengthAdjust="spacingAndGlyphs">ISG20L2</text>
<text x="100.40" y="324.00" font-size="5.3" text-anchor="middle" fill="#333" stroke="#333" stroke-width="0.25" font-weight="normal" font-style="italic"  textLength="20.0" lengthAdjust="spacingAndGlyphs">SH2D2A</text>
<text x="123.75" y="324.00" font-size="5.3" text-anchor="middle" fill="#333" stroke="#333" stroke-width="0.25" font-weight="normal" font-style="italic"  textLength="14.5" lengthAdjust="spacingAndGlyphs">INSRR</text>
<text x="153.00" y="324.00" font-size="5.3" text-anchor="middle" fill="#333" stroke="#333" stroke-width="0.25" font-weight="normal" font-style="italic"  textLength="18.0" lengthAdjust="spacingAndGlyphs">MIR765</text>
<text x="184.00" y="324.00" font-size="5.3" text-anchor="middle" fill="#333" stroke="#333" stroke-width="0.25" font-weight="normal" font-style="italic"  textLength="26.0" lengthAdjust="spacingAndGlyphs">ARHGEF11</text>
<text x="220.55" y="324.00" font-size="5.3" text-anchor="middle" fill="#333" stroke="#333" stroke-width="0.25" font-weight="normal" font-style="italic"  textLength="14.7" lengthAdjust="spacingAndGlyphs">ETV3L</text>
<text x="237.05" y="324.00" font-size="5.3" text-anchor="middle" fill="#333" stroke="#333" stroke-width="0.25" font-weight="normal" font-style="italic"  textLength="12.1" lengthAdjust="spacingAndGlyphs">ETV3</text>
<line x1="34.50" y1="327.80" x2="245.50" y2="327.80" stroke="#222" stroke-width="1.3" />
<line x1="61.30" y1="327.80" x2="61.30" y2="330.80" stroke="#222" stroke-width="0.8" />
<text x="61.30" y="339.70" font-size="6.6" text-anchor="middle" fill="#333" stroke="#333" stroke-width="0.25" font-weight="normal" font-style="normal" >156.7</text>
<line x1="102.40" y1="327.80" x2="102.40" y2="330.80" stroke="#222" stroke-width="0.8" />
<text x="102.40" y="339.70" font-size="6.6" text-anchor="middle" fill="#333" stroke="#333" stroke-width="0.25" font-weight="normal" font-style="normal" >156.8</text>
<line x1="143.50" y1="327.80" x2="143.50" y2="330.80" stroke="#222" stroke-width="0.8" />
<text x="143.50" y="339.70" font-size="6.6" text-anchor="middle" fill="#333" stroke="#333" stroke-width="0.25" font-weight="normal" font-style="normal" >156.9</text>
<line x1="184.60" y1="327.80" x2="184.60" y2="330.80" stroke="#222" stroke-width="0.8" />
<text x="184.60" y="339.70" font-size="6.6" text-anchor="middle" fill="#333" stroke="#333" stroke-width="0.25" font-weight="normal" font-style="normal" >157.0</text>
<line x1="225.70" y1="327.80" x2="225.70" y2="330.80" stroke="#222" stroke-width="0.8" />
<text x="225.70" y="339.70" font-size="6.6" text-anchor="middle" fill="#333" stroke="#333" stroke-width="0.25" font-weight="normal" font-style="normal" >157.1</text>
<text x="140.60" y="351.10" font-size="7.4" text-anchor="middle" fill="#333" stroke="#333" stroke-width="0.25" font-weight="normal" font-style="normal"  textLength="95.2" lengthAdjust="spacingAndGlyphs">Position on chromosome 1 (Mb)</text>
<text x="280.20" y="303.30" font-size="5.5" text-anchor="middle" fill="#444" stroke="#444" stroke-width="0.25" font-weight="normal" font-style="normal" >+</text>
<text x="280.20" y="319.00" font-size="5.5" text-anchor="middle" fill="#444" stroke="#444" stroke-width="0.25" font-weight="normal" font-style="normal" >−</text>
<line x1="288.00" y1="300.90" x2="296.60" y2="300.90" stroke="#555" stroke-width="0.7" />
<rect x="288.00" y="300.25" width="1.20" height="1.30" fill="#555"/>
<rect x="291.00" y="300.25" width="1.00" height="1.30" fill="#555"/>
<rect x="294.00" y="300.25" width="2.60" height="1.30" fill="#555"/>
<line x1="314.80" y1="300.90" x2="320.80" y2="300.90" stroke="#555" stroke-width="0.7" />
<rect x="314.80" y="300.25" width="1.20" height="1.30" fill="#555"/>
<rect x="317.50" y="300.25" width="1.00" height="1.30" fill="#555"/>
<rect x="319.80" y="300.25" width="1.00" height="1.30" fill="#555"/>
<line x1="329.50" y1="300.90" x2="336.40" y2="300.90" stroke="#555" stroke-width="0.7" />
<rect x="329.50" y="300.25" width="1.20" height="1.30" fill="#555"/>
<rect x="332.00" y="300.25" width="1.00" height="1.30" fill="#555"/>
<rect x="335.00" y="300.25" width="1.40" height="1.30" fill="#555"/>
<line x1="347.70" y1="300.90" x2="356.30" y2="300.90" stroke="#555" stroke-width="0.7" />
<rect x="347.70" y="300.25" width="1.30" height="1.30" fill="#555"/>
<rect x="351.00" y="300.25" width="1.00" height="1.30" fill="#555"/>
<rect x="354.50" y="300.25" width="1.80" height="1.30" fill="#555"/>
<line x1="368.00" y1="300.90" x2="410.40" y2="300.90" stroke="#d43f3a" stroke-width="0.7" />
<rect x="375.00" y="300.10" width="1.00" height="1.60" fill="#d43f3a"/>
<rect x="385.00" y="300.10" width="1.00" height="1.60" fill="#d43f3a"/>
<rect x="394.00" y="300.10" width="2.50" height="1.60" fill="#d43f3a"/>
<rect x="398.00" y="300.10" width="2.00" height="1.60" fill="#d43f3a"/>
<rect x="402.50" y="300.10" width="2.00" height="1.60" fill="#d43f3a"/>
<rect x="406.00" y="300.10" width="2.00" height="1.60" fill="#d43f3a"/>
<line x1="417.50" y1="300.90" x2="418.70" y2="300.90" stroke="#555" stroke-width="0.7" />
<rect x="417.50" y="300.25" width="1.20" height="1.30" fill="#555"/>
<line x1="429.40" y1="300.90" x2="492.30" y2="300.90" stroke="#888" stroke-width="0.6" />
<text x="316.50" y="299.70" font-size="5.3" text-anchor="middle" fill="#333" stroke="#333" stroke-width="0.25" font-weight="normal" font-style="italic"  textLength="15.6" lengthAdjust="spacingAndGlyphs">VPS11</text>
<text x="336.30" y="299.70" font-size="5.3" text-anchor="middle" fill="#333" stroke="#333" stroke-width="0.25" font-weight="normal" font-style="italic"  textLength="19.4" lengthAdjust="spacingAndGlyphs">C2CD2L</text>
<text x="356.35" y="299.70" font-size="5.3" text-anchor="middle" fill="#333" stroke="#333" stroke-width="0.25" font-weight="normal" font-style="italic"  textLength="17.3" lengthAdjust="spacingAndGlyphs">ABCG4</text>
<text x="297.45" y="308.30" font-size="5.3" text-anchor="middle" fill="#333" stroke="#333" stroke-width="0.25" font-weight="normal" font-style="italic"  textLength="22.5" lengthAdjust="spacingAndGlyphs">TRAPPC4</text>
<text x="318.25" y="308.30" font-size="5.3" text-anchor="middle" fill="#333" stroke="#333" stroke-width="0.25" font-weight="normal" font-style="italic"  textLength="11.1" lengthAdjust="spacingAndGlyphs">HMBS</text>
<text x="337.70" y="308.30" font-size="5.3" text-anchor="middle" fill="#333" stroke="#333" stroke-width="0.25" font-weight="normal" font-style="italic"  textLength="13.0" lengthAdjust="spacingAndGlyphs">HINFP</text>
<text x="357.70" y="308.30" font-size="5.3" text-anchor="middle" fill="#333" stroke="#333" stroke-width="0.25" font-weight="normal" font-style="italic"  textLength="16.6" lengthAdjust="spacingAndGlyphs">NLRX1</text>
<text x="390.85" y="308.30" font-size="5.3" text-anchor="middle" fill="#d43f3a" stroke="#d43f3a" stroke-width="0.25" font-weight="normal" font-style="italic"  textLength="9.7" lengthAdjust="spacingAndGlyphs">CBL</text>
<text x="419.85" y="308.30" font-size="5.3" text-anchor="middle" fill="#333" stroke="#333" stroke-width="0.25" font-weight="normal" font-style="italic"  textLength="15.7" lengthAdjust="spacingAndGlyphs">RNF26</text>
<text x="458.95" y="308.30" font-size="5.3" text-anchor="middle" fill="#333" stroke="#333" stroke-width="0.25" font-weight="normal" font-style="italic"  textLength="25.1" lengthAdjust="spacingAndGlyphs">USP2-AS1</text>
<text x="309.20" y="314.40" font-size="5.3" text-anchor="middle" fill="#333" stroke="#333" stroke-width="0.25" font-weight="normal" font-style="italic"  textLength="16.4" lengthAdjust="spacingAndGlyphs">HYOU1</text>
<text x="421.60" y="314.40" font-size="5.3" text-anchor="middle" fill="#333" stroke="#333" stroke-width="0.25" font-weight="normal" font-style="italic"  textLength="24.2" lengthAdjust="spacingAndGlyphs">C1QTNF5</text>
<line x1="295.00" y1="316.70" x2="300.60" y2="316.70" stroke="#555" stroke-width="0.7" />
<rect x="295.00" y="316.05" width="1.20" height="1.30" fill="#555"/>
<rect x="299.40" y="316.05" width="1.20" height="1.30" fill="#555"/>
<line x1="306.00" y1="316.70" x2="310.50" y2="316.70" stroke="#555" stroke-width="0.7" />
<rect x="306.00" y="316.05" width="1.20" height="1.30" fill="#555"/>
<rect x="308.30" y="316.05" width="2.20" height="1.30" fill="#555"/>
<line x1="325.00" y1="316.70" x2="327.80" y2="316.70" stroke="#555" stroke-width="0.7" />
<rect x="325.00" y="316.05" width="2.80" height="1.30" fill="#555"/>
<line x1="362.20" y1="316.70" x2="363.40" y2="316.70" stroke="#555" stroke-width="0.7" />
<rect x="362.20" y="316.05" width="1.20" height="1.30" fill="#555"/>
<line x1="407.80" y1="316.70" x2="411.20" y2="316.70" stroke="#555" stroke-width="0.7" />
<rect x="407.80" y="316.05" width="1.20" height="1.30" fill="#555"/>
<rect x="410.00" y="316.05" width="1.20" height="1.30" fill="#555"/>
<line x1="419.00" y1="316.70" x2="422.50" y2="316.70" stroke="#555" stroke-width="0.7" />
<rect x="419.00" y="316.05" width="1.20" height="1.30" fill="#555"/>
<rect x="421.30" y="316.05" width="1.20" height="1.30" fill="#555"/>
<line x1="426.00" y1="316.70" x2="436.30" y2="316.70" stroke="#555" stroke-width="0.7" />
<rect x="426.00" y="316.05" width="1.20" height="1.30" fill="#555"/>
<rect x="429.00" y="316.05" width="1.00" height="1.30" fill="#555"/>
<rect x="432.00" y="316.05" width="1.00" height="1.30" fill="#555"/>
<rect x="435.00" y="316.05" width="1.30" height="1.30" fill="#555"/>
<line x1="449.00" y1="316.70" x2="452.50" y2="316.70" stroke="#555" stroke-width="0.7" />
<rect x="449.00" y="316.05" width="1.20" height="1.30" fill="#555"/>
<rect x="451.30" y="316.05" width="1.20" height="1.30" fill="#555"/>
<text x="300.50" y="323.40" font-size="5.3" text-anchor="middle" fill="#333" stroke="#333" stroke-width="0.25" font-weight="normal" font-style="italic"  textLength="21.6" lengthAdjust="spacingAndGlyphs">SLC37A4</text>
<text x="327.30" y="323.40" font-size="5.3" text-anchor="middle" fill="#333" stroke="#333" stroke-width="0.25" font-weight="normal" font-style="italic"  textLength="13.0" lengthAdjust="spacingAndGlyphs">H2AX</text>
<text x="363.40" y="323.40" font-size="5.3" text-anchor="middle" fill="#333" stroke="#333" stroke-width="0.25" font-weight="normal" font-style="italic"  textLength="24.8" lengthAdjust="spacingAndGlyphs">CCDC153</text>
<text x="408.00" y="323.40" font-size="5.3" text-anchor="middle" fill="#333" stroke="#333" stroke-width="0.25" font-weight="normal" font-style="italic"  textLength="16.8" lengthAdjust="spacingAndGlyphs">MCAM</text>
<text x="430.25" y="323.40" font-size="5.3" text-anchor="middle" fill="#333" stroke="#333" stroke-width="0.25" font-weight="normal" font-style="italic"  textLength="12.1" lengthAdjust="spacingAndGlyphs">USP2</text>
<text x="449.30" y="323.40" font-size="5.3" text-anchor="middle" fill="#333" stroke="#333" stroke-width="0.25" font-weight="normal" font-style="italic"  textLength="12.6" lengthAdjust="spacingAndGlyphs">THY1</text>
<line x1="283.50" y1="327.80" x2="495.00" y2="327.80" stroke="#222" stroke-width="1.3" />
<line x1="289.10" y1="327.80" x2="289.10" y2="330.80" stroke="#222" stroke-width="0.8" />
<text x="289.10" y="339.70" font-size="6.6" text-anchor="middle" fill="#333" stroke="#333" stroke-width="0.25" font-weight="normal" font-style="normal" >119.0</text>
<line x1="327.56" y1="327.80" x2="327.56" y2="330.80" stroke="#222" stroke-width="0.8" />
<text x="327.56" y="339.70" font-size="6.6" text-anchor="middle" fill="#333" stroke="#333" stroke-width="0.25" font-weight="normal" font-style="normal" >119.1</text>
<line x1="366.02" y1="327.80" x2="366.02" y2="330.80" stroke="#222" stroke-width="0.8" />
<text x="366.02" y="339.70" font-size="6.6" text-anchor="middle" fill="#333" stroke="#333" stroke-width="0.25" font-weight="normal" font-style="normal" >119.2</text>
<line x1="404.48" y1="327.80" x2="404.48" y2="330.80" stroke="#222" stroke-width="0.8" />
<text x="404.48" y="339.70" font-size="6.6" text-anchor="middle" fill="#333" stroke="#333" stroke-width="0.25" font-weight="normal" font-style="normal" >119.3</text>
<line x1="442.94" y1="327.80" x2="442.94" y2="330.80" stroke="#222" stroke-width="0.8" />
<text x="442.94" y="339.70" font-size="6.6" text-anchor="middle" fill="#333" stroke="#333" stroke-width="0.25" font-weight="normal" font-style="normal" >119.4</text>
<line x1="481.40" y1="327.80" x2="481.40" y2="330.80" stroke="#222" stroke-width="0.8" />
<text x="481.40" y="339.70" font-size="6.6" text-anchor="middle" fill="#333" stroke="#333" stroke-width="0.25" font-weight="normal" font-style="normal" >119.5</text>
<text x="389.65" y="351.10" font-size="7.4" text-anchor="middle" fill="#333" stroke="#333" stroke-width="0.25" font-weight="normal" font-style="normal"  textLength="98.7" lengthAdjust="spacingAndGlyphs">Position on chromosome 11 (Mb)</text>
<rect x="0.5" y="0.5" width="519" height="359" fill="none" stroke="#5a5a5a" stroke-width="1"/>
</svg>
</body></html>
